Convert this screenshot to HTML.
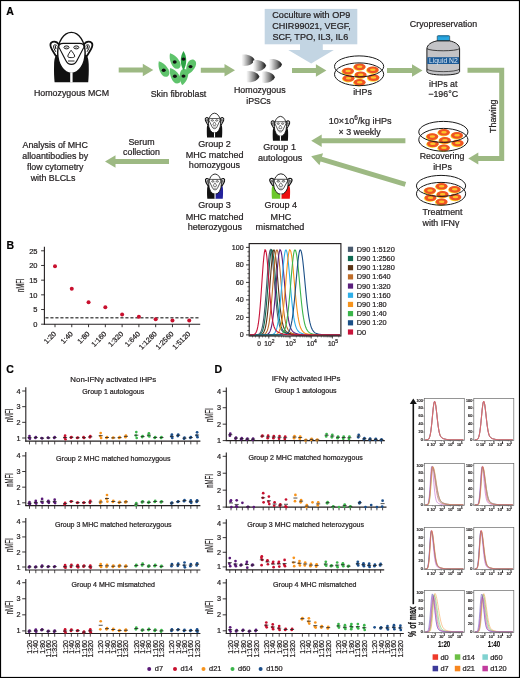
<!DOCTYPE html>
<html><head><meta charset="utf-8"><style>
html,body{margin:0;padding:0;background:#fff;}
svg{display:block;will-change:transform;}
text{font-family:"Liberation Sans", sans-serif;stroke:#231f20;stroke-width:0.22px;}
</style></head><body>
<svg width="520" height="678" viewBox="0 0 520 678" font-family='"Liberation Sans", sans-serif'>
<rect x="0" y="0" width="520" height="678" fill="#fff"/>
<defs>
<symbol id="monkey" viewBox="0 0 53 58" overflow="visible">
  <g fill="#fff" stroke="#111" stroke-width="1.80">
    <path d="M14,16.5 C12.5,14.2 9.8,13.2 7.6,13.8 C5.6,14.5 5.1,16.8 5.8,19 C6.8,22 9,24.8 10.8,27.8 L13.2,27.8 Z"/>
    <path d="M38.8,16.5 C40.3,14.2 43,13.2 45.2,13.8 C47.2,14.5 47.7,16.8 47,19 C46,22 43.8,24.8 42,27.8 L39.6,27.8 Z"/>
  </g>
  <g fill="none" stroke="#111" stroke-width="1.00">
    <path d="M12.4,18.2 C11.2,16.6 9.4,16.4 8.6,17.6 C8.2,19 9.3,21.5 10.8,23.8"/>
    <path d="M40.4,18.2 C41.6,16.6 43.4,16.4 44.2,17.6 C44.6,19 43.5,21.5 42,23.8"/>
  </g>
  <path d="M10.2,17.6 L10.9,21.2" stroke="#111" stroke-width="1.10"/>
  <path d="M42.6,17.6 L41.9,21.2" stroke="#111" stroke-width="1.10"/>
  <ellipse cx="26.4" cy="24.9" rx="13.7" ry="20.5" fill="#fff" stroke="#111" stroke-width="1.40"/>
  <path d="M18.2,15.4 L34.6,15.4 C37.8,15.4 39.5,16.9 38.8,19.4 L32,32.4 C30.6,35.4 28.5,36.3 26.4,36.3 C24.3,36.3 22.2,35.4 20.8,32.4 L14,19.4 C13.3,16.9 15,15.4 18.2,15.4 Z" fill="#fff" stroke="#111" stroke-width="1.15"/>
  <ellipse cx="21.5" cy="19.4" rx="2.5" ry="1.5" fill="#fff" stroke="#111" stroke-width="1.00"/>
  <ellipse cx="31.3" cy="19.4" rx="2.5" ry="1.5" fill="#fff" stroke="#111" stroke-width="1.00"/>
  <ellipse cx="21.5" cy="19.4" rx="1" ry="0.55" fill="#999"/>
  <ellipse cx="31.3" cy="19.4" rx="1" ry="0.55" fill="#999"/>
  <path d="M26.1,22.3 C25,23.8 22.8,26.8 22.8,28.2 C22.8,29.4 24.3,29.6 26.2,29.6 C28.1,29.6 29.7,29.4 29.7,28.2 C29.7,26.8 27.3,23.8 26.1,22.3 Z" fill="#fff" stroke="#111" stroke-width="0.95"/>
  <rect x="23" y="32.4" width="6.5" height="1.2" fill="#555"/>
  <rect x="25.2" y="44.5" width="2.4" height="10" fill="#fff"/>
</symbol>

<symbol id="monkeys" viewBox="0 0 53 58" overflow="visible">
  <g fill="#fff" stroke="#111" stroke-width="2.34">
    <path d="M14,16.5 C12.5,14.2 9.8,13.2 7.6,13.8 C5.6,14.5 5.1,16.8 5.8,19 C6.8,22 9,24.8 10.8,27.8 L13.2,27.8 Z"/>
    <path d="M38.8,16.5 C40.3,14.2 43,13.2 45.2,13.8 C47.2,14.5 47.7,16.8 47,19 C46,22 43.8,24.8 42,27.8 L39.6,27.8 Z"/>
  </g>
  <g fill="none" stroke="#111" stroke-width="1.30">
    <path d="M12.4,18.2 C11.2,16.6 9.4,16.4 8.6,17.6 C8.2,19 9.3,21.5 10.8,23.8"/>
    <path d="M40.4,18.2 C41.6,16.6 43.4,16.4 44.2,17.6 C44.6,19 43.5,21.5 42,23.8"/>
  </g>
  <path d="M10.2,17.6 L10.9,21.2" stroke="#111" stroke-width="1.43"/>
  <path d="M42.6,17.6 L41.9,21.2" stroke="#111" stroke-width="1.43"/>
  <ellipse cx="26.4" cy="24.9" rx="13.7" ry="20.5" fill="#fff" stroke="#111" stroke-width="1.82"/>
  <path d="M18.2,15.4 L34.6,15.4 C37.8,15.4 39.5,16.9 38.8,19.4 L32,32.4 C30.6,35.4 28.5,36.3 26.4,36.3 C24.3,36.3 22.2,35.4 20.8,32.4 L14,19.4 C13.3,16.9 15,15.4 18.2,15.4 Z" fill="#fff" stroke="#111" stroke-width="1.49"/>
  <ellipse cx="21.5" cy="19.4" rx="2.5" ry="1.5" fill="#fff" stroke="#111" stroke-width="1.30"/>
  <ellipse cx="31.3" cy="19.4" rx="2.5" ry="1.5" fill="#fff" stroke="#111" stroke-width="1.30"/>
  <ellipse cx="21.5" cy="19.4" rx="1" ry="0.55" fill="#999"/>
  <ellipse cx="31.3" cy="19.4" rx="1" ry="0.55" fill="#999"/>
  <path d="M26.1,22.3 C25,23.8 22.8,26.8 22.8,28.2 C22.8,29.4 24.3,29.6 26.2,29.6 C28.1,29.6 29.7,29.4 29.7,28.2 C29.7,26.8 27.3,23.8 26.1,22.3 Z" fill="#fff" stroke="#111" stroke-width="1.23"/>
  <rect x="23" y="32.4" width="6.5" height="1.2" fill="#555"/>
  <rect x="25.2" y="44.5" width="2.4" height="10" fill="#fff"/>
</symbol>

<linearGradient id="ipsc" x1="0" y1="0" x2="1" y2="0">
  <stop offset="0" stop-color="#ffffff"/>
  <stop offset="0.2" stop-color="#dcdcdc"/>
  <stop offset="0.6" stop-color="#808080"/>
  <stop offset="0.88" stop-color="#2e2e2e"/>
  <stop offset="1" stop-color="#3a3a3a"/>
</linearGradient>
<symbol id="ipscb" viewBox="0 0 13.5 11.8" overflow="visible">
  <path d="M1.2,0.3 C7.5,-0.3 12.2,2.6 13.4,5.9 C12.2,9.2 7.5,12.1 1.2,11.5 C0.4,11.4 0.1,10.8 0.1,10 L0.1,1.8 C0.1,1 0.4,0.4 1.2,0.3 Z" fill="url(#ipsc)"/>
</symbol>
<g id="dish">
<ellipse cx="0.10" cy="-2.70" rx="6.1" ry="3.6" fill="#fde12d"/>
<ellipse cx="0.60" cy="-3.20" rx="5.9" ry="3.3" fill="#ef5323"/>
<ellipse cx="0.60" cy="-3.30" rx="2.8" ry="1.2" fill="#fcc42a"/>
<ellipse cx="-11.50" cy="1.60" rx="6.1" ry="3.6" fill="#fde12d"/>
<ellipse cx="-11.00" cy="1.10" rx="5.9" ry="3.3" fill="#ef5323"/>
<ellipse cx="-11.00" cy="1.00" rx="2.8" ry="1.2" fill="#fcc42a"/>
<ellipse cx="13.20" cy="0.40" rx="6.1" ry="3.6" fill="#fde12d"/>
<ellipse cx="13.70" cy="-0.10" rx="5.9" ry="3.3" fill="#ef5323"/>
<ellipse cx="13.70" cy="-0.20" rx="2.8" ry="1.2" fill="#fcc42a"/>
<ellipse cx="1.10" cy="5.40" rx="6.1" ry="3.6" fill="#fde12d"/>
<ellipse cx="1.60" cy="4.90" rx="5.9" ry="3.3" fill="#ef5323"/>
<ellipse cx="1.60" cy="4.80" rx="2.8" ry="1.2" fill="#fcc42a"/>
<ellipse cx="-11.00" cy="8.80" rx="6.1" ry="3.6" fill="#fde12d"/>
<ellipse cx="-10.50" cy="8.30" rx="5.9" ry="3.3" fill="#ef5323"/>
<ellipse cx="-10.50" cy="8.20" rx="2.8" ry="1.2" fill="#fcc42a"/>
<ellipse cx="13.90" cy="8.10" rx="6.1" ry="3.6" fill="#fde12d"/>
<ellipse cx="14.40" cy="7.60" rx="5.9" ry="3.3" fill="#ef5323"/>
<ellipse cx="14.40" cy="7.50" rx="2.8" ry="1.2" fill="#fcc42a"/>
<ellipse cx="0.10" cy="12.80" rx="6.1" ry="3.6" fill="#fde12d"/>
<ellipse cx="0.60" cy="12.30" rx="5.9" ry="3.3" fill="#ef5323"/>
<ellipse cx="0.60" cy="12.20" rx="2.8" ry="1.2" fill="#fcc42a"/>
<ellipse cx="0" cy="-3.6" rx="24.6" ry="10.5" fill="none" stroke="#1a1a1a" stroke-width="1"/>
<ellipse cx="0" cy="4.3" rx="24.6" ry="11.4" fill="none" stroke="#1a1a1a" stroke-width="1"/>
</g></defs>
<text x="6.30" y="15.20" font-size="10.5" text-anchor="start" fill="#000" font-weight="bold" >A</text>
<g transform="translate(45,28) scale(1.0000,1.0000)"><path d="M12.5,26.5 C10,27 9.2,32 9.1,36 C8.8,44 9.2,50 9.6,54.3 L26.4,54.3 L26.4,26 Z" fill="#111"/><path d="M26.4,26 L26.4,54.3 L43.2,54.3 C43.6,50 44,44 43.7,36 C43.6,32 42.8,27 40.3,26.5 Z" fill="#111"/><use href="#monkey" x="0" y="0" width="53" height="58"/></g>
<text x="71.50" y="96.20" font-size="8.85" text-anchor="middle" fill="#231f20" font-weight="normal" >Homozygous MCM</text>
<polygon points="118.70,67.60 142.80,67.60 142.80,63.85 153.30,70.10 142.80,76.35 142.80,72.60 118.70,72.60" fill="#9db983"/>
<path d="M0,-8.75 C4.80,-3.94 6.48,8.31 0,8.75 C-6.48,8.31 -4.80,-3.94 0,-8.75 Z" fill="#5ec36b" transform="translate(163.20,68.80) rotate(-30)"/>
<path d="M0,-8.75 C4.80,-3.94 6.48,8.31 0,8.75 C-6.48,8.31 -4.80,-3.94 0,-8.75 Z" fill="#5ec36b" transform="translate(174.40,60.80) rotate(-30)"/>
<path d="M0,-8.25 C4.80,-3.71 6.48,7.84 0,8.25 C-6.48,7.84 -4.80,-3.71 0,-8.25 Z" fill="#5ec36b" transform="translate(190.40,67.20) rotate(205)"/>
<path d="M0,-8.75 C4.80,-3.94 6.48,8.31 0,8.75 C-6.48,8.31 -4.80,-3.94 0,-8.75 Z" fill="#5ec36b" transform="translate(174.60,75.50) rotate(-30)"/>
<path d="M0,-8.25 C4.70,-3.71 6.35,7.84 0,8.25 C-6.35,7.84 -4.70,-3.71 0,-8.25 Z" fill="#5ec36b" transform="translate(183.60,77.00) rotate(190)"/>
<path d="M0,-9.60 C3.64,-3.84 3.64,3.84 0,9.60 C-3.64,3.84 -3.64,-3.84 0,-9.60 Z" fill="#2ea446" transform="translate(183.50,60.60) rotate(0)"/>
<ellipse cx="163.7" cy="70.2" rx="2.0" ry="1.7" fill="#111"/>
<ellipse cx="174.7" cy="62" rx="2.0" ry="1.7" fill="#111"/>
<ellipse cx="183.5" cy="59.1" rx="2.0" ry="1.7" fill="#111"/>
<ellipse cx="190.5" cy="66.6" rx="2.0" ry="1.7" fill="#111"/>
<ellipse cx="174.9" cy="76.3" rx="2.0" ry="1.7" fill="#111"/>
<ellipse cx="183.5" cy="76.1" rx="2.0" ry="1.7" fill="#111"/>
<text x="178.50" y="96.70" font-size="8.85" text-anchor="middle" fill="#231f20" font-weight="normal" >Skin fibroblast</text>
<polygon points="200.80,67.70 224.50,67.70 224.50,63.95 235.00,70.20 224.50,76.45 224.50,72.70 200.80,72.70" fill="#9db983"/>
<use href="#ipscb" x="241.3" y="54.3" width="13.5" height="11.8"/>
<use href="#ipscb" x="252.8" y="59.9" width="13.5" height="11.8"/>
<use href="#ipscb" x="268.7" y="58.7" width="13.5" height="11.8"/>
<use href="#ipscb" x="246.1" y="70.7" width="13.5" height="11.8"/>
<use href="#ipscb" x="261.5" y="71.3" width="13.5" height="11.8"/>
<text x="259.80" y="93.20" font-size="8.85" text-anchor="middle" fill="#231f20" font-weight="normal" >Homozygous</text>
<text x="258.50" y="103.60" font-size="8.85" text-anchor="middle" fill="#231f20" font-weight="normal" >iPSCs</text>
<rect x="264.7" y="8.9" width="92.6" height="35.4" fill="#c3d5e3"/>
<polygon points="300,44 322.8,44 322.8,50 333.8,50 311.2,63.5 288.3,50 300,50" fill="#c3d5e3"/>
<text x="311.30" y="17.90" font-size="9.05" text-anchor="middle" fill="#231f20" font-weight="normal" >Coculture with OP9</text>
<text x="311.50" y="29.10" font-size="9.05" text-anchor="middle" fill="#231f20" font-weight="normal" >CHIR99021, VEGF,</text>
<text x="310.30" y="40.10" font-size="9.05" text-anchor="middle" fill="#231f20" font-weight="normal" >SCF, TPO, IL3, IL6</text>
<polygon points="292.00,68.00 315.90,68.00 315.90,64.25 326.40,70.50 315.90,76.75 315.90,73.00 292.00,73.00" fill="#9db983"/>
<use href="#dish" x="359.1" y="70"/>
<text x="362.50" y="95.20" font-size="8.85" text-anchor="middle" fill="#231f20" font-weight="normal" >iHPs</text>
<polygon points="387.00,67.90 412.00,67.90 412.00,64.15 422.50,70.40 412.00,76.65 412.00,72.90 387.00,72.90" fill="#9db983"/>
<text x="443.50" y="26.80" font-size="8.85" text-anchor="middle" fill="#231f20" font-weight="normal" >Cryopreservation</text>
<g>
<path d="M437.2,41 L437.2,36.6 Q437.2,35.6 438.4,35.6 L448.5,35.6 Q449.7,35.6 449.7,36.6 L449.7,41 Z" fill="#27a7e0" stroke="#1a1a1a" stroke-width="0.5"/>
<ellipse cx="443.45" cy="36.3" rx="6.1" ry="0.9" fill="#1e8cc4"/>
<path d="M437,40.9 C431,42 427,45 426.9,48.8 L426.9,71.5 C426.9,73.5 433,75 443.3,75 C453.6,75 459.6,73.5 459.6,71.5 L459.6,48.8 C459.5,45 455.5,42 449.6,40.9 Z" fill="#c3c3c6" stroke="#1a1a1a" stroke-width="1"/>
<path d="M426.9,48.6 C430,51.5 456.5,51.5 459.6,48.6" fill="none" stroke="#1a1a1a" stroke-width="0.8"/>
<path d="M426.9,69 C430,72.5 456.5,72.5 459.6,69" fill="none" stroke="#1a1a1a" stroke-width="0.7"/>
<rect x="427.3" y="57.2" width="31.9" height="6.8" fill="#1b5a97"/>
<text x="443.4" y="62.8" font-size="6.8" text-anchor="middle" fill="#dce8f5" style="stroke:none">Liquid N2</text>
</g>
<text x="443.20" y="86.50" font-size="8.85" text-anchor="middle" fill="#231f20" font-weight="normal" >iHPs at</text>
<text x="443.20" y="96.80" font-size="8.85" text-anchor="middle" fill="#231f20" font-weight="normal" >&#8722;196&#176;C</text>
<polyline points="467.5,70.2 501.7,70.2 501.7,158.5 477.5,158.5" fill="none" stroke="#9db983" stroke-width="5"/>
<polygon points="478.3,152.6 468.3,158.5 478.3,164.6" fill="#9db983"/>
<text x="0" y="0" font-size="8.85" text-anchor="middle" fill="#231f20" transform="translate(496.3,116.2) rotate(-90)">Thawing</text>
<use href="#dish" x="443.35" y="135.5"/>
<text x="442.00" y="159.20" font-size="8.85" text-anchor="middle" fill="#231f20" font-weight="normal" >Recovering</text>
<text x="442.50" y="170.10" font-size="8.85" text-anchor="middle" fill="#231f20" font-weight="normal" >iHPs</text>
<use href="#dish" x="441.05" y="189.5"/>
<text x="442.50" y="215.00" font-size="8.85" text-anchor="middle" fill="#231f20" font-weight="normal" >Treatment</text>
<text x="441.00" y="225.60" font-size="8.85" text-anchor="middle" fill="#231f20" font-weight="normal" >with IFN&#947;</text>
<polygon points="405.40,138.30 321.70,138.30 321.70,134.55 311.20,140.80 321.70,147.05 321.70,143.30 405.40,143.30" fill="#9db983"/>
<polygon points="406.12,182.01 321.98,156.82 323.05,153.22 311.20,156.20 319.47,165.20 320.54,161.61 404.68,186.79" fill="#9db983"/>
<text x="360.2" y="123.5" font-size="9.1" text-anchor="middle" fill="#231f20">10&#215;10<tspan font-size="6.4" dy="-3.6">6</tspan><tspan dy="3.6">/kg iHPs</tspan></text>
<text x="359.60" y="134.50" font-size="8.85" text-anchor="middle" fill="#231f20" font-weight="normal" >&#215; 3 weekly</text>
<g transform="translate(202.8,111.0) scale(0.4440,0.4870)"><path d="M12.5,26.5 C10,27 9.2,32 9.1,36 C8.8,44 9.2,50 9.6,54.3 L26.4,54.3 L26.4,26 Z" fill="#111"/><path d="M26.4,26 L26.4,54.3 L43.2,54.3 C43.6,50 44,44 43.7,36 C43.6,32 42.8,27 40.3,26.5 Z" fill="#111"/><use href="#monkeys" x="0" y="0" width="53" height="58"/></g>
<g transform="translate(268.7,114.2) scale(0.4440,0.4880)"><path d="M12.5,26.5 C10,27 9.2,32 9.1,36 C8.8,44 9.2,50 9.6,54.3 L26.4,54.3 L26.4,26 Z" fill="#111"/><path d="M26.4,26 L26.4,54.3 L43.2,54.3 C43.6,50 44,44 43.7,36 C43.6,32 42.8,27 40.3,26.5 Z" fill="#111"/><use href="#monkeys" x="0" y="0" width="53" height="58"/></g>
<g transform="translate(202.9,171.8) scale(0.4600,0.4950)"><path d="M12.5,26.5 C10,27 9.2,32 9.1,36 C8.8,44 9.2,50 9.6,54.3 L26.4,54.3 L26.4,26 Z" fill="#111"/><path d="M26.4,26 L26.4,54.3 L43.2,54.3 C43.6,50 44,44 43.7,36 C43.6,32 42.8,27 40.3,26.5 Z" fill="#23219b"/><use href="#monkeys" x="0" y="0" width="53" height="58"/></g>
<g transform="translate(266.9,171.6) scale(0.5300,0.5000)"><path d="M12.5,26.5 C10,27 9.2,32 9.1,36 C8.8,44 9.2,50 9.6,54.3 L26.4,54.3 L26.4,26 Z" fill="#6cc72a"/><path d="M26.4,26 L26.4,54.3 L43.2,54.3 C43.6,50 44,44 43.7,36 C43.6,32 42.8,27 40.3,26.5 Z" fill="#ec1010"/><use href="#monkeys" x="0" y="0" width="53" height="58"/></g>
<text x="214.50" y="146.50" font-size="9.05" text-anchor="middle" fill="#231f20" font-weight="normal" >Group 2</text>
<text x="214.60" y="157.50" font-size="9.05" text-anchor="middle" fill="#231f20" font-weight="normal" >MHC matched</text>
<text x="214.50" y="168.00" font-size="9.05" text-anchor="middle" fill="#231f20" font-weight="normal" >homozygous</text>
<text x="279.60" y="150.40" font-size="9.05" text-anchor="middle" fill="#231f20" font-weight="normal" >Group 1</text>
<text x="280.20" y="160.80" font-size="9.05" text-anchor="middle" fill="#231f20" font-weight="normal" >autologous</text>
<text x="214.50" y="207.80" font-size="9.05" text-anchor="middle" fill="#231f20" font-weight="normal" >Group 3</text>
<text x="214.60" y="219.50" font-size="9.05" text-anchor="middle" fill="#231f20" font-weight="normal" >MHC matched</text>
<text x="214.80" y="229.80" font-size="9.05" text-anchor="middle" fill="#231f20" font-weight="normal" >heterozygous</text>
<text x="280.80" y="207.80" font-size="9.05" text-anchor="middle" fill="#231f20" font-weight="normal" >Group 4</text>
<text x="280.90" y="219.50" font-size="9.05" text-anchor="middle" fill="#231f20" font-weight="normal" >MHC</text>
<text x="280.00" y="229.90" font-size="9.05" text-anchor="middle" fill="#231f20" font-weight="normal" >mismatched</text>
<polygon points="169.00,159.10 115.50,159.10 115.50,155.35 105.00,161.60 115.50,167.85 115.50,164.10 169.00,164.10" fill="#9db983"/>
<text x="141.50" y="144.60" font-size="8.85" text-anchor="middle" fill="#231f20" font-weight="normal" >Serum</text>
<text x="141.50" y="154.60" font-size="8.85" text-anchor="middle" fill="#231f20" font-weight="normal" >collection</text>
<text x="55.20" y="147.80" font-size="8.85" text-anchor="middle" fill="#231f20" font-weight="normal" >Analysis of MHC</text>
<text x="55.20" y="158.50" font-size="8.85" text-anchor="middle" fill="#231f20" font-weight="normal" >alloantibodies by</text>
<text x="55.20" y="169.80" font-size="8.85" text-anchor="middle" fill="#231f20" font-weight="normal" >flow cytometry</text>
<text x="53.00" y="181.00" font-size="8.85" text-anchor="middle" fill="#231f20" font-weight="normal" >with BLCLs</text>
<text x="6.60" y="248.90" font-size="10.5" text-anchor="start" fill="#000" font-weight="bold" >B</text>
<line x1="44.4" y1="246.8" x2="44.4" y2="324.7" stroke="#231f20" stroke-width="1.1"/>
<line x1="43.9" y1="324.2" x2="200.2" y2="324.2" stroke="#231f20" stroke-width="1.1"/>
<line x1="41.1" y1="324.20" x2="44.4" y2="324.20" stroke="#231f20" stroke-width="0.9"/>
<text x="37.50" y="326.90" font-size="7.5" text-anchor="end" fill="#231f20" font-weight="normal" >0</text>
<line x1="41.1" y1="309.52" x2="44.4" y2="309.52" stroke="#231f20" stroke-width="0.9"/>
<text x="37.50" y="312.22" font-size="7.5" text-anchor="end" fill="#231f20" font-weight="normal" >5</text>
<line x1="41.1" y1="294.84" x2="44.4" y2="294.84" stroke="#231f20" stroke-width="0.9"/>
<text x="37.50" y="297.54" font-size="7.5" text-anchor="end" fill="#231f20" font-weight="normal" >10</text>
<line x1="41.1" y1="280.16" x2="44.4" y2="280.16" stroke="#231f20" stroke-width="0.9"/>
<text x="37.50" y="282.86" font-size="7.5" text-anchor="end" fill="#231f20" font-weight="normal" >15</text>
<line x1="41.1" y1="265.48" x2="44.4" y2="265.48" stroke="#231f20" stroke-width="0.9"/>
<text x="37.50" y="268.18" font-size="7.5" text-anchor="end" fill="#231f20" font-weight="normal" >20</text>
<line x1="41.1" y1="250.80" x2="44.4" y2="250.80" stroke="#231f20" stroke-width="0.9"/>
<text x="37.50" y="253.50" font-size="7.5" text-anchor="end" fill="#231f20" font-weight="normal" >25</text>
<text font-size="10" text-anchor="middle" fill="#231f20" transform="translate(23.6,285.3) rotate(-90) scale(0.58,1)">nMFI</text>
<line x1="45.4" y1="317.8" x2="199" y2="317.8" stroke="#555" stroke-width="1.5" stroke-dasharray="3.1,1.9"/>
<line x1="55.00" y1="324.2" x2="55.00" y2="327.2" stroke="#231f20" stroke-width="0.9"/>
<text font-size="7.2" text-anchor="end" fill="#231f20" transform="translate(56.60,334.4) rotate(-45)">1:20</text>
<circle cx="55.00" cy="266.36" r="2.0" fill="#c8102e"/>
<line x1="71.78" y1="324.2" x2="71.78" y2="327.2" stroke="#231f20" stroke-width="0.9"/>
<text font-size="7.2" text-anchor="end" fill="#231f20" transform="translate(73.38,334.4) rotate(-45)">1:40</text>
<circle cx="71.78" cy="288.67" r="2.0" fill="#c8102e"/>
<line x1="88.56" y1="324.2" x2="88.56" y2="327.2" stroke="#231f20" stroke-width="0.9"/>
<text font-size="7.2" text-anchor="end" fill="#231f20" transform="translate(90.16,334.4) rotate(-45)">1:80</text>
<circle cx="88.56" cy="302.18" r="2.0" fill="#c8102e"/>
<line x1="105.34" y1="324.2" x2="105.34" y2="327.2" stroke="#231f20" stroke-width="0.9"/>
<text font-size="7.2" text-anchor="end" fill="#231f20" transform="translate(106.94,334.4) rotate(-45)">1:160</text>
<circle cx="105.34" cy="307.17" r="2.0" fill="#c8102e"/>
<line x1="122.12" y1="324.2" x2="122.12" y2="327.2" stroke="#231f20" stroke-width="0.9"/>
<text font-size="7.2" text-anchor="end" fill="#231f20" transform="translate(123.72,334.4) rotate(-45)">1:320</text>
<circle cx="122.12" cy="314.51" r="2.0" fill="#c8102e"/>
<line x1="138.90" y1="324.2" x2="138.90" y2="327.2" stroke="#231f20" stroke-width="0.9"/>
<text font-size="7.2" text-anchor="end" fill="#231f20" transform="translate(140.50,334.4) rotate(-45)">1:640</text>
<circle cx="138.90" cy="316.86" r="2.0" fill="#c8102e"/>
<line x1="155.68" y1="324.2" x2="155.68" y2="327.2" stroke="#231f20" stroke-width="0.9"/>
<text font-size="7.2" text-anchor="end" fill="#231f20" transform="translate(157.28,334.4) rotate(-45)">1:1280</text>
<circle cx="155.68" cy="319.21" r="2.0" fill="#c8102e"/>
<line x1="172.46" y1="324.2" x2="172.46" y2="327.2" stroke="#231f20" stroke-width="0.9"/>
<text font-size="7.2" text-anchor="end" fill="#231f20" transform="translate(174.06,334.4) rotate(-45)">1:2560</text>
<circle cx="172.46" cy="320.38" r="2.0" fill="#c8102e"/>
<line x1="189.24" y1="324.2" x2="189.24" y2="327.2" stroke="#231f20" stroke-width="0.9"/>
<text font-size="7.2" text-anchor="end" fill="#231f20" transform="translate(190.84,334.4) rotate(-45)">1:5120</text>
<circle cx="189.24" cy="320.38" r="2.0" fill="#c8102e"/>
<path d="M250.0,334.9 L250.6,334.9 L251.2,334.9 L251.8,334.9 L252.4,334.9 L253.0,334.9 L253.6,334.9 L254.2,334.9 L254.8,334.9 L255.4,334.9 L256.0,334.8 L256.6,334.8 L257.2,334.7 L257.8,334.6 L258.4,334.4 L259.0,334.1 L259.6,333.6 L260.2,332.9 L260.8,331.8 L261.4,330.4 L262.0,328.3 L262.6,325.6 L263.2,322.1 L263.8,317.8 L264.4,312.4 L265.0,306.1 L265.6,298.9 L266.2,291.1 L266.8,282.9 L267.4,274.6 L268.0,266.9 L268.6,260.1 L269.2,254.7 L269.8,251.1 L270.4,249.6 L271.0,250.5 L271.6,252.9 L272.2,257.1 L272.8,262.7 L273.4,269.4 L274.0,276.8 L274.6,284.4 L275.2,291.8 L275.8,298.9 L276.4,305.2 L277.0,310.8 L277.6,315.5 L278.2,319.5 L278.8,322.6 L279.4,325.1 L280.0,327.0 L280.6,328.5 L281.2,329.7 L281.8,330.5 L282.4,331.2 L283.0,331.7 L283.6,332.2 L284.2,332.5 L284.8,332.9 L285.4,333.1 L286.0,333.4 L286.6,333.6 L287.2,333.8 L287.8,333.9 L288.4,334.1 L289.0,334.2 L289.6,334.3 L290.2,334.4 L290.8,334.5 L291.4,334.6 L292.0,334.6 L292.6,334.7 L293.2,334.7 L293.8,334.8 L294.4,334.8 L295.0,334.8 L295.6,334.8 L296.2,334.8 L296.8,334.9 L297.4,334.9 L298.0,334.9 L298.6,334.9 L299.2,334.9 L299.8,334.9 L300.4,334.9 L301.0,334.9 L301.6,334.9 L302.2,334.9 L302.8,334.9 L303.4,334.9 L304.0,334.9 L304.6,334.9 L305.2,334.9 L305.8,334.9 L306.4,334.9 L307.0,334.9 L307.6,334.9 L308.2,334.9 L308.8,334.9 L309.4,334.9 L310.0,334.9 L310.6,334.9 L311.2,334.9 L311.8,334.9 L312.4,334.9 L313.0,334.9 L313.6,334.9 L314.2,334.9 L314.8,334.9 L315.4,334.9 L316.0,334.9 L316.6,334.9 L317.2,334.9 L317.8,334.9 L318.4,334.9 L319.0,334.9 L319.6,334.9 L320.2,334.9 L320.8,334.9 L321.4,334.9 L322.0,334.9 L322.6,334.9 L323.2,334.9 L323.8,334.9 L324.4,334.9 L325.0,334.9 L325.6,334.9 L326.2,334.9 L326.8,334.9 L327.4,334.9 L328.0,334.9 L328.6,334.9 L329.2,334.9 L329.8,334.9 L330.4,334.9 L331.0,334.9 L331.6,334.9 L332.2,334.9 L332.8,334.9 L333.4,334.9 L334.0,334.9 L334.6,334.9 L335.2,334.9 L335.8,334.9 L336.4,334.9 L337.0,334.9 L337.6,334.9 L338.2,334.9 L338.8,334.9 L339.4,334.9 L340.0,334.9" fill="none" stroke="#4a5a6e" stroke-width="1.1"/>
<path d="M250.0,334.9 L250.6,334.9 L251.2,334.9 L251.8,334.9 L252.4,334.9 L253.0,334.9 L253.6,334.9 L254.2,334.9 L254.8,334.9 L255.4,334.9 L256.0,334.9 L256.6,334.9 L257.2,334.9 L257.8,334.8 L258.4,334.7 L259.0,334.6 L259.6,334.4 L260.2,334.2 L260.8,333.7 L261.4,333.0 L262.0,332.0 L262.6,330.7 L263.2,328.7 L263.8,326.1 L264.4,322.8 L265.0,318.5 L265.6,313.4 L266.2,307.2 L266.8,300.2 L267.4,292.4 L268.0,284.2 L268.6,276.0 L269.2,268.1 L269.8,261.1 L270.4,255.4 L271.0,251.5 L271.6,249.7 L272.2,250.3 L272.8,252.4 L273.4,256.3 L274.0,261.7 L274.6,268.3 L275.2,275.5 L275.8,283.1 L276.4,290.6 L277.0,297.7 L277.6,304.2 L278.2,309.9 L278.8,314.8 L279.4,318.9 L280.0,322.1 L280.6,324.7 L281.2,326.7 L281.8,328.3 L282.4,329.5 L283.0,330.4 L283.6,331.1 L284.2,331.7 L284.8,332.1 L285.4,332.5 L286.0,332.8 L286.6,333.1 L287.2,333.3 L287.8,333.5 L288.4,333.7 L289.0,333.9 L289.6,334.0 L290.2,334.2 L290.8,334.3 L291.4,334.4 L292.0,334.5 L292.6,334.6 L293.2,334.6 L293.8,334.7 L294.4,334.7 L295.0,334.7 L295.6,334.8 L296.2,334.8 L296.8,334.8 L297.4,334.8 L298.0,334.9 L298.6,334.9 L299.2,334.9 L299.8,334.9 L300.4,334.9 L301.0,334.9 L301.6,334.9 L302.2,334.9 L302.8,334.9 L303.4,334.9 L304.0,334.9 L304.6,334.9 L305.2,334.9 L305.8,334.9 L306.4,334.9 L307.0,334.9 L307.6,334.9 L308.2,334.9 L308.8,334.9 L309.4,334.9 L310.0,334.9 L310.6,334.9 L311.2,334.9 L311.8,334.9 L312.4,334.9 L313.0,334.9 L313.6,334.9 L314.2,334.9 L314.8,334.9 L315.4,334.9 L316.0,334.9 L316.6,334.9 L317.2,334.9 L317.8,334.9 L318.4,334.9 L319.0,334.9 L319.6,334.9 L320.2,334.9 L320.8,334.9 L321.4,334.9 L322.0,334.9 L322.6,334.9 L323.2,334.9 L323.8,334.9 L324.4,334.9 L325.0,334.9 L325.6,334.9 L326.2,334.9 L326.8,334.9 L327.4,334.9 L328.0,334.9 L328.6,334.9 L329.2,334.9 L329.8,334.9 L330.4,334.9 L331.0,334.9 L331.6,334.9 L332.2,334.9 L332.8,334.9 L333.4,334.9 L334.0,334.9 L334.6,334.9 L335.2,334.9 L335.8,334.9 L336.4,334.9 L337.0,334.9 L337.6,334.9 L338.2,334.9 L338.8,334.9 L339.4,334.9 L340.0,334.9" fill="none" stroke="#0e6a52" stroke-width="1.1"/>
<path d="M250.0,334.9 L250.6,334.9 L251.2,334.9 L251.8,334.9 L252.4,334.9 L253.0,334.9 L253.6,334.9 L254.2,334.9 L254.8,334.9 L255.4,334.9 L256.0,334.9 L256.6,334.9 L257.2,334.9 L257.8,334.9 L258.4,334.9 L259.0,334.8 L259.6,334.8 L260.2,334.7 L260.8,334.6 L261.4,334.4 L262.0,334.2 L262.6,333.7 L263.2,333.1 L263.8,332.1 L264.4,330.8 L265.0,329.0 L265.6,326.6 L266.2,323.5 L266.8,319.5 L267.4,314.7 L268.0,308.9 L268.6,302.3 L269.2,294.9 L269.8,287.1 L270.4,279.0 L271.0,271.1 L271.6,263.9 L272.2,257.7 L272.8,253.1 L273.4,250.3 L274.0,250.0 L274.6,251.0 L275.2,253.9 L275.8,258.4 L276.4,264.2 L277.0,270.9 L277.6,278.1 L278.2,285.5 L278.8,292.8 L279.4,299.6 L280.0,305.7 L280.6,311.1 L281.2,315.7 L281.8,319.5 L282.4,322.6 L283.0,325.1 L283.6,327.0 L284.2,328.5 L284.8,329.7 L285.4,330.6 L286.0,331.3 L286.6,331.8 L287.2,332.2 L287.8,332.6 L288.4,332.9 L289.0,333.2 L289.6,333.4 L290.2,333.6 L290.8,333.8 L291.4,334.0 L292.0,334.1 L292.6,334.2 L293.2,334.3 L293.8,334.4 L294.4,334.5 L295.0,334.6 L295.6,334.6 L296.2,334.7 L296.8,334.7 L297.4,334.8 L298.0,334.8 L298.6,334.8 L299.2,334.8 L299.8,334.8 L300.4,334.9 L301.0,334.9 L301.6,334.9 L302.2,334.9 L302.8,334.9 L303.4,334.9 L304.0,334.9 L304.6,334.9 L305.2,334.9 L305.8,334.9 L306.4,334.9 L307.0,334.9 L307.6,334.9 L308.2,334.9 L308.8,334.9 L309.4,334.9 L310.0,334.9 L310.6,334.9 L311.2,334.9 L311.8,334.9 L312.4,334.9 L313.0,334.9 L313.6,334.9 L314.2,334.9 L314.8,334.9 L315.4,334.9 L316.0,334.9 L316.6,334.9 L317.2,334.9 L317.8,334.9 L318.4,334.9 L319.0,334.9 L319.6,334.9 L320.2,334.9 L320.8,334.9 L321.4,334.9 L322.0,334.9 L322.6,334.9 L323.2,334.9 L323.8,334.9 L324.4,334.9 L325.0,334.9 L325.6,334.9 L326.2,334.9 L326.8,334.9 L327.4,334.9 L328.0,334.9 L328.6,334.9 L329.2,334.9 L329.8,334.9 L330.4,334.9 L331.0,334.9 L331.6,334.9 L332.2,334.9 L332.8,334.9 L333.4,334.9 L334.0,334.9 L334.6,334.9 L335.2,334.9 L335.8,334.9 L336.4,334.9 L337.0,334.9 L337.6,334.9 L338.2,334.9 L338.8,334.9 L339.4,334.9 L340.0,334.9" fill="none" stroke="#5b3416" stroke-width="1.1"/>
<path d="M250.0,334.9 L250.6,334.9 L251.2,334.9 L251.8,334.9 L252.4,334.9 L253.0,334.9 L253.6,334.9 L254.2,334.9 L254.8,334.9 L255.4,334.9 L256.0,334.9 L256.6,334.9 L257.2,334.9 L257.8,334.9 L258.4,334.9 L259.0,334.9 L259.6,334.9 L260.2,334.9 L260.8,334.9 L261.4,334.9 L262.0,334.8 L262.6,334.8 L263.2,334.7 L263.8,334.5 L264.4,334.3 L265.0,334.0 L265.6,333.4 L266.2,332.7 L266.8,331.6 L267.4,330.2 L268.0,328.2 L268.6,325.6 L269.2,322.3 L269.8,318.2 L270.4,313.3 L271.0,307.5 L271.6,300.8 L272.2,293.5 L272.8,285.8 L273.4,277.9 L274.0,270.3 L274.6,263.3 L275.2,257.4 L275.8,252.9 L276.4,250.3 L277.0,250.0 L277.6,251.0 L278.2,253.7 L278.8,258.0 L279.4,263.5 L280.0,270.0 L280.6,277.0 L281.2,284.2 L281.8,291.4 L282.4,298.1 L283.0,304.3 L283.6,309.8 L284.2,314.5 L284.8,318.5 L285.4,321.7 L286.0,324.4 L286.6,326.4 L287.2,328.1 L287.8,329.3 L288.4,330.3 L289.0,331.1 L289.6,331.7 L290.2,332.2 L290.8,332.6 L291.4,332.9 L292.0,333.2 L292.6,333.4 L293.2,333.6 L293.8,333.8 L294.4,334.0 L295.0,334.1 L295.6,334.2 L296.2,334.3 L296.8,334.4 L297.4,334.5 L298.0,334.6 L298.6,334.6 L299.2,334.7 L299.8,334.7 L300.4,334.8 L301.0,334.8 L301.6,334.8 L302.2,334.8 L302.8,334.8 L303.4,334.9 L304.0,334.9 L304.6,334.9 L305.2,334.9 L305.8,334.9 L306.4,334.9 L307.0,334.9 L307.6,334.9 L308.2,334.9 L308.8,334.9 L309.4,334.9 L310.0,334.9 L310.6,334.9 L311.2,334.9 L311.8,334.9 L312.4,334.9 L313.0,334.9 L313.6,334.9 L314.2,334.9 L314.8,334.9 L315.4,334.9 L316.0,334.9 L316.6,334.9 L317.2,334.9 L317.8,334.9 L318.4,334.9 L319.0,334.9 L319.6,334.9 L320.2,334.9 L320.8,334.9 L321.4,334.9 L322.0,334.9 L322.6,334.9 L323.2,334.9 L323.8,334.9 L324.4,334.9 L325.0,334.9 L325.6,334.9 L326.2,334.9 L326.8,334.9 L327.4,334.9 L328.0,334.9 L328.6,334.9 L329.2,334.9 L329.8,334.9 L330.4,334.9 L331.0,334.9 L331.6,334.9 L332.2,334.9 L332.8,334.9 L333.4,334.9 L334.0,334.9 L334.6,334.9 L335.2,334.9 L335.8,334.9 L336.4,334.9 L337.0,334.9 L337.6,334.9 L338.2,334.9 L338.8,334.9 L339.4,334.9 L340.0,334.9" fill="none" stroke="#bf6d2a" stroke-width="1.1"/>
<path d="M250.0,334.9 L250.6,334.9 L251.2,334.9 L251.8,334.9 L252.4,334.9 L253.0,334.9 L253.6,334.9 L254.2,334.9 L254.8,334.9 L255.4,334.9 L256.0,334.9 L256.6,334.9 L257.2,334.9 L257.8,334.9 L258.4,334.9 L259.0,334.9 L259.6,334.9 L260.2,334.9 L260.8,334.9 L261.4,334.9 L262.0,334.9 L262.6,334.9 L263.2,334.9 L263.8,334.9 L264.4,334.9 L265.0,334.8 L265.6,334.8 L266.2,334.7 L266.8,334.5 L267.4,334.3 L268.0,334.0 L268.6,333.5 L269.2,332.7 L269.8,331.7 L270.4,330.4 L271.0,328.5 L271.6,326.1 L272.2,323.0 L272.8,319.2 L273.4,314.5 L274.0,309.1 L274.6,302.8 L275.2,295.9 L275.8,288.4 L276.4,280.8 L277.0,273.2 L277.6,266.0 L278.2,259.8 L278.8,254.7 L279.4,251.3 L280.0,249.7 L280.6,250.2 L281.2,252.0 L281.8,255.4 L282.4,260.1 L283.0,265.9 L283.6,272.5 L284.2,279.4 L284.8,286.5 L285.4,293.4 L286.0,299.8 L286.6,305.7 L287.2,310.9 L287.8,315.4 L288.4,319.2 L289.0,322.3 L289.6,324.8 L290.2,326.8 L290.8,328.3 L291.4,329.5 L292.0,330.5 L292.6,331.2 L293.2,331.8 L293.8,332.3 L294.4,332.7 L295.0,333.0 L295.6,333.3 L296.2,333.5 L296.8,333.7 L297.4,333.9 L298.0,334.0 L298.6,334.2 L299.2,334.3 L299.8,334.4 L300.4,334.5 L301.0,334.6 L301.6,334.6 L302.2,334.7 L302.8,334.7 L303.4,334.7 L304.0,334.8 L304.6,334.8 L305.2,334.8 L305.8,334.8 L306.4,334.9 L307.0,334.9 L307.6,334.9 L308.2,334.9 L308.8,334.9 L309.4,334.9 L310.0,334.9 L310.6,334.9 L311.2,334.9 L311.8,334.9 L312.4,334.9 L313.0,334.9 L313.6,334.9 L314.2,334.9 L314.8,334.9 L315.4,334.9 L316.0,334.9 L316.6,334.9 L317.2,334.9 L317.8,334.9 L318.4,334.9 L319.0,334.9 L319.6,334.9 L320.2,334.9 L320.8,334.9 L321.4,334.9 L322.0,334.9 L322.6,334.9 L323.2,334.9 L323.8,334.9 L324.4,334.9 L325.0,334.9 L325.6,334.9 L326.2,334.9 L326.8,334.9 L327.4,334.9 L328.0,334.9 L328.6,334.9 L329.2,334.9 L329.8,334.9 L330.4,334.9 L331.0,334.9 L331.6,334.9 L332.2,334.9 L332.8,334.9 L333.4,334.9 L334.0,334.9 L334.6,334.9 L335.2,334.9 L335.8,334.9 L336.4,334.9 L337.0,334.9 L337.6,334.9 L338.2,334.9 L338.8,334.9 L339.4,334.9 L340.0,334.9" fill="none" stroke="#5a1f7c" stroke-width="1.1"/>
<path d="M250.0,334.9 L250.6,334.9 L251.2,334.9 L251.8,334.9 L252.4,334.9 L253.0,334.9 L253.6,334.9 L254.2,334.9 L254.8,334.9 L255.4,334.9 L256.0,334.9 L256.6,334.9 L257.2,334.9 L257.8,334.9 L258.4,334.9 L259.0,334.9 L259.6,334.9 L260.2,334.9 L260.8,334.9 L261.4,334.9 L262.0,334.9 L262.6,334.9 L263.2,334.9 L263.8,334.9 L264.4,334.9 L265.0,334.9 L265.6,334.9 L266.2,334.9 L266.8,334.9 L267.4,334.9 L268.0,334.9 L268.6,334.9 L269.2,334.9 L269.8,334.9 L270.4,334.8 L271.0,334.8 L271.6,334.7 L272.2,334.6 L272.8,334.4 L273.4,334.1 L274.0,333.7 L274.6,333.1 L275.2,332.3 L275.8,331.1 L276.4,329.5 L277.0,327.4 L277.6,324.6 L278.2,321.2 L278.8,317.0 L279.4,311.9 L280.0,306.0 L280.6,299.4 L281.2,292.2 L281.8,284.6 L282.4,276.9 L283.0,269.5 L283.6,262.8 L284.2,257.1 L284.8,252.8 L285.4,250.3 L286.0,250.0 L286.6,250.9 L287.2,253.5 L287.8,257.6 L288.4,262.9 L289.0,269.1 L289.6,275.9 L290.2,283.0 L290.8,290.0 L291.4,296.7 L292.0,302.9 L292.6,308.4 L293.2,313.3 L293.8,317.4 L294.4,320.8 L295.0,323.6 L295.6,325.8 L296.2,327.6 L296.8,329.0 L297.4,330.0 L298.0,330.9 L298.6,331.5 L299.2,332.1 L299.8,332.5 L300.4,332.9 L301.0,333.1 L301.6,333.4 L302.2,333.6 L302.8,333.8 L303.4,334.0 L304.0,334.1 L304.6,334.2 L305.2,334.3 L305.8,334.4 L306.4,334.5 L307.0,334.6 L307.6,334.6 L308.2,334.7 L308.8,334.7 L309.4,334.8 L310.0,334.8 L310.6,334.8 L311.2,334.8 L311.8,334.8 L312.4,334.9 L313.0,334.9 L313.6,334.9 L314.2,334.9 L314.8,334.9 L315.4,334.9 L316.0,334.9 L316.6,334.9 L317.2,334.9 L317.8,334.9 L318.4,334.9 L319.0,334.9 L319.6,334.9 L320.2,334.9 L320.8,334.9 L321.4,334.9 L322.0,334.9 L322.6,334.9 L323.2,334.9 L323.8,334.9 L324.4,334.9 L325.0,334.9 L325.6,334.9 L326.2,334.9 L326.8,334.9 L327.4,334.9 L328.0,334.9 L328.6,334.9 L329.2,334.9 L329.8,334.9 L330.4,334.9 L331.0,334.9 L331.6,334.9 L332.2,334.9 L332.8,334.9 L333.4,334.9 L334.0,334.9 L334.6,334.9 L335.2,334.9 L335.8,334.9 L336.4,334.9 L337.0,334.9 L337.6,334.9 L338.2,334.9 L338.8,334.9 L339.4,334.9 L340.0,334.9" fill="none" stroke="#2eaee8" stroke-width="1.1"/>
<path d="M250.0,334.9 L250.6,334.9 L251.2,334.9 L251.8,334.9 L252.4,334.9 L253.0,334.9 L253.6,334.9 L254.2,334.9 L254.8,334.9 L255.4,334.9 L256.0,334.9 L256.6,334.9 L257.2,334.9 L257.8,334.9 L258.4,334.9 L259.0,334.9 L259.6,334.9 L260.2,334.9 L260.8,334.9 L261.4,334.9 L262.0,334.9 L262.6,334.9 L263.2,334.9 L263.8,334.9 L264.4,334.9 L265.0,334.9 L265.6,334.9 L266.2,334.9 L266.8,334.9 L267.4,334.9 L268.0,334.9 L268.6,334.9 L269.2,334.9 L269.8,334.9 L270.4,334.9 L271.0,334.9 L271.6,334.9 L272.2,334.9 L272.8,334.9 L273.4,334.9 L274.0,334.8 L274.6,334.8 L275.2,334.7 L275.8,334.5 L276.4,334.3 L277.0,334.0 L277.6,333.6 L278.2,333.0 L278.8,332.1 L279.4,330.9 L280.0,329.3 L280.6,327.3 L281.2,324.7 L281.8,321.4 L282.4,317.5 L283.0,312.8 L283.6,307.3 L284.2,301.2 L284.8,294.4 L285.4,287.3 L286.0,279.9 L286.6,272.7 L287.2,265.9 L287.8,259.9 L288.4,255.0 L289.0,251.6 L289.6,249.8 L290.2,250.1 L290.8,251.4 L291.4,254.3 L292.0,258.4 L292.6,263.6 L293.2,269.6 L293.8,276.2 L294.4,282.9 L295.0,289.6 L295.6,296.1 L296.2,302.1 L296.8,307.5 L297.4,312.3 L298.0,316.4 L298.6,319.9 L299.2,322.8 L299.8,325.2 L300.4,327.1 L301.0,328.6 L301.6,329.7 L302.2,330.7 L302.8,331.4 L303.4,332.0 L304.0,332.5 L304.6,332.9 L305.2,333.2 L305.8,333.4 L306.4,333.7 L307.0,333.8 L307.6,334.0 L308.2,334.1 L308.8,334.3 L309.4,334.4 L310.0,334.5 L310.6,334.5 L311.2,334.6 L311.8,334.7 L312.4,334.7 L313.0,334.7 L313.6,334.8 L314.2,334.8 L314.8,334.8 L315.4,334.8 L316.0,334.9 L316.6,334.9 L317.2,334.9 L317.8,334.9 L318.4,334.9 L319.0,334.9 L319.6,334.9 L320.2,334.9 L320.8,334.9 L321.4,334.9 L322.0,334.9 L322.6,334.9 L323.2,334.9 L323.8,334.9 L324.4,334.9 L325.0,334.9 L325.6,334.9 L326.2,334.9 L326.8,334.9 L327.4,334.9 L328.0,334.9 L328.6,334.9 L329.2,334.9 L329.8,334.9 L330.4,334.9 L331.0,334.9 L331.6,334.9 L332.2,334.9 L332.8,334.9 L333.4,334.9 L334.0,334.9 L334.6,334.9 L335.2,334.9 L335.8,334.9 L336.4,334.9 L337.0,334.9 L337.6,334.9 L338.2,334.9 L338.8,334.9 L339.4,334.9 L340.0,334.9" fill="none" stroke="#f7941d" stroke-width="1.1"/>
<path d="M250.0,334.9 L250.6,334.9 L251.2,334.9 L251.8,334.9 L252.4,334.9 L253.0,334.9 L253.6,334.9 L254.2,334.9 L254.8,334.9 L255.4,334.9 L256.0,334.9 L256.6,334.9 L257.2,334.9 L257.8,334.9 L258.4,334.9 L259.0,334.9 L259.6,334.9 L260.2,334.9 L260.8,334.9 L261.4,334.9 L262.0,334.9 L262.6,334.9 L263.2,334.9 L263.8,334.9 L264.4,334.9 L265.0,334.9 L265.6,334.9 L266.2,334.9 L266.8,334.9 L267.4,334.9 L268.0,334.9 L268.6,334.9 L269.2,334.9 L269.8,334.9 L270.4,334.9 L271.0,334.9 L271.6,334.9 L272.2,334.9 L272.8,334.9 L273.4,334.9 L274.0,334.9 L274.6,334.9 L275.2,334.9 L275.8,334.9 L276.4,334.9 L277.0,334.9 L277.6,334.9 L278.2,334.8 L278.8,334.8 L279.4,334.8 L280.0,334.7 L280.6,334.5 L281.2,334.3 L281.8,334.0 L282.4,333.6 L283.0,333.0 L283.6,332.2 L284.2,331.0 L284.8,329.5 L285.4,327.6 L286.0,325.1 L286.6,322.1 L287.2,318.4 L287.8,313.9 L288.4,308.8 L289.0,303.0 L289.6,296.6 L290.2,289.7 L290.8,282.6 L291.4,275.4 L292.0,268.6 L292.6,262.3 L293.2,257.0 L293.8,253.0 L294.4,250.4 L295.0,250.0 L295.6,250.5 L296.2,252.6 L296.8,255.9 L297.4,260.4 L298.0,265.9 L298.6,272.0 L299.2,278.5 L299.8,285.1 L300.4,291.6 L301.0,297.8 L301.6,303.5 L302.2,308.7 L302.8,313.3 L303.4,317.2 L304.0,320.5 L304.6,323.3 L305.2,325.5 L305.8,327.3 L306.4,328.8 L307.0,329.9 L307.6,330.8 L308.2,331.6 L308.8,332.1 L309.4,332.6 L310.0,333.0 L310.6,333.3 L311.2,333.5 L311.8,333.7 L312.4,333.9 L313.0,334.1 L313.6,334.2 L314.2,334.3 L314.8,334.4 L315.4,334.5 L316.0,334.6 L316.6,334.6 L317.2,334.7 L317.8,334.7 L318.4,334.8 L319.0,334.8 L319.6,334.8 L320.2,334.8 L320.8,334.8 L321.4,334.9 L322.0,334.9 L322.6,334.9 L323.2,334.9 L323.8,334.9 L324.4,334.9 L325.0,334.9 L325.6,334.9 L326.2,334.9 L326.8,334.9 L327.4,334.9 L328.0,334.9 L328.6,334.9 L329.2,334.9 L329.8,334.9 L330.4,334.9 L331.0,334.9 L331.6,334.9 L332.2,334.9 L332.8,334.9 L333.4,334.9 L334.0,334.9 L334.6,334.9 L335.2,334.9 L335.8,334.9 L336.4,334.9 L337.0,334.9 L337.6,334.9 L338.2,334.9 L338.8,334.9 L339.4,334.9 L340.0,334.9" fill="none" stroke="#3bb54a" stroke-width="1.1"/>
<path d="M250.0,334.9 L250.6,334.9 L251.2,334.9 L251.8,334.9 L252.4,334.9 L253.0,334.9 L253.6,334.9 L254.2,334.9 L254.8,334.9 L255.4,334.9 L256.0,334.9 L256.6,334.9 L257.2,334.9 L257.8,334.9 L258.4,334.9 L259.0,334.9 L259.6,334.9 L260.2,334.9 L260.8,334.9 L261.4,334.9 L262.0,334.9 L262.6,334.9 L263.2,334.9 L263.8,334.9 L264.4,334.9 L265.0,334.9 L265.6,334.9 L266.2,334.9 L266.8,334.9 L267.4,334.9 L268.0,334.9 L268.6,334.9 L269.2,334.9 L269.8,334.9 L270.4,334.9 L271.0,334.9 L271.6,334.9 L272.2,334.9 L272.8,334.9 L273.4,334.9 L274.0,334.9 L274.6,334.9 L275.2,334.9 L275.8,334.9 L276.4,334.9 L277.0,334.9 L277.6,334.9 L278.2,334.9 L278.8,334.9 L279.4,334.9 L280.0,334.9 L280.6,334.9 L281.2,334.9 L281.8,334.9 L282.4,334.9 L283.0,334.9 L283.6,334.8 L284.2,334.8 L284.8,334.7 L285.4,334.6 L286.0,334.4 L286.6,334.1 L287.2,333.8 L287.8,333.2 L288.4,332.5 L289.0,331.5 L289.6,330.2 L290.2,328.6 L290.8,326.4 L291.4,323.7 L292.0,320.4 L292.6,316.5 L293.2,311.9 L293.8,306.6 L294.4,300.7 L295.0,294.2 L295.6,287.4 L296.2,280.4 L296.8,273.4 L297.4,266.9 L298.0,260.9 L298.6,256.0 L299.2,252.3 L299.8,250.2 L300.4,249.9 L301.0,250.7 L301.6,252.9 L302.2,256.3 L302.8,260.8 L303.4,266.2 L304.0,272.2 L304.6,278.5 L305.2,285.0 L305.8,291.4 L306.4,297.5 L307.0,303.2 L307.6,308.3 L308.2,312.8 L308.8,316.8 L309.4,320.1 L310.0,322.9 L310.6,325.2 L311.2,327.1 L311.8,328.6 L312.4,329.8 L313.0,330.7 L313.6,331.5 L314.2,332.1 L314.8,332.6 L315.4,333.0 L316.0,333.3 L316.6,333.5 L317.2,333.8 L317.8,333.9 L318.4,334.1 L319.0,334.2 L319.6,334.3 L320.2,334.4 L320.8,334.5 L321.4,334.6 L322.0,334.6 L322.6,334.7 L323.2,334.7 L323.8,334.8 L324.4,334.8 L325.0,334.8 L325.6,334.8 L326.2,334.8 L326.8,334.9 L327.4,334.9 L328.0,334.9 L328.6,334.9 L329.2,334.9 L329.8,334.9 L330.4,334.9 L331.0,334.9 L331.6,334.9 L332.2,334.9 L332.8,334.9 L333.4,334.9 L334.0,334.9 L334.6,334.9 L335.2,334.9 L335.8,334.9 L336.4,334.9 L337.0,334.9 L337.6,334.9 L338.2,334.9 L338.8,334.9 L339.4,334.9 L340.0,334.9" fill="none" stroke="#1a4f87" stroke-width="1.1"/>
<path d="M250.0,334.9 L250.6,334.9 L251.2,334.9 L251.8,334.9 L252.4,334.8 L253.0,334.7 L253.6,334.6 L254.2,334.4 L254.8,334.0 L255.4,333.4 L256.0,332.5 L256.6,331.2 L257.2,329.3 L257.8,326.7 L258.4,323.2 L259.0,318.6 L259.6,312.9 L260.2,306.1 L260.8,298.3 L261.4,289.8 L262.0,280.9 L262.6,272.1 L263.2,264.0 L263.8,257.3 L264.4,252.4 L265.0,249.9 L265.6,250.2 L266.2,252.3 L266.8,256.5 L267.4,262.5 L268.0,269.8 L268.6,277.8 L269.2,286.0 L269.8,294.0 L270.4,301.3 L271.0,307.8 L271.6,313.4 L272.2,317.9 L272.8,321.5 L273.4,324.3 L274.0,326.5 L274.6,328.1 L275.2,329.3 L275.8,330.2 L276.4,330.8 L277.0,331.4 L277.6,331.8 L278.2,332.2 L278.8,332.5 L279.4,332.8 L280.0,333.1 L280.6,333.3 L281.2,333.5 L281.8,333.7 L282.4,333.9 L283.0,334.0 L283.6,334.2 L284.2,334.3 L284.8,334.4 L285.4,334.5 L286.0,334.5 L286.6,334.6 L287.2,334.7 L287.8,334.7 L288.4,334.7 L289.0,334.8 L289.6,334.8 L290.2,334.8 L290.8,334.8 L291.4,334.9 L292.0,334.9 L292.6,334.9 L293.2,334.9 L293.8,334.9 L294.4,334.9 L295.0,334.9 L295.6,334.9 L296.2,334.9 L296.8,334.9 L297.4,334.9 L298.0,334.9 L298.6,334.9 L299.2,334.9 L299.8,334.9 L300.4,334.9 L301.0,334.9 L301.6,334.9 L302.2,334.9 L302.8,334.9 L303.4,334.9 L304.0,334.9 L304.6,334.9 L305.2,334.9 L305.8,334.9 L306.4,334.9 L307.0,334.9 L307.6,334.9 L308.2,334.9 L308.8,334.9 L309.4,334.9 L310.0,334.9 L310.6,334.9 L311.2,334.9 L311.8,334.9 L312.4,334.9 L313.0,334.9 L313.6,334.9 L314.2,334.9 L314.8,334.9 L315.4,334.9 L316.0,334.9 L316.6,334.9 L317.2,334.9 L317.8,334.9 L318.4,334.9 L319.0,334.9 L319.6,334.9 L320.2,334.9 L320.8,334.9 L321.4,334.9 L322.0,334.9 L322.6,334.9 L323.2,334.9 L323.8,334.9 L324.4,334.9 L325.0,334.9 L325.6,334.9 L326.2,334.9 L326.8,334.9 L327.4,334.9 L328.0,334.9 L328.6,334.9 L329.2,334.9 L329.8,334.9 L330.4,334.9 L331.0,334.9 L331.6,334.9 L332.2,334.9 L332.8,334.9 L333.4,334.9 L334.0,334.9 L334.6,334.9 L335.2,334.9 L335.8,334.9 L336.4,334.9 L337.0,334.9 L337.6,334.9 L338.2,334.9 L338.8,334.9 L339.4,334.9 L340.0,334.9" fill="none" stroke="#c8143a" stroke-width="1.1"/>
<rect x="249.2" y="243.6" width="91.70" height="92.40" fill="none" stroke="#231f20" stroke-width="1.15"/>
<line x1="246.0" y1="334.90" x2="249.2" y2="334.90" stroke="#231f20" stroke-width="0.9"/>
<text x="243.60" y="337.30" font-size="7.1" text-anchor="end" fill="#231f20" font-weight="normal" >0</text>
<line x1="246.0" y1="317.40" x2="249.2" y2="317.40" stroke="#231f20" stroke-width="0.9"/>
<text x="243.60" y="319.80" font-size="7.1" text-anchor="end" fill="#231f20" font-weight="normal" >20</text>
<line x1="246.0" y1="299.90" x2="249.2" y2="299.90" stroke="#231f20" stroke-width="0.9"/>
<text x="243.60" y="302.30" font-size="7.1" text-anchor="end" fill="#231f20" font-weight="normal" >40</text>
<line x1="246.0" y1="282.40" x2="249.2" y2="282.40" stroke="#231f20" stroke-width="0.9"/>
<text x="243.60" y="284.80" font-size="7.1" text-anchor="end" fill="#231f20" font-weight="normal" >60</text>
<line x1="246.0" y1="264.90" x2="249.2" y2="264.90" stroke="#231f20" stroke-width="0.9"/>
<text x="243.60" y="267.30" font-size="7.1" text-anchor="end" fill="#231f20" font-weight="normal" >80</text>
<line x1="246.0" y1="247.40" x2="249.2" y2="247.40" stroke="#231f20" stroke-width="0.9"/>
<text x="243.60" y="249.80" font-size="7.1" text-anchor="end" fill="#231f20" font-weight="normal" >100</text>
<line x1="247.39999999999998" y1="330.52" x2="249.2" y2="330.52" stroke="#231f20" stroke-width="0.7"/>
<line x1="247.39999999999998" y1="326.15" x2="249.2" y2="326.15" stroke="#231f20" stroke-width="0.7"/>
<line x1="247.39999999999998" y1="321.77" x2="249.2" y2="321.77" stroke="#231f20" stroke-width="0.7"/>
<line x1="247.39999999999998" y1="313.02" x2="249.2" y2="313.02" stroke="#231f20" stroke-width="0.7"/>
<line x1="247.39999999999998" y1="308.65" x2="249.2" y2="308.65" stroke="#231f20" stroke-width="0.7"/>
<line x1="247.39999999999998" y1="304.27" x2="249.2" y2="304.27" stroke="#231f20" stroke-width="0.7"/>
<line x1="247.39999999999998" y1="295.52" x2="249.2" y2="295.52" stroke="#231f20" stroke-width="0.7"/>
<line x1="247.39999999999998" y1="291.15" x2="249.2" y2="291.15" stroke="#231f20" stroke-width="0.7"/>
<line x1="247.39999999999998" y1="286.77" x2="249.2" y2="286.77" stroke="#231f20" stroke-width="0.7"/>
<line x1="247.39999999999998" y1="278.02" x2="249.2" y2="278.02" stroke="#231f20" stroke-width="0.7"/>
<line x1="247.39999999999998" y1="273.65" x2="249.2" y2="273.65" stroke="#231f20" stroke-width="0.7"/>
<line x1="247.39999999999998" y1="269.27" x2="249.2" y2="269.27" stroke="#231f20" stroke-width="0.7"/>
<line x1="247.39999999999998" y1="260.52" x2="249.2" y2="260.52" stroke="#231f20" stroke-width="0.7"/>
<line x1="247.39999999999998" y1="256.15" x2="249.2" y2="256.15" stroke="#231f20" stroke-width="0.7"/>
<line x1="247.39999999999998" y1="251.77" x2="249.2" y2="251.77" stroke="#231f20" stroke-width="0.7"/>
<line x1="268.80" y1="336.0" x2="268.80" y2="338.5" stroke="#231f20" stroke-width="0.8"/>
<line x1="275.18" y1="336.0" x2="275.18" y2="337.5" stroke="#231f20" stroke-width="0.5"/>
<line x1="278.91" y1="336.0" x2="278.91" y2="337.5" stroke="#231f20" stroke-width="0.5"/>
<line x1="281.56" y1="336.0" x2="281.56" y2="337.5" stroke="#231f20" stroke-width="0.5"/>
<line x1="283.62" y1="336.0" x2="283.62" y2="337.5" stroke="#231f20" stroke-width="0.5"/>
<line x1="285.30" y1="336.0" x2="285.30" y2="337.5" stroke="#231f20" stroke-width="0.5"/>
<line x1="286.72" y1="336.0" x2="286.72" y2="337.5" stroke="#231f20" stroke-width="0.5"/>
<line x1="287.95" y1="336.0" x2="287.95" y2="337.5" stroke="#231f20" stroke-width="0.5"/>
<line x1="289.03" y1="336.0" x2="289.03" y2="337.5" stroke="#231f20" stroke-width="0.5"/>
<line x1="290.00" y1="336.0" x2="290.00" y2="338.5" stroke="#231f20" stroke-width="0.8"/>
<line x1="296.38" y1="336.0" x2="296.38" y2="337.5" stroke="#231f20" stroke-width="0.5"/>
<line x1="300.11" y1="336.0" x2="300.11" y2="337.5" stroke="#231f20" stroke-width="0.5"/>
<line x1="302.76" y1="336.0" x2="302.76" y2="337.5" stroke="#231f20" stroke-width="0.5"/>
<line x1="304.82" y1="336.0" x2="304.82" y2="337.5" stroke="#231f20" stroke-width="0.5"/>
<line x1="306.50" y1="336.0" x2="306.50" y2="337.5" stroke="#231f20" stroke-width="0.5"/>
<line x1="307.92" y1="336.0" x2="307.92" y2="337.5" stroke="#231f20" stroke-width="0.5"/>
<line x1="309.15" y1="336.0" x2="309.15" y2="337.5" stroke="#231f20" stroke-width="0.5"/>
<line x1="310.23" y1="336.0" x2="310.23" y2="337.5" stroke="#231f20" stroke-width="0.5"/>
<line x1="311.20" y1="336.0" x2="311.20" y2="338.5" stroke="#231f20" stroke-width="0.8"/>
<line x1="317.58" y1="336.0" x2="317.58" y2="337.5" stroke="#231f20" stroke-width="0.5"/>
<line x1="321.31" y1="336.0" x2="321.31" y2="337.5" stroke="#231f20" stroke-width="0.5"/>
<line x1="323.96" y1="336.0" x2="323.96" y2="337.5" stroke="#231f20" stroke-width="0.5"/>
<line x1="326.02" y1="336.0" x2="326.02" y2="337.5" stroke="#231f20" stroke-width="0.5"/>
<line x1="327.70" y1="336.0" x2="327.70" y2="337.5" stroke="#231f20" stroke-width="0.5"/>
<line x1="329.12" y1="336.0" x2="329.12" y2="337.5" stroke="#231f20" stroke-width="0.5"/>
<line x1="330.35" y1="336.0" x2="330.35" y2="337.5" stroke="#231f20" stroke-width="0.5"/>
<line x1="331.43" y1="336.0" x2="331.43" y2="337.5" stroke="#231f20" stroke-width="0.5"/>
<line x1="332.40" y1="336.0" x2="332.40" y2="338.5" stroke="#231f20" stroke-width="0.8"/>
<line x1="338.78" y1="336.0" x2="338.78" y2="337.5" stroke="#231f20" stroke-width="0.5"/>
<line x1="259.2" y1="336.0" x2="259.2" y2="338.5" stroke="#231f20" stroke-width="0.8"/>
<line x1="252.5" y1="336.0" x2="252.5" y2="337.5" stroke="#231f20" stroke-width="0.5"/>
<line x1="255.5" y1="336.0" x2="255.5" y2="337.5" stroke="#231f20" stroke-width="0.5"/>
<line x1="262.5" y1="336.0" x2="262.5" y2="337.5" stroke="#231f20" stroke-width="0.5"/>
<line x1="265.5" y1="336.0" x2="265.5" y2="337.5" stroke="#231f20" stroke-width="0.5"/>
<text x="259.20" y="345.50" font-size="6.6" text-anchor="middle" fill="#231f20" font-weight="normal" >0</text>
<text x="269.40" y="345.5" font-size="6.6" text-anchor="middle" fill="#231f20">10<tspan font-size="5" dy="-2.9">2</tspan></text>
<text x="290.60" y="345.5" font-size="6.6" text-anchor="middle" fill="#231f20">10<tspan font-size="5" dy="-2.9">3</tspan></text>
<text x="311.80" y="345.5" font-size="6.6" text-anchor="middle" fill="#231f20">10<tspan font-size="5" dy="-2.9">4</tspan></text>
<text x="333.00" y="345.5" font-size="6.6" text-anchor="middle" fill="#231f20">10<tspan font-size="5" dy="-2.9">5</tspan></text>
<rect x="347.9" y="246.70" width="5.2" height="5.2" fill="#4a5a6e"/>
<text x="356.80" y="251.85" font-size="7.35" text-anchor="start" fill="#231f20" font-weight="normal" >D90 1:5120</text>
<rect x="347.9" y="255.89" width="5.2" height="5.2" fill="#0e6a52"/>
<text x="356.80" y="261.04" font-size="7.35" text-anchor="start" fill="#231f20" font-weight="normal" >D90 1:2560</text>
<rect x="347.9" y="265.08" width="5.2" height="5.2" fill="#5b3416"/>
<text x="356.80" y="270.23" font-size="7.35" text-anchor="start" fill="#231f20" font-weight="normal" >D90 1:1280</text>
<rect x="347.9" y="274.27" width="5.2" height="5.2" fill="#bf6d2a"/>
<text x="356.80" y="279.42" font-size="7.35" text-anchor="start" fill="#231f20" font-weight="normal" >D90 1:640</text>
<rect x="347.9" y="283.46" width="5.2" height="5.2" fill="#5a1f7c"/>
<text x="356.80" y="288.61" font-size="7.35" text-anchor="start" fill="#231f20" font-weight="normal" >D90 1:320</text>
<rect x="347.9" y="292.65" width="5.2" height="5.2" fill="#2eaee8"/>
<text x="356.80" y="297.80" font-size="7.35" text-anchor="start" fill="#231f20" font-weight="normal" >D90 1:160</text>
<rect x="347.9" y="301.84" width="5.2" height="5.2" fill="#f7941d"/>
<text x="356.80" y="306.99" font-size="7.35" text-anchor="start" fill="#231f20" font-weight="normal" >D90 1:80</text>
<rect x="347.9" y="311.03" width="5.2" height="5.2" fill="#3bb54a"/>
<text x="356.80" y="316.18" font-size="7.35" text-anchor="start" fill="#231f20" font-weight="normal" >D90 1:40</text>
<rect x="347.9" y="320.22" width="5.2" height="5.2" fill="#1a4f87"/>
<text x="356.80" y="325.37" font-size="7.35" text-anchor="start" fill="#231f20" font-weight="normal" >D90 1:20</text>
<rect x="347.9" y="329.41" width="5.2" height="5.2" fill="#c8143a"/>
<text x="356.80" y="334.56" font-size="7.35" text-anchor="start" fill="#231f20" font-weight="normal" >D0</text>
<text x="6.30" y="372.60" font-size="10.5" text-anchor="start" fill="#000" font-weight="bold" >C</text>
<text x="113.30" y="381.50" font-size="7.85" text-anchor="middle" fill="#231f20" font-weight="normal" >Non-IFN&#947; activated iHPs</text>
<line x1="25.8" y1="387.20" x2="25.8" y2="441.70" stroke="#231f20" stroke-width="1.1"/>
<line x1="25.3" y1="441.20" x2="200.4" y2="441.20" stroke="#231f20" stroke-width="1.2"/>
<line x1="22.2" y1="438.00" x2="25.8" y2="438.00" stroke="#231f20" stroke-width="0.9"/>
<text x="20.60" y="440.55" font-size="7.3" text-anchor="end" fill="#231f20" font-weight="normal" >1</text>
<line x1="22.2" y1="422.33" x2="25.8" y2="422.33" stroke="#231f20" stroke-width="0.9"/>
<text x="20.60" y="424.88" font-size="7.3" text-anchor="end" fill="#231f20" font-weight="normal" >2</text>
<line x1="22.2" y1="406.67" x2="25.8" y2="406.67" stroke="#231f20" stroke-width="0.9"/>
<text x="20.60" y="409.22" font-size="7.3" text-anchor="end" fill="#231f20" font-weight="normal" >3</text>
<line x1="22.2" y1="391.00" x2="25.8" y2="391.00" stroke="#231f20" stroke-width="0.9"/>
<text x="20.60" y="393.55" font-size="7.3" text-anchor="end" fill="#231f20" font-weight="normal" >4</text>
<text font-size="10" text-anchor="middle" fill="#231f20" transform="translate(12.90,415.40) rotate(-90) scale(0.6,1)">nMFI</text>
<text x="113.30" y="393.50" font-size="7.05" text-anchor="middle" fill="#231f20" font-weight="normal" >Group 1 autologous</text>
<line x1="29.50" y1="441.20" x2="29.50" y2="444.40" stroke="#231f20" stroke-width="0.8"/>
<circle cx="29.50" cy="436.12" r="1.35" fill="#5a1a78"/>
<circle cx="29.10" cy="438.00" r="1.35" fill="#5a1a78"/>
<circle cx="29.90" cy="438.63" r="1.35" fill="#5a1a78"/>
<line x1="27.50" y1="437.58" x2="31.50" y2="437.58" stroke="#222" stroke-width="0.8"/>
<line x1="35.80" y1="441.20" x2="35.80" y2="444.40" stroke="#231f20" stroke-width="0.8"/>
<circle cx="35.80" cy="437.06" r="1.35" fill="#5a1a78"/>
<circle cx="35.40" cy="438.00" r="1.35" fill="#5a1a78"/>
<line x1="33.80" y1="437.53" x2="37.80" y2="437.53" stroke="#222" stroke-width="0.8"/>
<line x1="42.10" y1="441.20" x2="42.10" y2="444.40" stroke="#231f20" stroke-width="0.8"/>
<circle cx="42.10" cy="438.31" r="1.35" fill="#5a1a78"/>
<circle cx="41.70" cy="438.00" r="1.35" fill="#5a1a78"/>
<line x1="40.10" y1="438.16" x2="44.10" y2="438.16" stroke="#222" stroke-width="0.8"/>
<line x1="48.40" y1="441.20" x2="48.40" y2="444.40" stroke="#231f20" stroke-width="0.8"/>
<circle cx="48.40" cy="438.00" r="1.35" fill="#5a1a78"/>
<circle cx="48.00" cy="437.69" r="1.35" fill="#5a1a78"/>
<line x1="46.40" y1="437.84" x2="50.40" y2="437.84" stroke="#222" stroke-width="0.8"/>
<line x1="54.70" y1="441.20" x2="54.70" y2="444.40" stroke="#231f20" stroke-width="0.8"/>
<circle cx="54.70" cy="437.06" r="1.35" fill="#5a1a78"/>
<circle cx="54.30" cy="438.00" r="1.35" fill="#5a1a78"/>
<line x1="52.70" y1="437.53" x2="56.70" y2="437.53" stroke="#222" stroke-width="0.8"/>
<line x1="65.10" y1="441.20" x2="65.10" y2="444.40" stroke="#231f20" stroke-width="0.8"/>
<circle cx="65.10" cy="435.65" r="1.35" fill="#c8102e"/>
<circle cx="64.70" cy="437.69" r="1.35" fill="#c8102e"/>
<circle cx="65.50" cy="439.25" r="1.35" fill="#c8102e"/>
<line x1="63.10" y1="437.53" x2="67.10" y2="437.53" stroke="#222" stroke-width="0.8"/>
<line x1="71.40" y1="441.20" x2="71.40" y2="444.40" stroke="#231f20" stroke-width="0.8"/>
<circle cx="71.40" cy="437.06" r="1.35" fill="#c8102e"/>
<circle cx="71.00" cy="437.69" r="1.35" fill="#c8102e"/>
<line x1="69.40" y1="437.37" x2="73.40" y2="437.37" stroke="#222" stroke-width="0.8"/>
<line x1="77.70" y1="441.20" x2="77.70" y2="444.40" stroke="#231f20" stroke-width="0.8"/>
<circle cx="77.70" cy="437.53" r="1.35" fill="#c8102e"/>
<circle cx="77.30" cy="438.00" r="1.35" fill="#c8102e"/>
<line x1="75.70" y1="437.76" x2="79.70" y2="437.76" stroke="#222" stroke-width="0.8"/>
<line x1="84.00" y1="441.20" x2="84.00" y2="444.40" stroke="#231f20" stroke-width="0.8"/>
<circle cx="84.00" cy="438.00" r="1.35" fill="#c8102e"/>
<circle cx="83.60" cy="437.22" r="1.35" fill="#c8102e"/>
<line x1="82.00" y1="437.61" x2="86.00" y2="437.61" stroke="#222" stroke-width="0.8"/>
<line x1="90.30" y1="441.20" x2="90.30" y2="444.40" stroke="#231f20" stroke-width="0.8"/>
<circle cx="90.30" cy="436.12" r="1.35" fill="#c8102e"/>
<circle cx="89.90" cy="437.37" r="1.35" fill="#c8102e"/>
<line x1="88.30" y1="436.75" x2="92.30" y2="436.75" stroke="#222" stroke-width="0.8"/>
<line x1="100.70" y1="441.20" x2="100.70" y2="444.40" stroke="#231f20" stroke-width="0.8"/>
<circle cx="100.70" cy="432.99" r="1.35" fill="#f7941d"/>
<circle cx="100.30" cy="436.12" r="1.35" fill="#f7941d"/>
<circle cx="101.10" cy="438.00" r="1.35" fill="#f7941d"/>
<line x1="98.70" y1="435.70" x2="102.70" y2="435.70" stroke="#222" stroke-width="0.8"/>
<line x1="107.00" y1="441.20" x2="107.00" y2="444.40" stroke="#231f20" stroke-width="0.8"/>
<circle cx="107.00" cy="437.06" r="1.35" fill="#f7941d"/>
<circle cx="106.60" cy="438.00" r="1.35" fill="#f7941d"/>
<line x1="105.00" y1="437.53" x2="109.00" y2="437.53" stroke="#222" stroke-width="0.8"/>
<line x1="113.30" y1="441.20" x2="113.30" y2="444.40" stroke="#231f20" stroke-width="0.8"/>
<circle cx="113.30" cy="437.69" r="1.35" fill="#f7941d"/>
<circle cx="112.90" cy="438.00" r="1.35" fill="#f7941d"/>
<line x1="111.30" y1="437.84" x2="115.30" y2="437.84" stroke="#222" stroke-width="0.8"/>
<line x1="119.60" y1="441.20" x2="119.60" y2="444.40" stroke="#231f20" stroke-width="0.8"/>
<circle cx="119.60" cy="437.22" r="1.35" fill="#f7941d"/>
<circle cx="119.20" cy="438.00" r="1.35" fill="#f7941d"/>
<line x1="117.60" y1="437.61" x2="121.60" y2="437.61" stroke="#222" stroke-width="0.8"/>
<line x1="125.90" y1="441.20" x2="125.90" y2="444.40" stroke="#231f20" stroke-width="0.8"/>
<circle cx="125.90" cy="435.49" r="1.35" fill="#f7941d"/>
<circle cx="125.50" cy="437.22" r="1.35" fill="#f7941d"/>
<line x1="123.90" y1="436.36" x2="127.90" y2="436.36" stroke="#222" stroke-width="0.8"/>
<line x1="136.30" y1="441.20" x2="136.30" y2="444.40" stroke="#231f20" stroke-width="0.8"/>
<circle cx="136.30" cy="432.05" r="1.35" fill="#3ab54a"/>
<circle cx="135.90" cy="435.49" r="1.35" fill="#3ab54a"/>
<circle cx="136.70" cy="438.00" r="1.35" fill="#3ab54a"/>
<line x1="134.30" y1="435.18" x2="138.30" y2="435.18" stroke="#222" stroke-width="0.8"/>
<line x1="142.60" y1="441.20" x2="142.60" y2="444.40" stroke="#231f20" stroke-width="0.8"/>
<circle cx="142.60" cy="436.12" r="1.35" fill="#3ab54a"/>
<circle cx="142.20" cy="437.06" r="1.35" fill="#3ab54a"/>
<line x1="140.60" y1="436.59" x2="144.60" y2="436.59" stroke="#222" stroke-width="0.8"/>
<line x1="148.90" y1="441.20" x2="148.90" y2="444.40" stroke="#231f20" stroke-width="0.8"/>
<circle cx="148.90" cy="433.30" r="1.35" fill="#3ab54a"/>
<circle cx="148.50" cy="435.65" r="1.35" fill="#3ab54a"/>
<circle cx="149.30" cy="436.43" r="1.35" fill="#3ab54a"/>
<line x1="146.90" y1="435.13" x2="150.90" y2="435.13" stroke="#222" stroke-width="0.8"/>
<line x1="155.20" y1="441.20" x2="155.20" y2="444.40" stroke="#231f20" stroke-width="0.8"/>
<circle cx="155.20" cy="437.06" r="1.35" fill="#3ab54a"/>
<circle cx="154.80" cy="438.00" r="1.35" fill="#3ab54a"/>
<line x1="153.20" y1="437.53" x2="157.20" y2="437.53" stroke="#222" stroke-width="0.8"/>
<line x1="161.50" y1="441.20" x2="161.50" y2="444.40" stroke="#231f20" stroke-width="0.8"/>
<circle cx="161.50" cy="437.06" r="1.35" fill="#3ab54a"/>
<circle cx="161.10" cy="438.00" r="1.35" fill="#3ab54a"/>
<line x1="159.50" y1="437.53" x2="163.50" y2="437.53" stroke="#222" stroke-width="0.8"/>
<line x1="171.90" y1="441.20" x2="171.90" y2="444.40" stroke="#231f20" stroke-width="0.8"/>
<circle cx="171.90" cy="434.55" r="1.35" fill="#1c4f8b"/>
<circle cx="171.50" cy="436.43" r="1.35" fill="#1c4f8b"/>
<circle cx="172.30" cy="438.00" r="1.35" fill="#1c4f8b"/>
<line x1="169.90" y1="436.33" x2="173.90" y2="436.33" stroke="#222" stroke-width="0.8"/>
<line x1="178.20" y1="441.20" x2="178.20" y2="444.40" stroke="#231f20" stroke-width="0.8"/>
<circle cx="178.20" cy="434.55" r="1.35" fill="#1c4f8b"/>
<circle cx="177.80" cy="436.12" r="1.35" fill="#1c4f8b"/>
<line x1="176.20" y1="435.34" x2="180.20" y2="435.34" stroke="#222" stroke-width="0.8"/>
<line x1="184.50" y1="441.20" x2="184.50" y2="444.40" stroke="#231f20" stroke-width="0.8"/>
<circle cx="184.50" cy="437.69" r="1.35" fill="#1c4f8b"/>
<circle cx="184.10" cy="438.63" r="1.35" fill="#1c4f8b"/>
<line x1="182.50" y1="438.16" x2="186.50" y2="438.16" stroke="#222" stroke-width="0.8"/>
<line x1="190.80" y1="441.20" x2="190.80" y2="444.40" stroke="#231f20" stroke-width="0.8"/>
<circle cx="190.80" cy="437.06" r="1.35" fill="#1c4f8b"/>
<circle cx="190.40" cy="438.00" r="1.35" fill="#1c4f8b"/>
<line x1="188.80" y1="437.53" x2="192.80" y2="437.53" stroke="#222" stroke-width="0.8"/>
<line x1="197.10" y1="441.20" x2="197.10" y2="444.40" stroke="#231f20" stroke-width="0.8"/>
<circle cx="197.10" cy="432.36" r="1.35" fill="#1c4f8b"/>
<circle cx="196.70" cy="435.49" r="1.35" fill="#1c4f8b"/>
<circle cx="197.50" cy="437.22" r="1.35" fill="#1c4f8b"/>
<line x1="195.10" y1="435.02" x2="199.10" y2="435.02" stroke="#222" stroke-width="0.8"/>
<line x1="25.8" y1="452.10" x2="25.8" y2="506.10" stroke="#231f20" stroke-width="1.1"/>
<line x1="25.3" y1="505.60" x2="200.4" y2="505.60" stroke="#231f20" stroke-width="1.2"/>
<line x1="22.2" y1="502.80" x2="25.8" y2="502.80" stroke="#231f20" stroke-width="0.9"/>
<text x="20.60" y="505.35" font-size="7.3" text-anchor="end" fill="#231f20" font-weight="normal" >1</text>
<line x1="22.2" y1="487.17" x2="25.8" y2="487.17" stroke="#231f20" stroke-width="0.9"/>
<text x="20.60" y="489.72" font-size="7.3" text-anchor="end" fill="#231f20" font-weight="normal" >2</text>
<line x1="22.2" y1="471.53" x2="25.8" y2="471.53" stroke="#231f20" stroke-width="0.9"/>
<text x="20.60" y="474.08" font-size="7.3" text-anchor="end" fill="#231f20" font-weight="normal" >3</text>
<line x1="22.2" y1="455.90" x2="25.8" y2="455.90" stroke="#231f20" stroke-width="0.9"/>
<text x="20.60" y="458.45" font-size="7.3" text-anchor="end" fill="#231f20" font-weight="normal" >4</text>
<text font-size="10" text-anchor="middle" fill="#231f20" transform="translate(12.90,480.05) rotate(-90) scale(0.6,1)">nMFI</text>
<text x="113.30" y="460.50" font-size="7.05" text-anchor="middle" fill="#231f20" font-weight="normal" >Group 2 MHC matched homozygous</text>
<line x1="29.50" y1="505.60" x2="29.50" y2="508.80" stroke="#231f20" stroke-width="0.8"/>
<circle cx="29.50" cy="502.02" r="1.35" fill="#5a1a78"/>
<circle cx="29.10" cy="503.58" r="1.35" fill="#5a1a78"/>
<circle cx="29.90" cy="504.05" r="1.35" fill="#5a1a78"/>
<line x1="27.50" y1="503.22" x2="31.50" y2="503.22" stroke="#222" stroke-width="0.8"/>
<line x1="35.80" y1="505.60" x2="35.80" y2="508.80" stroke="#231f20" stroke-width="0.8"/>
<circle cx="35.80" cy="500.92" r="1.35" fill="#5a1a78"/>
<circle cx="35.40" cy="502.80" r="1.35" fill="#5a1a78"/>
<circle cx="36.20" cy="503.58" r="1.35" fill="#5a1a78"/>
<line x1="33.80" y1="502.44" x2="37.80" y2="502.44" stroke="#222" stroke-width="0.8"/>
<line x1="42.10" y1="505.60" x2="42.10" y2="508.80" stroke="#231f20" stroke-width="0.8"/>
<circle cx="42.10" cy="498.89" r="1.35" fill="#5a1a78"/>
<circle cx="41.70" cy="502.02" r="1.35" fill="#5a1a78"/>
<circle cx="42.50" cy="502.80" r="1.35" fill="#5a1a78"/>
<line x1="40.10" y1="501.24" x2="44.10" y2="501.24" stroke="#222" stroke-width="0.8"/>
<line x1="48.40" y1="505.60" x2="48.40" y2="508.80" stroke="#231f20" stroke-width="0.8"/>
<circle cx="48.40" cy="500.92" r="1.35" fill="#5a1a78"/>
<circle cx="48.00" cy="501.55" r="1.35" fill="#5a1a78"/>
<circle cx="48.80" cy="502.80" r="1.35" fill="#5a1a78"/>
<line x1="46.40" y1="501.76" x2="50.40" y2="501.76" stroke="#222" stroke-width="0.8"/>
<line x1="54.70" y1="505.60" x2="54.70" y2="508.80" stroke="#231f20" stroke-width="0.8"/>
<circle cx="54.70" cy="499.67" r="1.35" fill="#5a1a78"/>
<circle cx="54.30" cy="502.02" r="1.35" fill="#5a1a78"/>
<circle cx="55.10" cy="503.11" r="1.35" fill="#5a1a78"/>
<line x1="52.70" y1="501.60" x2="56.70" y2="501.60" stroke="#222" stroke-width="0.8"/>
<line x1="65.10" y1="505.60" x2="65.10" y2="508.80" stroke="#231f20" stroke-width="0.8"/>
<circle cx="65.10" cy="502.80" r="1.35" fill="#c8102e"/>
<circle cx="64.70" cy="504.36" r="1.35" fill="#c8102e"/>
<line x1="63.10" y1="503.58" x2="67.10" y2="503.58" stroke="#222" stroke-width="0.8"/>
<line x1="71.40" y1="505.60" x2="71.40" y2="508.80" stroke="#231f20" stroke-width="0.8"/>
<circle cx="71.40" cy="501.24" r="1.35" fill="#c8102e"/>
<circle cx="71.00" cy="501.55" r="1.35" fill="#c8102e"/>
<line x1="69.40" y1="501.39" x2="73.40" y2="501.39" stroke="#222" stroke-width="0.8"/>
<line x1="77.70" y1="505.60" x2="77.70" y2="508.80" stroke="#231f20" stroke-width="0.8"/>
<circle cx="77.70" cy="502.49" r="1.35" fill="#c8102e"/>
<circle cx="77.30" cy="502.80" r="1.35" fill="#c8102e"/>
<line x1="75.70" y1="502.64" x2="79.70" y2="502.64" stroke="#222" stroke-width="0.8"/>
<line x1="84.00" y1="505.60" x2="84.00" y2="508.80" stroke="#231f20" stroke-width="0.8"/>
<circle cx="84.00" cy="502.49" r="1.35" fill="#c8102e"/>
<circle cx="83.60" cy="502.80" r="1.35" fill="#c8102e"/>
<line x1="82.00" y1="502.64" x2="86.00" y2="502.64" stroke="#222" stroke-width="0.8"/>
<line x1="90.30" y1="505.60" x2="90.30" y2="508.80" stroke="#231f20" stroke-width="0.8"/>
<circle cx="90.30" cy="500.92" r="1.35" fill="#c8102e"/>
<circle cx="89.90" cy="502.80" r="1.35" fill="#c8102e"/>
<line x1="88.30" y1="501.86" x2="92.30" y2="501.86" stroke="#222" stroke-width="0.8"/>
<line x1="100.70" y1="505.60" x2="100.70" y2="508.80" stroke="#231f20" stroke-width="0.8"/>
<circle cx="100.70" cy="500.92" r="1.35" fill="#f7941d"/>
<circle cx="100.30" cy="503.11" r="1.35" fill="#f7941d"/>
<line x1="98.70" y1="502.02" x2="102.70" y2="502.02" stroke="#222" stroke-width="0.8"/>
<line x1="107.00" y1="505.60" x2="107.00" y2="508.80" stroke="#231f20" stroke-width="0.8"/>
<circle cx="107.00" cy="494.98" r="1.35" fill="#f7941d"/>
<circle cx="106.60" cy="498.89" r="1.35" fill="#f7941d"/>
<circle cx="107.40" cy="501.55" r="1.35" fill="#f7941d"/>
<line x1="105.00" y1="498.47" x2="109.00" y2="498.47" stroke="#222" stroke-width="0.8"/>
<line x1="113.30" y1="505.60" x2="113.30" y2="508.80" stroke="#231f20" stroke-width="0.8"/>
<circle cx="113.30" cy="500.92" r="1.35" fill="#f7941d"/>
<circle cx="112.90" cy="502.02" r="1.35" fill="#f7941d"/>
<line x1="111.30" y1="501.47" x2="115.30" y2="501.47" stroke="#222" stroke-width="0.8"/>
<line x1="119.60" y1="505.60" x2="119.60" y2="508.80" stroke="#231f20" stroke-width="0.8"/>
<circle cx="119.60" cy="501.86" r="1.35" fill="#f7941d"/>
<circle cx="119.20" cy="502.80" r="1.35" fill="#f7941d"/>
<line x1="117.60" y1="502.33" x2="121.60" y2="502.33" stroke="#222" stroke-width="0.8"/>
<line x1="125.90" y1="505.60" x2="125.90" y2="508.80" stroke="#231f20" stroke-width="0.8"/>
<circle cx="125.90" cy="501.24" r="1.35" fill="#f7941d"/>
<circle cx="125.50" cy="502.49" r="1.35" fill="#f7941d"/>
<line x1="123.90" y1="501.86" x2="127.90" y2="501.86" stroke="#222" stroke-width="0.8"/>
<line x1="136.30" y1="505.60" x2="136.30" y2="508.80" stroke="#231f20" stroke-width="0.8"/>
<circle cx="136.30" cy="503.11" r="1.35" fill="#3ab54a"/>
<circle cx="135.90" cy="505.15" r="1.35" fill="#3ab54a"/>
<line x1="134.30" y1="504.13" x2="138.30" y2="504.13" stroke="#222" stroke-width="0.8"/>
<line x1="142.60" y1="505.60" x2="142.60" y2="508.80" stroke="#231f20" stroke-width="0.8"/>
<circle cx="142.60" cy="501.24" r="1.35" fill="#3ab54a"/>
<circle cx="142.20" cy="502.49" r="1.35" fill="#3ab54a"/>
<line x1="140.60" y1="501.86" x2="144.60" y2="501.86" stroke="#222" stroke-width="0.8"/>
<line x1="148.90" y1="505.60" x2="148.90" y2="508.80" stroke="#231f20" stroke-width="0.8"/>
<circle cx="148.90" cy="501.86" r="1.35" fill="#3ab54a"/>
<circle cx="148.50" cy="502.80" r="1.35" fill="#3ab54a"/>
<line x1="146.90" y1="502.33" x2="150.90" y2="502.33" stroke="#222" stroke-width="0.8"/>
<line x1="155.20" y1="505.60" x2="155.20" y2="508.80" stroke="#231f20" stroke-width="0.8"/>
<circle cx="155.20" cy="500.92" r="1.35" fill="#3ab54a"/>
<circle cx="154.80" cy="502.02" r="1.35" fill="#3ab54a"/>
<line x1="153.20" y1="501.47" x2="157.20" y2="501.47" stroke="#222" stroke-width="0.8"/>
<line x1="161.50" y1="505.60" x2="161.50" y2="508.80" stroke="#231f20" stroke-width="0.8"/>
<circle cx="161.50" cy="501.24" r="1.35" fill="#3ab54a"/>
<circle cx="161.10" cy="502.33" r="1.35" fill="#3ab54a"/>
<line x1="159.50" y1="501.78" x2="163.50" y2="501.78" stroke="#222" stroke-width="0.8"/>
<line x1="171.90" y1="505.60" x2="171.90" y2="508.80" stroke="#231f20" stroke-width="0.8"/>
<circle cx="171.90" cy="502.49" r="1.35" fill="#1c4f8b"/>
<circle cx="171.50" cy="503.58" r="1.35" fill="#1c4f8b"/>
<line x1="169.90" y1="503.03" x2="173.90" y2="503.03" stroke="#222" stroke-width="0.8"/>
<line x1="178.20" y1="505.60" x2="178.20" y2="508.80" stroke="#231f20" stroke-width="0.8"/>
<circle cx="178.20" cy="501.24" r="1.35" fill="#1c4f8b"/>
<circle cx="177.80" cy="502.02" r="1.35" fill="#1c4f8b"/>
<line x1="176.20" y1="501.63" x2="180.20" y2="501.63" stroke="#222" stroke-width="0.8"/>
<line x1="184.50" y1="505.60" x2="184.50" y2="508.80" stroke="#231f20" stroke-width="0.8"/>
<circle cx="184.50" cy="499.99" r="1.35" fill="#1c4f8b"/>
<circle cx="184.10" cy="501.24" r="1.35" fill="#1c4f8b"/>
<line x1="182.50" y1="500.61" x2="186.50" y2="500.61" stroke="#222" stroke-width="0.8"/>
<line x1="190.80" y1="505.60" x2="190.80" y2="508.80" stroke="#231f20" stroke-width="0.8"/>
<circle cx="190.80" cy="500.45" r="1.35" fill="#1c4f8b"/>
<circle cx="190.40" cy="501.86" r="1.35" fill="#1c4f8b"/>
<circle cx="191.20" cy="502.80" r="1.35" fill="#1c4f8b"/>
<line x1="188.80" y1="501.71" x2="192.80" y2="501.71" stroke="#222" stroke-width="0.8"/>
<line x1="197.10" y1="505.60" x2="197.10" y2="508.80" stroke="#231f20" stroke-width="0.8"/>
<circle cx="197.10" cy="500.30" r="1.35" fill="#1c4f8b"/>
<circle cx="196.70" cy="502.02" r="1.35" fill="#1c4f8b"/>
<line x1="195.10" y1="501.16" x2="199.10" y2="501.16" stroke="#222" stroke-width="0.8"/>
<line x1="25.8" y1="518.10" x2="25.8" y2="570.50" stroke="#231f20" stroke-width="1.1"/>
<line x1="25.3" y1="570.00" x2="200.4" y2="570.00" stroke="#231f20" stroke-width="1.2"/>
<line x1="22.2" y1="567.00" x2="25.8" y2="567.00" stroke="#231f20" stroke-width="0.9"/>
<text x="20.60" y="569.55" font-size="7.3" text-anchor="end" fill="#231f20" font-weight="normal" >1</text>
<line x1="22.2" y1="551.97" x2="25.8" y2="551.97" stroke="#231f20" stroke-width="0.9"/>
<text x="20.60" y="554.52" font-size="7.3" text-anchor="end" fill="#231f20" font-weight="normal" >2</text>
<line x1="22.2" y1="536.93" x2="25.8" y2="536.93" stroke="#231f20" stroke-width="0.9"/>
<text x="20.60" y="539.48" font-size="7.3" text-anchor="end" fill="#231f20" font-weight="normal" >3</text>
<line x1="22.2" y1="521.90" x2="25.8" y2="521.90" stroke="#231f20" stroke-width="0.9"/>
<text x="20.60" y="524.45" font-size="7.3" text-anchor="end" fill="#231f20" font-weight="normal" >4</text>
<text font-size="10" text-anchor="middle" fill="#231f20" transform="translate(12.90,545.25) rotate(-90) scale(0.6,1)">nMFI</text>
<text x="113.30" y="526.80" font-size="7.05" text-anchor="middle" fill="#231f20" font-weight="normal" >Group 3 MHC matched heterozygous</text>
<line x1="29.50" y1="570.00" x2="29.50" y2="573.20" stroke="#231f20" stroke-width="0.8"/>
<circle cx="29.50" cy="566.40" r="1.35" fill="#5a1a78"/>
<circle cx="29.10" cy="567.30" r="1.35" fill="#5a1a78"/>
<line x1="27.50" y1="566.85" x2="31.50" y2="566.85" stroke="#222" stroke-width="0.8"/>
<line x1="35.80" y1="570.00" x2="35.80" y2="573.20" stroke="#231f20" stroke-width="0.8"/>
<circle cx="35.80" cy="566.70" r="1.35" fill="#5a1a78"/>
<circle cx="35.40" cy="567.30" r="1.35" fill="#5a1a78"/>
<line x1="33.80" y1="567.00" x2="37.80" y2="567.00" stroke="#222" stroke-width="0.8"/>
<line x1="42.10" y1="570.00" x2="42.10" y2="573.20" stroke="#231f20" stroke-width="0.8"/>
<circle cx="42.10" cy="565.50" r="1.35" fill="#5a1a78"/>
<circle cx="41.70" cy="567.00" r="1.35" fill="#5a1a78"/>
<line x1="40.10" y1="566.25" x2="44.10" y2="566.25" stroke="#222" stroke-width="0.8"/>
<line x1="48.40" y1="570.00" x2="48.40" y2="573.20" stroke="#231f20" stroke-width="0.8"/>
<circle cx="48.40" cy="566.25" r="1.35" fill="#5a1a78"/>
<circle cx="48.00" cy="567.00" r="1.35" fill="#5a1a78"/>
<line x1="46.40" y1="566.62" x2="50.40" y2="566.62" stroke="#222" stroke-width="0.8"/>
<line x1="54.70" y1="570.00" x2="54.70" y2="573.20" stroke="#231f20" stroke-width="0.8"/>
<circle cx="54.70" cy="566.25" r="1.35" fill="#5a1a78"/>
<circle cx="54.30" cy="567.00" r="1.35" fill="#5a1a78"/>
<line x1="52.70" y1="566.62" x2="56.70" y2="566.62" stroke="#222" stroke-width="0.8"/>
<line x1="65.10" y1="570.00" x2="65.10" y2="573.20" stroke="#231f20" stroke-width="0.8"/>
<circle cx="65.10" cy="565.20" r="1.35" fill="#c8102e"/>
<circle cx="64.70" cy="567.00" r="1.35" fill="#c8102e"/>
<circle cx="65.50" cy="567.75" r="1.35" fill="#c8102e"/>
<line x1="63.10" y1="566.65" x2="67.10" y2="566.65" stroke="#222" stroke-width="0.8"/>
<line x1="71.40" y1="570.00" x2="71.40" y2="573.20" stroke="#231f20" stroke-width="0.8"/>
<circle cx="71.40" cy="564.75" r="1.35" fill="#c8102e"/>
<circle cx="71.00" cy="567.00" r="1.35" fill="#c8102e"/>
<line x1="69.40" y1="565.87" x2="73.40" y2="565.87" stroke="#222" stroke-width="0.8"/>
<line x1="77.70" y1="570.00" x2="77.70" y2="573.20" stroke="#231f20" stroke-width="0.8"/>
<circle cx="77.70" cy="565.20" r="1.35" fill="#c8102e"/>
<circle cx="77.30" cy="566.40" r="1.35" fill="#c8102e"/>
<circle cx="78.10" cy="567.30" r="1.35" fill="#c8102e"/>
<line x1="75.70" y1="566.30" x2="79.70" y2="566.30" stroke="#222" stroke-width="0.8"/>
<line x1="84.00" y1="570.00" x2="84.00" y2="573.20" stroke="#231f20" stroke-width="0.8"/>
<circle cx="84.00" cy="565.50" r="1.35" fill="#c8102e"/>
<circle cx="83.60" cy="566.70" r="1.35" fill="#c8102e"/>
<line x1="82.00" y1="566.10" x2="86.00" y2="566.10" stroke="#222" stroke-width="0.8"/>
<line x1="90.30" y1="570.00" x2="90.30" y2="573.20" stroke="#231f20" stroke-width="0.8"/>
<circle cx="90.30" cy="565.50" r="1.35" fill="#c8102e"/>
<circle cx="89.90" cy="567.00" r="1.35" fill="#c8102e"/>
<circle cx="90.70" cy="567.75" r="1.35" fill="#c8102e"/>
<line x1="88.30" y1="566.75" x2="92.30" y2="566.75" stroke="#222" stroke-width="0.8"/>
<line x1="100.70" y1="570.00" x2="100.70" y2="573.20" stroke="#231f20" stroke-width="0.8"/>
<circle cx="100.70" cy="563.99" r="1.35" fill="#f7941d"/>
<circle cx="100.30" cy="565.80" r="1.35" fill="#f7941d"/>
<circle cx="101.10" cy="567.00" r="1.35" fill="#f7941d"/>
<line x1="98.70" y1="565.60" x2="102.70" y2="565.60" stroke="#222" stroke-width="0.8"/>
<line x1="107.00" y1="570.00" x2="107.00" y2="573.20" stroke="#231f20" stroke-width="0.8"/>
<circle cx="107.00" cy="564.75" r="1.35" fill="#f7941d"/>
<circle cx="106.60" cy="567.00" r="1.35" fill="#f7941d"/>
<line x1="105.00" y1="565.87" x2="109.00" y2="565.87" stroke="#222" stroke-width="0.8"/>
<line x1="113.30" y1="570.00" x2="113.30" y2="573.20" stroke="#231f20" stroke-width="0.8"/>
<circle cx="113.30" cy="565.50" r="1.35" fill="#f7941d"/>
<circle cx="112.90" cy="567.00" r="1.35" fill="#f7941d"/>
<line x1="111.30" y1="566.25" x2="115.30" y2="566.25" stroke="#222" stroke-width="0.8"/>
<line x1="119.60" y1="570.00" x2="119.60" y2="573.20" stroke="#231f20" stroke-width="0.8"/>
<circle cx="119.60" cy="565.20" r="1.35" fill="#f7941d"/>
<circle cx="119.20" cy="566.70" r="1.35" fill="#f7941d"/>
<line x1="117.60" y1="565.95" x2="121.60" y2="565.95" stroke="#222" stroke-width="0.8"/>
<line x1="125.90" y1="570.00" x2="125.90" y2="573.20" stroke="#231f20" stroke-width="0.8"/>
<circle cx="125.90" cy="565.50" r="1.35" fill="#f7941d"/>
<circle cx="125.50" cy="567.00" r="1.35" fill="#f7941d"/>
<line x1="123.90" y1="566.25" x2="127.90" y2="566.25" stroke="#222" stroke-width="0.8"/>
<line x1="136.30" y1="570.00" x2="136.30" y2="573.20" stroke="#231f20" stroke-width="0.8"/>
<circle cx="136.30" cy="564.75" r="1.35" fill="#3ab54a"/>
<circle cx="135.90" cy="566.25" r="1.35" fill="#3ab54a"/>
<line x1="134.30" y1="565.50" x2="138.30" y2="565.50" stroke="#222" stroke-width="0.8"/>
<line x1="142.60" y1="570.00" x2="142.60" y2="573.20" stroke="#231f20" stroke-width="0.8"/>
<circle cx="142.60" cy="563.69" r="1.35" fill="#3ab54a"/>
<circle cx="142.20" cy="565.50" r="1.35" fill="#3ab54a"/>
<line x1="140.60" y1="564.59" x2="144.60" y2="564.59" stroke="#222" stroke-width="0.8"/>
<line x1="148.90" y1="570.00" x2="148.90" y2="573.20" stroke="#231f20" stroke-width="0.8"/>
<circle cx="148.90" cy="565.50" r="1.35" fill="#3ab54a"/>
<circle cx="148.50" cy="566.70" r="1.35" fill="#3ab54a"/>
<line x1="146.90" y1="566.10" x2="150.90" y2="566.10" stroke="#222" stroke-width="0.8"/>
<line x1="155.20" y1="570.00" x2="155.20" y2="573.20" stroke="#231f20" stroke-width="0.8"/>
<circle cx="155.20" cy="564.75" r="1.35" fill="#3ab54a"/>
<circle cx="154.80" cy="566.25" r="1.35" fill="#3ab54a"/>
<line x1="153.20" y1="565.50" x2="157.20" y2="565.50" stroke="#222" stroke-width="0.8"/>
<line x1="161.50" y1="570.00" x2="161.50" y2="573.20" stroke="#231f20" stroke-width="0.8"/>
<circle cx="161.50" cy="565.80" r="1.35" fill="#3ab54a"/>
<circle cx="161.10" cy="567.00" r="1.35" fill="#3ab54a"/>
<line x1="159.50" y1="566.40" x2="163.50" y2="566.40" stroke="#222" stroke-width="0.8"/>
<line x1="171.90" y1="570.00" x2="171.90" y2="573.20" stroke="#231f20" stroke-width="0.8"/>
<circle cx="171.90" cy="563.99" r="1.35" fill="#1c4f8b"/>
<circle cx="171.50" cy="566.25" r="1.35" fill="#1c4f8b"/>
<line x1="169.90" y1="565.12" x2="173.90" y2="565.12" stroke="#222" stroke-width="0.8"/>
<line x1="178.20" y1="570.00" x2="178.20" y2="573.20" stroke="#231f20" stroke-width="0.8"/>
<circle cx="178.20" cy="563.69" r="1.35" fill="#1c4f8b"/>
<circle cx="177.80" cy="565.80" r="1.35" fill="#1c4f8b"/>
<line x1="176.20" y1="564.75" x2="180.20" y2="564.75" stroke="#222" stroke-width="0.8"/>
<line x1="184.50" y1="570.00" x2="184.50" y2="573.20" stroke="#231f20" stroke-width="0.8"/>
<circle cx="184.50" cy="562.49" r="1.35" fill="#1c4f8b"/>
<circle cx="184.10" cy="565.50" r="1.35" fill="#1c4f8b"/>
<circle cx="184.90" cy="567.30" r="1.35" fill="#1c4f8b"/>
<line x1="182.50" y1="565.10" x2="186.50" y2="565.10" stroke="#222" stroke-width="0.8"/>
<line x1="190.80" y1="570.00" x2="190.80" y2="573.20" stroke="#231f20" stroke-width="0.8"/>
<circle cx="190.80" cy="563.99" r="1.35" fill="#1c4f8b"/>
<circle cx="190.40" cy="566.25" r="1.35" fill="#1c4f8b"/>
<line x1="188.80" y1="565.12" x2="192.80" y2="565.12" stroke="#222" stroke-width="0.8"/>
<line x1="197.10" y1="570.00" x2="197.10" y2="573.20" stroke="#231f20" stroke-width="0.8"/>
<circle cx="197.10" cy="563.24" r="1.35" fill="#1c4f8b"/>
<circle cx="196.70" cy="565.50" r="1.35" fill="#1c4f8b"/>
<line x1="195.10" y1="564.37" x2="199.10" y2="564.37" stroke="#222" stroke-width="0.8"/>
<line x1="25.8" y1="578.90" x2="25.8" y2="634.00" stroke="#231f20" stroke-width="1.1"/>
<line x1="25.3" y1="633.50" x2="200.4" y2="633.50" stroke="#231f20" stroke-width="1.2"/>
<line x1="22.2" y1="630.90" x2="25.8" y2="630.90" stroke="#231f20" stroke-width="0.9"/>
<text x="20.60" y="633.45" font-size="7.3" text-anchor="end" fill="#231f20" font-weight="normal" >1</text>
<line x1="22.2" y1="614.83" x2="25.8" y2="614.83" stroke="#231f20" stroke-width="0.9"/>
<text x="20.60" y="617.38" font-size="7.3" text-anchor="end" fill="#231f20" font-weight="normal" >2</text>
<line x1="22.2" y1="598.77" x2="25.8" y2="598.77" stroke="#231f20" stroke-width="0.9"/>
<text x="20.60" y="601.32" font-size="7.3" text-anchor="end" fill="#231f20" font-weight="normal" >3</text>
<line x1="22.2" y1="582.70" x2="25.8" y2="582.70" stroke="#231f20" stroke-width="0.9"/>
<text x="20.60" y="585.25" font-size="7.3" text-anchor="end" fill="#231f20" font-weight="normal" >4</text>
<text font-size="10" text-anchor="middle" fill="#231f20" transform="translate(12.90,607.40) rotate(-90) scale(0.6,1)">nMFI</text>
<text x="113.30" y="587.30" font-size="7.05" text-anchor="middle" fill="#231f20" font-weight="normal" >Group 4 MHC mismatched</text>
<line x1="29.50" y1="633.50" x2="29.50" y2="636.70" stroke="#231f20" stroke-width="0.8"/>
<circle cx="29.50" cy="630.58" r="1.35" fill="#5a1a78"/>
<circle cx="29.10" cy="631.70" r="1.35" fill="#5a1a78"/>
<line x1="27.50" y1="631.14" x2="31.50" y2="631.14" stroke="#222" stroke-width="0.8"/>
<text font-size="7.0" text-anchor="end" fill="#231f20" transform="translate(32.00,640.00) rotate(-90)">1:20</text>
<line x1="35.80" y1="633.50" x2="35.80" y2="636.70" stroke="#231f20" stroke-width="0.8"/>
<circle cx="35.80" cy="629.61" r="1.35" fill="#5a1a78"/>
<circle cx="35.40" cy="630.90" r="1.35" fill="#5a1a78"/>
<circle cx="36.20" cy="631.70" r="1.35" fill="#5a1a78"/>
<line x1="33.80" y1="630.74" x2="37.80" y2="630.74" stroke="#222" stroke-width="0.8"/>
<text font-size="7.0" text-anchor="end" fill="#231f20" transform="translate(38.30,640.00) rotate(-90)">1:40</text>
<line x1="42.10" y1="633.50" x2="42.10" y2="636.70" stroke="#231f20" stroke-width="0.8"/>
<circle cx="42.10" cy="629.29" r="1.35" fill="#5a1a78"/>
<circle cx="41.70" cy="630.26" r="1.35" fill="#5a1a78"/>
<line x1="40.10" y1="629.78" x2="44.10" y2="629.78" stroke="#222" stroke-width="0.8"/>
<text font-size="7.0" text-anchor="end" fill="#231f20" transform="translate(44.60,640.00) rotate(-90)">1:80</text>
<line x1="48.40" y1="633.50" x2="48.40" y2="636.70" stroke="#231f20" stroke-width="0.8"/>
<circle cx="48.40" cy="630.90" r="1.35" fill="#5a1a78"/>
<circle cx="48.00" cy="631.54" r="1.35" fill="#5a1a78"/>
<line x1="46.40" y1="631.22" x2="50.40" y2="631.22" stroke="#222" stroke-width="0.8"/>
<text font-size="7.0" text-anchor="end" fill="#231f20" transform="translate(50.90,640.00) rotate(-90)">1:160</text>
<line x1="54.70" y1="633.50" x2="54.70" y2="636.70" stroke="#231f20" stroke-width="0.8"/>
<circle cx="54.70" cy="630.58" r="1.35" fill="#5a1a78"/>
<circle cx="54.30" cy="631.86" r="1.35" fill="#5a1a78"/>
<line x1="52.70" y1="631.22" x2="56.70" y2="631.22" stroke="#222" stroke-width="0.8"/>
<text font-size="7.0" text-anchor="end" fill="#231f20" transform="translate(57.20,640.00) rotate(-90)">1:320</text>
<line x1="65.10" y1="633.50" x2="65.10" y2="636.70" stroke="#231f20" stroke-width="0.8"/>
<circle cx="65.10" cy="629.29" r="1.35" fill="#c8102e"/>
<circle cx="64.70" cy="631.22" r="1.35" fill="#c8102e"/>
<circle cx="65.50" cy="632.51" r="1.35" fill="#c8102e"/>
<line x1="63.10" y1="631.01" x2="67.10" y2="631.01" stroke="#222" stroke-width="0.8"/>
<text font-size="7.0" text-anchor="end" fill="#231f20" transform="translate(67.60,640.00) rotate(-90)">1:20</text>
<line x1="71.40" y1="633.50" x2="71.40" y2="636.70" stroke="#231f20" stroke-width="0.8"/>
<circle cx="71.40" cy="629.61" r="1.35" fill="#c8102e"/>
<circle cx="71.00" cy="630.90" r="1.35" fill="#c8102e"/>
<line x1="69.40" y1="630.26" x2="73.40" y2="630.26" stroke="#222" stroke-width="0.8"/>
<text font-size="7.0" text-anchor="end" fill="#231f20" transform="translate(73.90,640.00) rotate(-90)">1:40</text>
<line x1="77.70" y1="633.50" x2="77.70" y2="636.70" stroke="#231f20" stroke-width="0.8"/>
<circle cx="77.70" cy="630.42" r="1.35" fill="#c8102e"/>
<circle cx="77.30" cy="630.90" r="1.35" fill="#c8102e"/>
<line x1="75.70" y1="630.66" x2="79.70" y2="630.66" stroke="#222" stroke-width="0.8"/>
<text font-size="7.0" text-anchor="end" fill="#231f20" transform="translate(80.20,640.00) rotate(-90)">1:80</text>
<line x1="84.00" y1="633.50" x2="84.00" y2="636.70" stroke="#231f20" stroke-width="0.8"/>
<circle cx="84.00" cy="631.70" r="1.35" fill="#c8102e"/>
<circle cx="83.60" cy="632.51" r="1.35" fill="#c8102e"/>
<line x1="82.00" y1="632.11" x2="86.00" y2="632.11" stroke="#222" stroke-width="0.8"/>
<text font-size="7.0" text-anchor="end" fill="#231f20" transform="translate(86.50,640.00) rotate(-90)">1:160</text>
<line x1="90.30" y1="633.50" x2="90.30" y2="636.70" stroke="#231f20" stroke-width="0.8"/>
<circle cx="90.30" cy="629.29" r="1.35" fill="#c8102e"/>
<circle cx="89.90" cy="630.90" r="1.35" fill="#c8102e"/>
<circle cx="90.70" cy="632.19" r="1.35" fill="#c8102e"/>
<line x1="88.30" y1="630.79" x2="92.30" y2="630.79" stroke="#222" stroke-width="0.8"/>
<text font-size="7.0" text-anchor="end" fill="#231f20" transform="translate(92.80,640.00) rotate(-90)">1:320</text>
<line x1="100.70" y1="633.50" x2="100.70" y2="636.70" stroke="#231f20" stroke-width="0.8"/>
<circle cx="100.70" cy="621.26" r="1.35" fill="#f7941d"/>
<circle cx="100.30" cy="629.29" r="1.35" fill="#f7941d"/>
<line x1="98.70" y1="625.28" x2="102.70" y2="625.28" stroke="#222" stroke-width="0.8"/>
<text font-size="7.0" text-anchor="end" fill="#231f20" transform="translate(103.20,640.00) rotate(-90)">1:20</text>
<line x1="107.00" y1="633.50" x2="107.00" y2="636.70" stroke="#231f20" stroke-width="0.8"/>
<circle cx="107.00" cy="628.01" r="1.35" fill="#f7941d"/>
<circle cx="106.60" cy="629.29" r="1.35" fill="#f7941d"/>
<line x1="105.00" y1="628.65" x2="109.00" y2="628.65" stroke="#222" stroke-width="0.8"/>
<text font-size="7.0" text-anchor="end" fill="#231f20" transform="translate(109.50,640.00) rotate(-90)">1:40</text>
<line x1="113.30" y1="633.50" x2="113.30" y2="636.70" stroke="#231f20" stroke-width="0.8"/>
<circle cx="113.30" cy="628.97" r="1.35" fill="#f7941d"/>
<circle cx="112.90" cy="630.10" r="1.35" fill="#f7941d"/>
<line x1="111.30" y1="629.53" x2="115.30" y2="629.53" stroke="#222" stroke-width="0.8"/>
<text font-size="7.0" text-anchor="end" fill="#231f20" transform="translate(115.80,640.00) rotate(-90)">1:80</text>
<line x1="119.60" y1="633.50" x2="119.60" y2="636.70" stroke="#231f20" stroke-width="0.8"/>
<circle cx="119.60" cy="630.10" r="1.35" fill="#f7941d"/>
<circle cx="119.20" cy="630.90" r="1.35" fill="#f7941d"/>
<line x1="117.60" y1="630.50" x2="121.60" y2="630.50" stroke="#222" stroke-width="0.8"/>
<text font-size="7.0" text-anchor="end" fill="#231f20" transform="translate(122.10,640.00) rotate(-90)">1:160</text>
<line x1="125.90" y1="633.50" x2="125.90" y2="636.70" stroke="#231f20" stroke-width="0.8"/>
<circle cx="125.90" cy="629.61" r="1.35" fill="#f7941d"/>
<circle cx="125.50" cy="630.90" r="1.35" fill="#f7941d"/>
<line x1="123.90" y1="630.26" x2="127.90" y2="630.26" stroke="#222" stroke-width="0.8"/>
<text font-size="7.0" text-anchor="end" fill="#231f20" transform="translate(128.40,640.00) rotate(-90)">1:320</text>
<line x1="136.30" y1="633.50" x2="136.30" y2="636.70" stroke="#231f20" stroke-width="0.8"/>
<circle cx="136.30" cy="627.69" r="1.35" fill="#3ab54a"/>
<circle cx="135.90" cy="629.29" r="1.35" fill="#3ab54a"/>
<line x1="134.30" y1="628.49" x2="138.30" y2="628.49" stroke="#222" stroke-width="0.8"/>
<text font-size="7.0" text-anchor="end" fill="#231f20" transform="translate(138.80,640.00) rotate(-90)">1:20</text>
<line x1="142.60" y1="633.50" x2="142.60" y2="636.70" stroke="#231f20" stroke-width="0.8"/>
<circle cx="142.60" cy="629.61" r="1.35" fill="#3ab54a"/>
<circle cx="142.20" cy="630.58" r="1.35" fill="#3ab54a"/>
<line x1="140.60" y1="630.10" x2="144.60" y2="630.10" stroke="#222" stroke-width="0.8"/>
<text font-size="7.0" text-anchor="end" fill="#231f20" transform="translate(145.10,640.00) rotate(-90)">1:40</text>
<line x1="148.90" y1="633.50" x2="148.90" y2="636.70" stroke="#231f20" stroke-width="0.8"/>
<circle cx="148.90" cy="628.97" r="1.35" fill="#3ab54a"/>
<circle cx="148.50" cy="630.10" r="1.35" fill="#3ab54a"/>
<line x1="146.90" y1="629.53" x2="150.90" y2="629.53" stroke="#222" stroke-width="0.8"/>
<text font-size="7.0" text-anchor="end" fill="#231f20" transform="translate(151.40,640.00) rotate(-90)">1:80</text>
<line x1="155.20" y1="633.50" x2="155.20" y2="636.70" stroke="#231f20" stroke-width="0.8"/>
<circle cx="155.20" cy="629.61" r="1.35" fill="#3ab54a"/>
<circle cx="154.80" cy="630.90" r="1.35" fill="#3ab54a"/>
<line x1="153.20" y1="630.26" x2="157.20" y2="630.26" stroke="#222" stroke-width="0.8"/>
<text font-size="7.0" text-anchor="end" fill="#231f20" transform="translate(157.70,640.00) rotate(-90)">1:160</text>
<line x1="161.50" y1="633.50" x2="161.50" y2="636.70" stroke="#231f20" stroke-width="0.8"/>
<circle cx="161.50" cy="630.10" r="1.35" fill="#3ab54a"/>
<circle cx="161.10" cy="631.54" r="1.35" fill="#3ab54a"/>
<line x1="159.50" y1="630.82" x2="163.50" y2="630.82" stroke="#222" stroke-width="0.8"/>
<text font-size="7.0" text-anchor="end" fill="#231f20" transform="translate(164.00,640.00) rotate(-90)">1:320</text>
<line x1="171.90" y1="633.50" x2="171.90" y2="636.70" stroke="#231f20" stroke-width="0.8"/>
<circle cx="171.90" cy="629.29" r="1.35" fill="#1c4f8b"/>
<circle cx="171.50" cy="630.90" r="1.35" fill="#1c4f8b"/>
<line x1="169.90" y1="630.10" x2="173.90" y2="630.10" stroke="#222" stroke-width="0.8"/>
<text font-size="7.0" text-anchor="end" fill="#231f20" transform="translate(174.40,640.00) rotate(-90)">1:20</text>
<line x1="178.20" y1="633.50" x2="178.20" y2="636.70" stroke="#231f20" stroke-width="0.8"/>
<circle cx="178.20" cy="629.29" r="1.35" fill="#1c4f8b"/>
<circle cx="177.80" cy="630.10" r="1.35" fill="#1c4f8b"/>
<line x1="176.20" y1="629.69" x2="180.20" y2="629.69" stroke="#222" stroke-width="0.8"/>
<text font-size="7.0" text-anchor="end" fill="#231f20" transform="translate(180.70,640.00) rotate(-90)">1:40</text>
<line x1="184.50" y1="633.50" x2="184.50" y2="636.70" stroke="#231f20" stroke-width="0.8"/>
<circle cx="184.50" cy="629.94" r="1.35" fill="#1c4f8b"/>
<circle cx="184.10" cy="630.90" r="1.35" fill="#1c4f8b"/>
<line x1="182.50" y1="630.42" x2="186.50" y2="630.42" stroke="#222" stroke-width="0.8"/>
<text font-size="7.0" text-anchor="end" fill="#231f20" transform="translate(187.00,640.00) rotate(-90)">1:80</text>
<line x1="190.80" y1="633.50" x2="190.80" y2="636.70" stroke="#231f20" stroke-width="0.8"/>
<circle cx="190.80" cy="630.10" r="1.35" fill="#1c4f8b"/>
<circle cx="190.40" cy="630.90" r="1.35" fill="#1c4f8b"/>
<line x1="188.80" y1="630.50" x2="192.80" y2="630.50" stroke="#222" stroke-width="0.8"/>
<text font-size="7.0" text-anchor="end" fill="#231f20" transform="translate(193.30,640.00) rotate(-90)">1:160</text>
<line x1="197.10" y1="633.50" x2="197.10" y2="636.70" stroke="#231f20" stroke-width="0.8"/>
<circle cx="197.10" cy="629.29" r="1.35" fill="#1c4f8b"/>
<circle cx="196.70" cy="630.90" r="1.35" fill="#1c4f8b"/>
<circle cx="197.50" cy="631.70" r="1.35" fill="#1c4f8b"/>
<line x1="195.10" y1="630.63" x2="199.10" y2="630.63" stroke="#222" stroke-width="0.8"/>
<text font-size="7.0" text-anchor="end" fill="#231f20" transform="translate(199.60,640.00) rotate(-90)">1:320</text>
<text x="214.40" y="372.60" font-size="10.5" text-anchor="start" fill="#000" font-weight="bold" >D</text>
<text x="306.10" y="381.30" font-size="7.85" text-anchor="middle" fill="#231f20" font-weight="normal" >IFN&#947; activated iHPs</text>
<line x1="226.3" y1="387.50" x2="226.3" y2="441.10" stroke="#231f20" stroke-width="1.1"/>
<line x1="225.8" y1="440.60" x2="384.8" y2="440.60" stroke="#231f20" stroke-width="1.2"/>
<line x1="222.70000000000002" y1="440.60" x2="226.3" y2="440.60" stroke="#231f20" stroke-width="0.9"/>
<text x="221.10" y="443.15" font-size="7.3" text-anchor="end" fill="#231f20" font-weight="normal" >1</text>
<line x1="222.70000000000002" y1="424.17" x2="226.3" y2="424.17" stroke="#231f20" stroke-width="0.9"/>
<text x="221.10" y="426.72" font-size="7.3" text-anchor="end" fill="#231f20" font-weight="normal" >2</text>
<line x1="222.70000000000002" y1="407.73" x2="226.3" y2="407.73" stroke="#231f20" stroke-width="0.9"/>
<text x="221.10" y="410.28" font-size="7.3" text-anchor="end" fill="#231f20" font-weight="normal" >3</text>
<line x1="222.70000000000002" y1="391.30" x2="226.3" y2="391.30" stroke="#231f20" stroke-width="0.9"/>
<text x="221.10" y="393.85" font-size="7.3" text-anchor="end" fill="#231f20" font-weight="normal" >4</text>
<text font-size="10" text-anchor="middle" fill="#231f20" transform="translate(213.40,415.25) rotate(-90) scale(0.6,1)">nMFI</text>
<text x="305.70" y="393.40" font-size="7.05" text-anchor="middle" fill="#231f20" font-weight="normal" >Group 1 autologous</text>
<line x1="230.30" y1="440.60" x2="230.30" y2="443.80" stroke="#231f20" stroke-width="0.8"/>
<circle cx="230.30" cy="433.70" r="1.35" fill="#5a1a78"/>
<circle cx="229.90" cy="435.67" r="1.35" fill="#5a1a78"/>
<line x1="228.30" y1="434.68" x2="232.30" y2="434.68" stroke="#222" stroke-width="0.8"/>
<line x1="236.00" y1="440.60" x2="236.00" y2="443.80" stroke="#231f20" stroke-width="0.8"/>
<circle cx="236.00" cy="437.64" r="1.35" fill="#5a1a78"/>
<circle cx="235.60" cy="438.63" r="1.35" fill="#5a1a78"/>
<line x1="234.00" y1="438.14" x2="238.00" y2="438.14" stroke="#222" stroke-width="0.8"/>
<line x1="241.70" y1="440.60" x2="241.70" y2="443.80" stroke="#231f20" stroke-width="0.8"/>
<circle cx="241.70" cy="438.14" r="1.35" fill="#5a1a78"/>
<circle cx="241.30" cy="439.29" r="1.35" fill="#5a1a78"/>
<line x1="239.70" y1="438.71" x2="243.70" y2="438.71" stroke="#222" stroke-width="0.8"/>
<line x1="247.40" y1="440.60" x2="247.40" y2="443.80" stroke="#231f20" stroke-width="0.8"/>
<circle cx="247.40" cy="438.63" r="1.35" fill="#5a1a78"/>
<circle cx="247.00" cy="439.61" r="1.35" fill="#5a1a78"/>
<line x1="245.40" y1="439.12" x2="249.40" y2="439.12" stroke="#222" stroke-width="0.8"/>
<line x1="253.10" y1="440.60" x2="253.10" y2="443.80" stroke="#231f20" stroke-width="0.8"/>
<circle cx="253.10" cy="438.63" r="1.35" fill="#5a1a78"/>
<circle cx="252.70" cy="439.78" r="1.35" fill="#5a1a78"/>
<line x1="251.10" y1="439.20" x2="255.10" y2="439.20" stroke="#222" stroke-width="0.8"/>
<line x1="262.40" y1="440.60" x2="262.40" y2="443.80" stroke="#231f20" stroke-width="0.8"/>
<circle cx="262.40" cy="435.67" r="1.35" fill="#c8102e"/>
<circle cx="262.00" cy="436.49" r="1.35" fill="#c8102e"/>
<line x1="260.40" y1="436.08" x2="264.40" y2="436.08" stroke="#222" stroke-width="0.8"/>
<line x1="268.10" y1="440.60" x2="268.10" y2="443.80" stroke="#231f20" stroke-width="0.8"/>
<circle cx="268.10" cy="435.67" r="1.35" fill="#c8102e"/>
<circle cx="267.70" cy="438.14" r="1.35" fill="#c8102e"/>
<line x1="266.10" y1="436.90" x2="270.10" y2="436.90" stroke="#222" stroke-width="0.8"/>
<line x1="273.80" y1="440.60" x2="273.80" y2="443.80" stroke="#231f20" stroke-width="0.8"/>
<circle cx="273.80" cy="436.00" r="1.35" fill="#c8102e"/>
<circle cx="273.40" cy="438.14" r="1.35" fill="#c8102e"/>
<line x1="271.80" y1="437.07" x2="275.80" y2="437.07" stroke="#222" stroke-width="0.8"/>
<line x1="279.50" y1="440.60" x2="279.50" y2="443.80" stroke="#231f20" stroke-width="0.8"/>
<circle cx="279.50" cy="436.00" r="1.35" fill="#c8102e"/>
<circle cx="279.10" cy="438.63" r="1.35" fill="#c8102e"/>
<line x1="277.50" y1="437.31" x2="281.50" y2="437.31" stroke="#222" stroke-width="0.8"/>
<line x1="285.20" y1="440.60" x2="285.20" y2="443.80" stroke="#231f20" stroke-width="0.8"/>
<circle cx="285.20" cy="436.49" r="1.35" fill="#c8102e"/>
<circle cx="284.80" cy="438.96" r="1.35" fill="#c8102e"/>
<line x1="283.20" y1="437.72" x2="287.20" y2="437.72" stroke="#222" stroke-width="0.8"/>
<line x1="294.50" y1="440.60" x2="294.50" y2="443.80" stroke="#231f20" stroke-width="0.8"/>
<circle cx="294.50" cy="436.00" r="1.35" fill="#f7941d"/>
<circle cx="294.10" cy="438.14" r="1.35" fill="#f7941d"/>
<line x1="292.50" y1="437.07" x2="296.50" y2="437.07" stroke="#222" stroke-width="0.8"/>
<line x1="300.20" y1="440.60" x2="300.20" y2="443.80" stroke="#231f20" stroke-width="0.8"/>
<circle cx="300.20" cy="436.49" r="1.35" fill="#f7941d"/>
<circle cx="299.80" cy="438.63" r="1.35" fill="#f7941d"/>
<line x1="298.20" y1="437.56" x2="302.20" y2="437.56" stroke="#222" stroke-width="0.8"/>
<line x1="305.90" y1="440.60" x2="305.90" y2="443.80" stroke="#231f20" stroke-width="0.8"/>
<circle cx="305.90" cy="439.78" r="1.35" fill="#f7941d"/>
<circle cx="305.50" cy="440.60" r="1.35" fill="#f7941d"/>
<line x1="303.90" y1="440.19" x2="307.90" y2="440.19" stroke="#222" stroke-width="0.8"/>
<line x1="311.60" y1="440.60" x2="311.60" y2="443.80" stroke="#231f20" stroke-width="0.8"/>
<circle cx="311.60" cy="438.96" r="1.35" fill="#f7941d"/>
<circle cx="311.20" cy="439.78" r="1.35" fill="#f7941d"/>
<line x1="309.60" y1="439.37" x2="313.60" y2="439.37" stroke="#222" stroke-width="0.8"/>
<line x1="317.30" y1="440.60" x2="317.30" y2="443.80" stroke="#231f20" stroke-width="0.8"/>
<circle cx="317.30" cy="439.61" r="1.35" fill="#f7941d"/>
<circle cx="316.90" cy="440.27" r="1.35" fill="#f7941d"/>
<line x1="315.30" y1="439.94" x2="319.30" y2="439.94" stroke="#222" stroke-width="0.8"/>
<line x1="326.60" y1="440.60" x2="326.60" y2="443.80" stroke="#231f20" stroke-width="0.8"/>
<circle cx="326.60" cy="434.03" r="1.35" fill="#3ab54a"/>
<circle cx="326.20" cy="436.49" r="1.35" fill="#3ab54a"/>
<line x1="324.60" y1="435.26" x2="328.60" y2="435.26" stroke="#222" stroke-width="0.8"/>
<line x1="332.30" y1="440.60" x2="332.30" y2="443.80" stroke="#231f20" stroke-width="0.8"/>
<circle cx="332.30" cy="434.85" r="1.35" fill="#3ab54a"/>
<circle cx="331.90" cy="437.31" r="1.35" fill="#3ab54a"/>
<line x1="330.30" y1="436.08" x2="334.30" y2="436.08" stroke="#222" stroke-width="0.8"/>
<line x1="338.00" y1="440.60" x2="338.00" y2="443.80" stroke="#231f20" stroke-width="0.8"/>
<circle cx="338.00" cy="436.49" r="1.35" fill="#3ab54a"/>
<circle cx="337.60" cy="438.14" r="1.35" fill="#3ab54a"/>
<line x1="336.00" y1="437.31" x2="340.00" y2="437.31" stroke="#222" stroke-width="0.8"/>
<line x1="343.70" y1="440.60" x2="343.70" y2="443.80" stroke="#231f20" stroke-width="0.8"/>
<circle cx="343.70" cy="436.49" r="1.35" fill="#3ab54a"/>
<circle cx="343.30" cy="438.63" r="1.35" fill="#3ab54a"/>
<line x1="341.70" y1="437.56" x2="345.70" y2="437.56" stroke="#222" stroke-width="0.8"/>
<line x1="349.40" y1="440.60" x2="349.40" y2="443.80" stroke="#231f20" stroke-width="0.8"/>
<circle cx="349.40" cy="436.49" r="1.35" fill="#3ab54a"/>
<circle cx="349.00" cy="438.96" r="1.35" fill="#3ab54a"/>
<line x1="347.40" y1="437.72" x2="351.40" y2="437.72" stroke="#222" stroke-width="0.8"/>
<line x1="358.70" y1="440.60" x2="358.70" y2="443.80" stroke="#231f20" stroke-width="0.8"/>
<circle cx="358.70" cy="434.85" r="1.35" fill="#1c4f8b"/>
<circle cx="358.30" cy="437.31" r="1.35" fill="#1c4f8b"/>
<line x1="356.70" y1="436.08" x2="360.70" y2="436.08" stroke="#222" stroke-width="0.8"/>
<line x1="364.40" y1="440.60" x2="364.40" y2="443.80" stroke="#231f20" stroke-width="0.8"/>
<circle cx="364.40" cy="438.14" r="1.35" fill="#1c4f8b"/>
<circle cx="364.00" cy="439.29" r="1.35" fill="#1c4f8b"/>
<line x1="362.40" y1="438.71" x2="366.40" y2="438.71" stroke="#222" stroke-width="0.8"/>
<line x1="370.10" y1="440.60" x2="370.10" y2="443.80" stroke="#231f20" stroke-width="0.8"/>
<circle cx="370.10" cy="438.63" r="1.35" fill="#1c4f8b"/>
<circle cx="369.70" cy="439.78" r="1.35" fill="#1c4f8b"/>
<line x1="368.10" y1="439.20" x2="372.10" y2="439.20" stroke="#222" stroke-width="0.8"/>
<line x1="375.80" y1="440.60" x2="375.80" y2="443.80" stroke="#231f20" stroke-width="0.8"/>
<circle cx="375.80" cy="438.96" r="1.35" fill="#1c4f8b"/>
<circle cx="375.40" cy="439.78" r="1.35" fill="#1c4f8b"/>
<line x1="373.80" y1="439.37" x2="377.80" y2="439.37" stroke="#222" stroke-width="0.8"/>
<line x1="381.50" y1="440.60" x2="381.50" y2="443.80" stroke="#231f20" stroke-width="0.8"/>
<circle cx="381.50" cy="439.29" r="1.35" fill="#1c4f8b"/>
<circle cx="381.10" cy="440.27" r="1.35" fill="#1c4f8b"/>
<line x1="379.50" y1="439.78" x2="383.50" y2="439.78" stroke="#222" stroke-width="0.8"/>
<line x1="226.3" y1="452.50" x2="226.3" y2="507.60" stroke="#231f20" stroke-width="1.1"/>
<line x1="225.8" y1="507.10" x2="386.5" y2="507.10" stroke="#231f20" stroke-width="1.2"/>
<line x1="222.70000000000002" y1="507.10" x2="226.3" y2="507.10" stroke="#231f20" stroke-width="0.9"/>
<text x="221.10" y="509.65" font-size="7.3" text-anchor="end" fill="#231f20" font-weight="normal" >1</text>
<line x1="222.70000000000002" y1="490.17" x2="226.3" y2="490.17" stroke="#231f20" stroke-width="0.9"/>
<text x="221.10" y="492.72" font-size="7.3" text-anchor="end" fill="#231f20" font-weight="normal" >2</text>
<line x1="222.70000000000002" y1="473.23" x2="226.3" y2="473.23" stroke="#231f20" stroke-width="0.9"/>
<text x="221.10" y="475.78" font-size="7.3" text-anchor="end" fill="#231f20" font-weight="normal" >3</text>
<line x1="222.70000000000002" y1="456.30" x2="226.3" y2="456.30" stroke="#231f20" stroke-width="0.9"/>
<text x="221.10" y="458.85" font-size="7.3" text-anchor="end" fill="#231f20" font-weight="normal" >4</text>
<text font-size="10" text-anchor="middle" fill="#231f20" transform="translate(213.40,481.00) rotate(-90) scale(0.6,1)">nMFI</text>
<text x="305.70" y="460.20" font-size="7.05" text-anchor="middle" fill="#231f20" font-weight="normal" >Group 2 MHC matched homozygous</text>
<line x1="231.00" y1="507.10" x2="231.00" y2="510.30" stroke="#231f20" stroke-width="0.8"/>
<circle cx="231.00" cy="500.33" r="1.35" fill="#5a1a78"/>
<circle cx="230.60" cy="501.51" r="1.35" fill="#5a1a78"/>
<circle cx="231.40" cy="507.10" r="1.35" fill="#5a1a78"/>
<line x1="229.00" y1="502.98" x2="233.00" y2="502.98" stroke="#222" stroke-width="0.8"/>
<line x1="236.70" y1="507.10" x2="236.70" y2="510.30" stroke="#231f20" stroke-width="0.8"/>
<circle cx="236.70" cy="500.33" r="1.35" fill="#5a1a78"/>
<circle cx="236.30" cy="506.25" r="1.35" fill="#5a1a78"/>
<circle cx="237.10" cy="506.76" r="1.35" fill="#5a1a78"/>
<line x1="234.70" y1="504.45" x2="238.70" y2="504.45" stroke="#222" stroke-width="0.8"/>
<line x1="242.40" y1="507.10" x2="242.40" y2="510.30" stroke="#231f20" stroke-width="0.8"/>
<circle cx="242.40" cy="502.87" r="1.35" fill="#5a1a78"/>
<line x1="248.10" y1="507.10" x2="248.10" y2="510.30" stroke="#231f20" stroke-width="0.8"/>
<circle cx="248.10" cy="506.76" r="1.35" fill="#5a1a78"/>
<circle cx="247.70" cy="507.10" r="1.35" fill="#5a1a78"/>
<line x1="246.10" y1="506.93" x2="250.10" y2="506.93" stroke="#222" stroke-width="0.8"/>
<line x1="253.80" y1="507.10" x2="253.80" y2="510.30" stroke="#231f20" stroke-width="0.8"/>
<circle cx="253.80" cy="507.10" r="1.35" fill="#5a1a78"/>
<line x1="263.20" y1="507.10" x2="263.20" y2="510.30" stroke="#231f20" stroke-width="0.8"/>
<circle cx="263.20" cy="493.21" r="1.35" fill="#c8102e"/>
<circle cx="262.80" cy="497.79" r="1.35" fill="#c8102e"/>
<circle cx="263.60" cy="502.36" r="1.35" fill="#c8102e"/>
<line x1="261.20" y1="497.79" x2="265.20" y2="497.79" stroke="#222" stroke-width="0.8"/>
<line x1="268.90" y1="507.10" x2="268.90" y2="510.30" stroke="#231f20" stroke-width="0.8"/>
<circle cx="268.90" cy="496.60" r="1.35" fill="#c8102e"/>
<circle cx="268.50" cy="501.68" r="1.35" fill="#c8102e"/>
<circle cx="269.30" cy="504.05" r="1.35" fill="#c8102e"/>
<line x1="266.90" y1="500.78" x2="270.90" y2="500.78" stroke="#222" stroke-width="0.8"/>
<line x1="274.60" y1="507.10" x2="274.60" y2="510.30" stroke="#231f20" stroke-width="0.8"/>
<circle cx="274.60" cy="502.36" r="1.35" fill="#c8102e"/>
<circle cx="274.20" cy="505.75" r="1.35" fill="#c8102e"/>
<line x1="272.60" y1="504.05" x2="276.60" y2="504.05" stroke="#222" stroke-width="0.8"/>
<line x1="280.30" y1="507.10" x2="280.30" y2="510.30" stroke="#231f20" stroke-width="0.8"/>
<circle cx="280.30" cy="504.39" r="1.35" fill="#c8102e"/>
<circle cx="279.90" cy="505.75" r="1.35" fill="#c8102e"/>
<line x1="278.30" y1="505.07" x2="282.30" y2="505.07" stroke="#222" stroke-width="0.8"/>
<line x1="286.00" y1="507.10" x2="286.00" y2="510.30" stroke="#231f20" stroke-width="0.8"/>
<circle cx="286.00" cy="499.48" r="1.35" fill="#c8102e"/>
<circle cx="285.60" cy="506.25" r="1.35" fill="#c8102e"/>
<circle cx="286.40" cy="507.10" r="1.35" fill="#c8102e"/>
<line x1="284.00" y1="504.28" x2="288.00" y2="504.28" stroke="#222" stroke-width="0.8"/>
<line x1="295.40" y1="507.10" x2="295.40" y2="510.30" stroke="#231f20" stroke-width="0.8"/>
<circle cx="295.40" cy="494.91" r="1.35" fill="#f7941d"/>
<circle cx="295.00" cy="501.17" r="1.35" fill="#f7941d"/>
<line x1="293.40" y1="498.04" x2="297.40" y2="498.04" stroke="#222" stroke-width="0.8"/>
<line x1="301.10" y1="507.10" x2="301.10" y2="510.30" stroke="#231f20" stroke-width="0.8"/>
<circle cx="301.10" cy="499.99" r="1.35" fill="#f7941d"/>
<circle cx="300.70" cy="502.36" r="1.35" fill="#f7941d"/>
<line x1="299.10" y1="501.17" x2="303.10" y2="501.17" stroke="#222" stroke-width="0.8"/>
<line x1="306.80" y1="507.10" x2="306.80" y2="510.30" stroke="#231f20" stroke-width="0.8"/>
<circle cx="306.80" cy="505.07" r="1.35" fill="#f7941d"/>
<circle cx="306.40" cy="507.10" r="1.35" fill="#f7941d"/>
<line x1="304.80" y1="506.08" x2="308.80" y2="506.08" stroke="#222" stroke-width="0.8"/>
<line x1="312.50" y1="507.10" x2="312.50" y2="510.30" stroke="#231f20" stroke-width="0.8"/>
<circle cx="312.50" cy="502.36" r="1.35" fill="#f7941d"/>
<line x1="318.20" y1="507.10" x2="318.20" y2="510.30" stroke="#231f20" stroke-width="0.8"/>
<circle cx="318.20" cy="502.36" r="1.35" fill="#f7941d"/>
<circle cx="317.80" cy="505.41" r="1.35" fill="#f7941d"/>
<line x1="316.20" y1="503.88" x2="320.20" y2="503.88" stroke="#222" stroke-width="0.8"/>
<line x1="327.60" y1="507.10" x2="327.60" y2="510.30" stroke="#231f20" stroke-width="0.8"/>
<circle cx="327.60" cy="502.02" r="1.35" fill="#3ab54a"/>
<circle cx="327.20" cy="503.37" r="1.35" fill="#3ab54a"/>
<line x1="325.60" y1="502.70" x2="329.60" y2="502.70" stroke="#222" stroke-width="0.8"/>
<line x1="333.30" y1="507.10" x2="333.30" y2="510.30" stroke="#231f20" stroke-width="0.8"/>
<circle cx="333.30" cy="506.25" r="1.35" fill="#3ab54a"/>
<circle cx="332.90" cy="507.10" r="1.35" fill="#3ab54a"/>
<line x1="331.30" y1="506.68" x2="335.30" y2="506.68" stroke="#222" stroke-width="0.8"/>
<line x1="339.00" y1="507.10" x2="339.00" y2="510.30" stroke="#231f20" stroke-width="0.8"/>
<circle cx="339.00" cy="507.10" r="1.35" fill="#3ab54a"/>
<line x1="344.70" y1="507.10" x2="344.70" y2="510.30" stroke="#231f20" stroke-width="0.8"/>
<circle cx="344.70" cy="504.56" r="1.35" fill="#3ab54a"/>
<circle cx="344.30" cy="506.59" r="1.35" fill="#3ab54a"/>
<line x1="342.70" y1="505.58" x2="346.70" y2="505.58" stroke="#222" stroke-width="0.8"/>
<line x1="350.40" y1="507.10" x2="350.40" y2="510.30" stroke="#231f20" stroke-width="0.8"/>
<circle cx="350.40" cy="506.25" r="1.35" fill="#3ab54a"/>
<circle cx="350.00" cy="507.10" r="1.35" fill="#3ab54a"/>
<line x1="348.40" y1="506.68" x2="352.40" y2="506.68" stroke="#222" stroke-width="0.8"/>
<line x1="359.80" y1="507.10" x2="359.80" y2="510.30" stroke="#231f20" stroke-width="0.8"/>
<circle cx="359.80" cy="502.02" r="1.35" fill="#1c4f8b"/>
<circle cx="359.40" cy="503.37" r="1.35" fill="#1c4f8b"/>
<line x1="357.80" y1="502.70" x2="361.80" y2="502.70" stroke="#222" stroke-width="0.8"/>
<line x1="365.50" y1="507.10" x2="365.50" y2="510.30" stroke="#231f20" stroke-width="0.8"/>
<circle cx="365.50" cy="507.10" r="1.35" fill="#1c4f8b"/>
<line x1="371.20" y1="507.10" x2="371.20" y2="510.30" stroke="#231f20" stroke-width="0.8"/>
<circle cx="371.20" cy="505.07" r="1.35" fill="#1c4f8b"/>
<line x1="376.90" y1="507.10" x2="376.90" y2="510.30" stroke="#231f20" stroke-width="0.8"/>
<circle cx="376.90" cy="507.10" r="1.35" fill="#1c4f8b"/>
<line x1="382.60" y1="507.10" x2="382.60" y2="510.30" stroke="#231f20" stroke-width="0.8"/>
<circle cx="382.60" cy="500.67" r="1.35" fill="#1c4f8b"/>
<circle cx="382.20" cy="506.59" r="1.35" fill="#1c4f8b"/>
<line x1="380.60" y1="503.63" x2="384.60" y2="503.63" stroke="#222" stroke-width="0.8"/>
<line x1="226.3" y1="519.20" x2="226.3" y2="570.30" stroke="#231f20" stroke-width="1.1"/>
<line x1="225.8" y1="569.80" x2="384.2" y2="569.80" stroke="#231f20" stroke-width="1.2"/>
<line x1="222.70000000000002" y1="566.90" x2="226.3" y2="566.90" stroke="#231f20" stroke-width="0.9"/>
<text x="221.10" y="569.45" font-size="7.3" text-anchor="end" fill="#231f20" font-weight="normal" >1</text>
<line x1="222.70000000000002" y1="552.27" x2="226.3" y2="552.27" stroke="#231f20" stroke-width="0.9"/>
<text x="221.10" y="554.82" font-size="7.3" text-anchor="end" fill="#231f20" font-weight="normal" >2</text>
<line x1="222.70000000000002" y1="537.63" x2="226.3" y2="537.63" stroke="#231f20" stroke-width="0.9"/>
<text x="221.10" y="540.18" font-size="7.3" text-anchor="end" fill="#231f20" font-weight="normal" >3</text>
<line x1="222.70000000000002" y1="523.00" x2="226.3" y2="523.00" stroke="#231f20" stroke-width="0.9"/>
<text x="221.10" y="525.55" font-size="7.3" text-anchor="end" fill="#231f20" font-weight="normal" >4</text>
<text font-size="10" text-anchor="middle" fill="#231f20" transform="translate(213.40,545.70) rotate(-90) scale(0.6,1)">nMFI</text>
<text x="305.70" y="526.70" font-size="7.05" text-anchor="middle" fill="#231f20" font-weight="normal" >Group 3 MHC matched heterozygous</text>
<line x1="229.80" y1="569.80" x2="229.80" y2="573.00" stroke="#231f20" stroke-width="0.8"/>
<circle cx="229.80" cy="558.12" r="1.35" fill="#5a1a78"/>
<circle cx="229.40" cy="563.68" r="1.35" fill="#5a1a78"/>
<circle cx="230.20" cy="566.17" r="1.35" fill="#5a1a78"/>
<line x1="227.80" y1="562.66" x2="231.80" y2="562.66" stroke="#222" stroke-width="0.8"/>
<line x1="235.50" y1="569.80" x2="235.50" y2="573.00" stroke="#231f20" stroke-width="0.8"/>
<circle cx="235.50" cy="561.05" r="1.35" fill="#5a1a78"/>
<circle cx="235.10" cy="564.70" r="1.35" fill="#5a1a78"/>
<circle cx="235.90" cy="566.17" r="1.35" fill="#5a1a78"/>
<line x1="233.50" y1="563.97" x2="237.50" y2="563.97" stroke="#222" stroke-width="0.8"/>
<line x1="241.20" y1="569.80" x2="241.20" y2="573.00" stroke="#231f20" stroke-width="0.8"/>
<circle cx="241.20" cy="564.70" r="1.35" fill="#5a1a78"/>
<circle cx="240.80" cy="565.44" r="1.35" fill="#5a1a78"/>
<line x1="239.20" y1="565.07" x2="243.20" y2="565.07" stroke="#222" stroke-width="0.8"/>
<line x1="246.90" y1="569.80" x2="246.90" y2="573.00" stroke="#231f20" stroke-width="0.8"/>
<circle cx="246.90" cy="561.78" r="1.35" fill="#5a1a78"/>
<circle cx="246.50" cy="563.97" r="1.35" fill="#5a1a78"/>
<circle cx="247.30" cy="567.63" r="1.35" fill="#5a1a78"/>
<line x1="244.90" y1="564.46" x2="248.90" y2="564.46" stroke="#222" stroke-width="0.8"/>
<line x1="252.60" y1="569.80" x2="252.60" y2="573.00" stroke="#231f20" stroke-width="0.8"/>
<circle cx="252.60" cy="564.70" r="1.35" fill="#5a1a78"/>
<circle cx="252.20" cy="565.44" r="1.35" fill="#5a1a78"/>
<line x1="250.60" y1="565.07" x2="254.60" y2="565.07" stroke="#222" stroke-width="0.8"/>
<line x1="261.80" y1="569.80" x2="261.80" y2="573.00" stroke="#231f20" stroke-width="0.8"/>
<circle cx="261.80" cy="556.36" r="1.35" fill="#c8102e"/>
<circle cx="261.40" cy="557.83" r="1.35" fill="#c8102e"/>
<circle cx="262.20" cy="559.88" r="1.35" fill="#c8102e"/>
<circle cx="261.60" cy="565.14" r="1.35" fill="#c8102e"/>
<line x1="259.80" y1="559.80" x2="263.80" y2="559.80" stroke="#222" stroke-width="0.8"/>
<line x1="267.50" y1="569.80" x2="267.50" y2="573.00" stroke="#231f20" stroke-width="0.8"/>
<circle cx="267.50" cy="560.31" r="1.35" fill="#c8102e"/>
<circle cx="267.10" cy="561.05" r="1.35" fill="#c8102e"/>
<circle cx="267.90" cy="564.27" r="1.35" fill="#c8102e"/>
<line x1="265.50" y1="561.88" x2="269.50" y2="561.88" stroke="#222" stroke-width="0.8"/>
<line x1="273.20" y1="569.80" x2="273.20" y2="573.00" stroke="#231f20" stroke-width="0.8"/>
<circle cx="273.20" cy="561.78" r="1.35" fill="#c8102e"/>
<circle cx="272.80" cy="563.24" r="1.35" fill="#c8102e"/>
<circle cx="273.60" cy="567.19" r="1.35" fill="#c8102e"/>
<line x1="271.20" y1="564.07" x2="275.20" y2="564.07" stroke="#222" stroke-width="0.8"/>
<line x1="278.90" y1="569.80" x2="278.90" y2="573.00" stroke="#231f20" stroke-width="0.8"/>
<circle cx="278.90" cy="561.78" r="1.35" fill="#c8102e"/>
<circle cx="278.50" cy="563.24" r="1.35" fill="#c8102e"/>
<circle cx="279.30" cy="566.61" r="1.35" fill="#c8102e"/>
<line x1="276.90" y1="563.88" x2="280.90" y2="563.88" stroke="#222" stroke-width="0.8"/>
<line x1="284.60" y1="569.80" x2="284.60" y2="573.00" stroke="#231f20" stroke-width="0.8"/>
<circle cx="284.60" cy="559.88" r="1.35" fill="#c8102e"/>
<circle cx="284.20" cy="564.70" r="1.35" fill="#c8102e"/>
<circle cx="285.00" cy="566.17" r="1.35" fill="#c8102e"/>
<line x1="282.60" y1="563.58" x2="286.60" y2="563.58" stroke="#222" stroke-width="0.8"/>
<line x1="293.80" y1="569.80" x2="293.80" y2="573.00" stroke="#231f20" stroke-width="0.8"/>
<circle cx="293.80" cy="557.83" r="1.35" fill="#f7941d"/>
<circle cx="293.40" cy="562.51" r="1.35" fill="#f7941d"/>
<circle cx="294.20" cy="566.17" r="1.35" fill="#f7941d"/>
<line x1="291.80" y1="562.17" x2="295.80" y2="562.17" stroke="#222" stroke-width="0.8"/>
<line x1="299.50" y1="569.80" x2="299.50" y2="573.00" stroke="#231f20" stroke-width="0.8"/>
<circle cx="299.50" cy="561.05" r="1.35" fill="#f7941d"/>
<circle cx="299.10" cy="563.24" r="1.35" fill="#f7941d"/>
<circle cx="299.90" cy="565.44" r="1.35" fill="#f7941d"/>
<line x1="297.50" y1="563.24" x2="301.50" y2="563.24" stroke="#222" stroke-width="0.8"/>
<line x1="305.20" y1="569.80" x2="305.20" y2="573.00" stroke="#231f20" stroke-width="0.8"/>
<circle cx="305.20" cy="562.51" r="1.35" fill="#f7941d"/>
<circle cx="304.80" cy="565.44" r="1.35" fill="#f7941d"/>
<line x1="303.20" y1="563.97" x2="307.20" y2="563.97" stroke="#222" stroke-width="0.8"/>
<line x1="310.90" y1="569.80" x2="310.90" y2="573.00" stroke="#231f20" stroke-width="0.8"/>
<circle cx="310.90" cy="563.97" r="1.35" fill="#f7941d"/>
<circle cx="310.50" cy="566.17" r="1.35" fill="#f7941d"/>
<line x1="308.90" y1="565.07" x2="312.90" y2="565.07" stroke="#222" stroke-width="0.8"/>
<line x1="316.60" y1="569.80" x2="316.60" y2="573.00" stroke="#231f20" stroke-width="0.8"/>
<circle cx="316.60" cy="564.27" r="1.35" fill="#f7941d"/>
<circle cx="316.20" cy="566.61" r="1.35" fill="#f7941d"/>
<line x1="314.60" y1="565.44" x2="318.60" y2="565.44" stroke="#222" stroke-width="0.8"/>
<line x1="325.80" y1="569.80" x2="325.80" y2="573.00" stroke="#231f20" stroke-width="0.8"/>
<circle cx="325.80" cy="561.78" r="1.35" fill="#3ab54a"/>
<circle cx="325.40" cy="564.70" r="1.35" fill="#3ab54a"/>
<circle cx="326.20" cy="565.73" r="1.35" fill="#3ab54a"/>
<line x1="323.80" y1="564.07" x2="327.80" y2="564.07" stroke="#222" stroke-width="0.8"/>
<line x1="331.50" y1="569.80" x2="331.50" y2="573.00" stroke="#231f20" stroke-width="0.8"/>
<circle cx="331.50" cy="565.44" r="1.35" fill="#3ab54a"/>
<circle cx="331.10" cy="566.17" r="1.35" fill="#3ab54a"/>
<line x1="329.50" y1="565.80" x2="333.50" y2="565.80" stroke="#222" stroke-width="0.8"/>
<line x1="337.20" y1="569.80" x2="337.20" y2="573.00" stroke="#231f20" stroke-width="0.8"/>
<circle cx="337.20" cy="562.51" r="1.35" fill="#3ab54a"/>
<circle cx="336.80" cy="565.73" r="1.35" fill="#3ab54a"/>
<circle cx="337.60" cy="567.19" r="1.35" fill="#3ab54a"/>
<line x1="335.20" y1="565.14" x2="339.20" y2="565.14" stroke="#222" stroke-width="0.8"/>
<line x1="342.90" y1="569.80" x2="342.90" y2="573.00" stroke="#231f20" stroke-width="0.8"/>
<circle cx="342.90" cy="563.24" r="1.35" fill="#3ab54a"/>
<circle cx="342.50" cy="564.70" r="1.35" fill="#3ab54a"/>
<circle cx="343.30" cy="566.17" r="1.35" fill="#3ab54a"/>
<line x1="340.90" y1="564.70" x2="344.90" y2="564.70" stroke="#222" stroke-width="0.8"/>
<line x1="348.60" y1="569.80" x2="348.60" y2="573.00" stroke="#231f20" stroke-width="0.8"/>
<circle cx="348.60" cy="565.73" r="1.35" fill="#3ab54a"/>
<circle cx="348.20" cy="566.61" r="1.35" fill="#3ab54a"/>
<line x1="346.60" y1="566.17" x2="350.60" y2="566.17" stroke="#222" stroke-width="0.8"/>
<line x1="357.80" y1="569.80" x2="357.80" y2="573.00" stroke="#231f20" stroke-width="0.8"/>
<circle cx="357.80" cy="561.78" r="1.35" fill="#1c4f8b"/>
<circle cx="357.40" cy="563.97" r="1.35" fill="#1c4f8b"/>
<circle cx="358.20" cy="565.44" r="1.35" fill="#1c4f8b"/>
<line x1="355.80" y1="563.73" x2="359.80" y2="563.73" stroke="#222" stroke-width="0.8"/>
<line x1="363.50" y1="569.80" x2="363.50" y2="573.00" stroke="#231f20" stroke-width="0.8"/>
<circle cx="363.50" cy="563.24" r="1.35" fill="#1c4f8b"/>
<circle cx="363.10" cy="564.70" r="1.35" fill="#1c4f8b"/>
<circle cx="363.90" cy="566.17" r="1.35" fill="#1c4f8b"/>
<line x1="361.50" y1="564.70" x2="365.50" y2="564.70" stroke="#222" stroke-width="0.8"/>
<line x1="369.20" y1="569.80" x2="369.20" y2="573.00" stroke="#231f20" stroke-width="0.8"/>
<circle cx="369.20" cy="563.68" r="1.35" fill="#1c4f8b"/>
<circle cx="368.80" cy="565.44" r="1.35" fill="#1c4f8b"/>
<circle cx="369.60" cy="566.90" r="1.35" fill="#1c4f8b"/>
<line x1="367.20" y1="565.34" x2="371.20" y2="565.34" stroke="#222" stroke-width="0.8"/>
<line x1="374.90" y1="569.80" x2="374.90" y2="573.00" stroke="#231f20" stroke-width="0.8"/>
<circle cx="374.90" cy="564.70" r="1.35" fill="#1c4f8b"/>
<circle cx="374.50" cy="566.17" r="1.35" fill="#1c4f8b"/>
<line x1="372.90" y1="565.44" x2="376.90" y2="565.44" stroke="#222" stroke-width="0.8"/>
<line x1="380.60" y1="569.80" x2="380.60" y2="573.00" stroke="#231f20" stroke-width="0.8"/>
<circle cx="380.60" cy="563.97" r="1.35" fill="#1c4f8b"/>
<circle cx="380.20" cy="565.44" r="1.35" fill="#1c4f8b"/>
<line x1="378.60" y1="564.70" x2="382.60" y2="564.70" stroke="#222" stroke-width="0.8"/>
<line x1="226.3" y1="579.10" x2="226.3" y2="634.00" stroke="#231f20" stroke-width="1.1"/>
<line x1="225.8" y1="633.50" x2="403.8" y2="633.50" stroke="#231f20" stroke-width="1.2"/>
<line x1="222.70000000000002" y1="630.80" x2="226.3" y2="630.80" stroke="#231f20" stroke-width="0.9"/>
<text x="221.10" y="633.35" font-size="7.3" text-anchor="end" fill="#231f20" font-weight="normal" >1</text>
<line x1="222.70000000000002" y1="614.83" x2="226.3" y2="614.83" stroke="#231f20" stroke-width="0.9"/>
<text x="221.10" y="617.38" font-size="7.3" text-anchor="end" fill="#231f20" font-weight="normal" >2</text>
<line x1="222.70000000000002" y1="598.87" x2="226.3" y2="598.87" stroke="#231f20" stroke-width="0.9"/>
<text x="221.10" y="601.42" font-size="7.3" text-anchor="end" fill="#231f20" font-weight="normal" >3</text>
<line x1="222.70000000000002" y1="582.90" x2="226.3" y2="582.90" stroke="#231f20" stroke-width="0.9"/>
<text x="221.10" y="585.45" font-size="7.3" text-anchor="end" fill="#231f20" font-weight="normal" >4</text>
<text font-size="10" text-anchor="middle" fill="#231f20" transform="translate(213.40,607.50) rotate(-90) scale(0.6,1)">nMFI</text>
<text x="314.80" y="586.50" font-size="7.05" text-anchor="middle" fill="#231f20" font-weight="normal" >Group 4 MHC mismatched</text>
<line x1="230.20" y1="633.50" x2="230.20" y2="636.70" stroke="#231f20" stroke-width="0.8"/>
<circle cx="230.20" cy="627.29" r="1.35" fill="#5a1a78"/>
<circle cx="229.80" cy="630.00" r="1.35" fill="#5a1a78"/>
<circle cx="230.60" cy="631.60" r="1.35" fill="#5a1a78"/>
<line x1="228.20" y1="629.63" x2="232.20" y2="629.63" stroke="#222" stroke-width="0.8"/>
<text font-size="7.0" text-anchor="end" fill="#231f20" transform="translate(232.70,640.00) rotate(-90)">1:20</text>
<line x1="236.65" y1="633.50" x2="236.65" y2="636.70" stroke="#231f20" stroke-width="0.8"/>
<circle cx="236.65" cy="630.00" r="1.35" fill="#5a1a78"/>
<circle cx="236.25" cy="631.44" r="1.35" fill="#5a1a78"/>
<line x1="234.65" y1="630.72" x2="238.65" y2="630.72" stroke="#222" stroke-width="0.8"/>
<text font-size="7.0" text-anchor="end" fill="#231f20" transform="translate(239.15,640.00) rotate(-90)">1:40</text>
<line x1="243.10" y1="633.50" x2="243.10" y2="636.70" stroke="#231f20" stroke-width="0.8"/>
<circle cx="243.10" cy="629.84" r="1.35" fill="#5a1a78"/>
<circle cx="242.70" cy="630.80" r="1.35" fill="#5a1a78"/>
<line x1="241.10" y1="630.32" x2="245.10" y2="630.32" stroke="#222" stroke-width="0.8"/>
<text font-size="7.0" text-anchor="end" fill="#231f20" transform="translate(245.60,640.00) rotate(-90)">1:80</text>
<line x1="249.55" y1="633.50" x2="249.55" y2="636.70" stroke="#231f20" stroke-width="0.8"/>
<circle cx="249.55" cy="630.80" r="1.35" fill="#5a1a78"/>
<circle cx="249.15" cy="631.60" r="1.35" fill="#5a1a78"/>
<line x1="247.55" y1="631.20" x2="251.55" y2="631.20" stroke="#222" stroke-width="0.8"/>
<text font-size="7.0" text-anchor="end" fill="#231f20" transform="translate(252.05,640.00) rotate(-90)">1:160</text>
<line x1="256.00" y1="633.50" x2="256.00" y2="636.70" stroke="#231f20" stroke-width="0.8"/>
<circle cx="256.00" cy="629.84" r="1.35" fill="#5a1a78"/>
<circle cx="255.60" cy="631.12" r="1.35" fill="#5a1a78"/>
<line x1="254.00" y1="630.48" x2="258.00" y2="630.48" stroke="#222" stroke-width="0.8"/>
<text font-size="7.0" text-anchor="end" fill="#231f20" transform="translate(258.50,640.00) rotate(-90)">1:320</text>
<line x1="266.30" y1="633.50" x2="266.30" y2="636.70" stroke="#231f20" stroke-width="0.8"/>
<circle cx="266.30" cy="622.50" r="1.35" fill="#c8102e"/>
<circle cx="265.90" cy="625.69" r="1.35" fill="#c8102e"/>
<circle cx="266.70" cy="627.29" r="1.35" fill="#c8102e"/>
<line x1="264.30" y1="625.16" x2="268.30" y2="625.16" stroke="#222" stroke-width="0.8"/>
<text font-size="7.0" text-anchor="end" fill="#231f20" transform="translate(268.80,640.00) rotate(-90)">1:20</text>
<line x1="272.75" y1="633.50" x2="272.75" y2="636.70" stroke="#231f20" stroke-width="0.8"/>
<circle cx="272.75" cy="624.41" r="1.35" fill="#c8102e"/>
<circle cx="272.35" cy="627.29" r="1.35" fill="#c8102e"/>
<circle cx="273.15" cy="629.20" r="1.35" fill="#c8102e"/>
<line x1="270.75" y1="626.97" x2="274.75" y2="626.97" stroke="#222" stroke-width="0.8"/>
<text font-size="7.0" text-anchor="end" fill="#231f20" transform="translate(275.25,640.00) rotate(-90)">1:40</text>
<line x1="279.20" y1="633.50" x2="279.20" y2="636.70" stroke="#231f20" stroke-width="0.8"/>
<circle cx="279.20" cy="626.01" r="1.35" fill="#c8102e"/>
<circle cx="278.80" cy="628.40" r="1.35" fill="#c8102e"/>
<circle cx="279.60" cy="630.00" r="1.35" fill="#c8102e"/>
<line x1="277.20" y1="628.14" x2="281.20" y2="628.14" stroke="#222" stroke-width="0.8"/>
<text font-size="7.0" text-anchor="end" fill="#231f20" transform="translate(281.70,640.00) rotate(-90)">1:80</text>
<line x1="285.65" y1="633.50" x2="285.65" y2="636.70" stroke="#231f20" stroke-width="0.8"/>
<circle cx="285.65" cy="628.88" r="1.35" fill="#c8102e"/>
<circle cx="285.25" cy="630.00" r="1.35" fill="#c8102e"/>
<line x1="283.65" y1="629.44" x2="287.65" y2="629.44" stroke="#222" stroke-width="0.8"/>
<text font-size="7.0" text-anchor="end" fill="#231f20" transform="translate(288.15,640.00) rotate(-90)">1:160</text>
<line x1="292.10" y1="633.50" x2="292.10" y2="636.70" stroke="#231f20" stroke-width="0.8"/>
<circle cx="292.10" cy="628.88" r="1.35" fill="#c8102e"/>
<circle cx="291.70" cy="630.00" r="1.35" fill="#c8102e"/>
<line x1="290.10" y1="629.44" x2="294.10" y2="629.44" stroke="#222" stroke-width="0.8"/>
<text font-size="7.0" text-anchor="end" fill="#231f20" transform="translate(294.60,640.00) rotate(-90)">1:320</text>
<line x1="302.40" y1="633.50" x2="302.40" y2="636.70" stroke="#231f20" stroke-width="0.8"/>
<circle cx="302.40" cy="618.03" r="1.35" fill="#f7941d"/>
<circle cx="302.00" cy="619.30" r="1.35" fill="#f7941d"/>
<line x1="300.40" y1="618.67" x2="304.40" y2="618.67" stroke="#222" stroke-width="0.8"/>
<text font-size="7.0" text-anchor="end" fill="#231f20" transform="translate(304.90,640.00) rotate(-90)">1:20</text>
<line x1="308.85" y1="633.50" x2="308.85" y2="636.70" stroke="#231f20" stroke-width="0.8"/>
<circle cx="308.85" cy="618.35" r="1.35" fill="#f7941d"/>
<circle cx="308.45" cy="621.54" r="1.35" fill="#f7941d"/>
<circle cx="309.25" cy="623.62" r="1.35" fill="#f7941d"/>
<line x1="306.85" y1="621.17" x2="310.85" y2="621.17" stroke="#222" stroke-width="0.8"/>
<text font-size="7.0" text-anchor="end" fill="#231f20" transform="translate(311.35,640.00) rotate(-90)">1:40</text>
<line x1="315.30" y1="633.50" x2="315.30" y2="636.70" stroke="#231f20" stroke-width="0.8"/>
<circle cx="315.30" cy="622.50" r="1.35" fill="#f7941d"/>
<circle cx="314.90" cy="626.81" r="1.35" fill="#f7941d"/>
<circle cx="315.70" cy="627.61" r="1.35" fill="#f7941d"/>
<line x1="313.30" y1="625.64" x2="317.30" y2="625.64" stroke="#222" stroke-width="0.8"/>
<text font-size="7.0" text-anchor="end" fill="#231f20" transform="translate(317.80,640.00) rotate(-90)">1:80</text>
<line x1="321.75" y1="633.50" x2="321.75" y2="636.70" stroke="#231f20" stroke-width="0.8"/>
<circle cx="321.75" cy="626.01" r="1.35" fill="#f7941d"/>
<circle cx="321.35" cy="627.61" r="1.35" fill="#f7941d"/>
<line x1="319.75" y1="626.81" x2="323.75" y2="626.81" stroke="#222" stroke-width="0.8"/>
<text font-size="7.0" text-anchor="end" fill="#231f20" transform="translate(324.25,640.00) rotate(-90)">1:160</text>
<line x1="328.20" y1="633.50" x2="328.20" y2="636.70" stroke="#231f20" stroke-width="0.8"/>
<circle cx="328.20" cy="626.81" r="1.35" fill="#f7941d"/>
<circle cx="327.80" cy="628.40" r="1.35" fill="#f7941d"/>
<line x1="326.20" y1="627.61" x2="330.20" y2="627.61" stroke="#222" stroke-width="0.8"/>
<text font-size="7.0" text-anchor="end" fill="#231f20" transform="translate(330.70,640.00) rotate(-90)">1:320</text>
<line x1="338.50" y1="633.50" x2="338.50" y2="636.70" stroke="#231f20" stroke-width="0.8"/>
<circle cx="338.50" cy="624.09" r="1.35" fill="#3ab54a"/>
<circle cx="338.10" cy="626.01" r="1.35" fill="#3ab54a"/>
<circle cx="338.90" cy="627.61" r="1.35" fill="#3ab54a"/>
<line x1="336.50" y1="625.90" x2="340.50" y2="625.90" stroke="#222" stroke-width="0.8"/>
<text font-size="7.0" text-anchor="end" fill="#231f20" transform="translate(341.00,640.00) rotate(-90)">1:20</text>
<line x1="344.95" y1="633.50" x2="344.95" y2="636.70" stroke="#231f20" stroke-width="0.8"/>
<circle cx="344.95" cy="625.21" r="1.35" fill="#3ab54a"/>
<circle cx="344.55" cy="627.61" r="1.35" fill="#3ab54a"/>
<circle cx="345.35" cy="628.88" r="1.35" fill="#3ab54a"/>
<line x1="342.95" y1="627.23" x2="346.95" y2="627.23" stroke="#222" stroke-width="0.8"/>
<text font-size="7.0" text-anchor="end" fill="#231f20" transform="translate(347.45,640.00) rotate(-90)">1:40</text>
<line x1="351.40" y1="633.50" x2="351.40" y2="636.70" stroke="#231f20" stroke-width="0.8"/>
<circle cx="351.40" cy="624.09" r="1.35" fill="#3ab54a"/>
<circle cx="351.00" cy="626.01" r="1.35" fill="#3ab54a"/>
<circle cx="351.80" cy="627.29" r="1.35" fill="#3ab54a"/>
<circle cx="351.20" cy="629.20" r="1.35" fill="#3ab54a"/>
<line x1="349.40" y1="626.65" x2="353.40" y2="626.65" stroke="#222" stroke-width="0.8"/>
<text font-size="7.0" text-anchor="end" fill="#231f20" transform="translate(353.90,640.00) rotate(-90)">1:80</text>
<line x1="357.85" y1="633.50" x2="357.85" y2="636.70" stroke="#231f20" stroke-width="0.8"/>
<circle cx="357.85" cy="624.09" r="1.35" fill="#3ab54a"/>
<circle cx="357.45" cy="627.29" r="1.35" fill="#3ab54a"/>
<circle cx="358.25" cy="628.40" r="1.35" fill="#3ab54a"/>
<line x1="355.85" y1="626.60" x2="359.85" y2="626.60" stroke="#222" stroke-width="0.8"/>
<text font-size="7.0" text-anchor="end" fill="#231f20" transform="translate(360.35,640.00) rotate(-90)">1:160</text>
<line x1="364.30" y1="633.50" x2="364.30" y2="636.70" stroke="#231f20" stroke-width="0.8"/>
<circle cx="364.30" cy="625.21" r="1.35" fill="#3ab54a"/>
<circle cx="363.90" cy="627.93" r="1.35" fill="#3ab54a"/>
<circle cx="364.70" cy="630.00" r="1.35" fill="#3ab54a"/>
<line x1="362.30" y1="627.71" x2="366.30" y2="627.71" stroke="#222" stroke-width="0.8"/>
<text font-size="7.0" text-anchor="end" fill="#231f20" transform="translate(366.80,640.00) rotate(-90)">1:320</text>
<line x1="374.60" y1="633.50" x2="374.60" y2="636.70" stroke="#231f20" stroke-width="0.8"/>
<circle cx="374.60" cy="627.29" r="1.35" fill="#1c4f8b"/>
<text font-size="7.0" text-anchor="end" fill="#231f20" transform="translate(377.10,640.00) rotate(-90)">1:20</text>
<line x1="381.05" y1="633.50" x2="381.05" y2="636.70" stroke="#231f20" stroke-width="0.8"/>
<circle cx="381.05" cy="627.29" r="1.35" fill="#1c4f8b"/>
<circle cx="380.65" cy="628.40" r="1.35" fill="#1c4f8b"/>
<line x1="379.05" y1="627.85" x2="383.05" y2="627.85" stroke="#222" stroke-width="0.8"/>
<text font-size="7.0" text-anchor="end" fill="#231f20" transform="translate(383.55,640.00) rotate(-90)">1:40</text>
<line x1="387.50" y1="633.50" x2="387.50" y2="636.70" stroke="#231f20" stroke-width="0.8"/>
<circle cx="387.50" cy="626.01" r="1.35" fill="#1c4f8b"/>
<circle cx="387.10" cy="627.93" r="1.35" fill="#1c4f8b"/>
<circle cx="387.90" cy="629.52" r="1.35" fill="#1c4f8b"/>
<line x1="385.50" y1="627.82" x2="389.50" y2="627.82" stroke="#222" stroke-width="0.8"/>
<text font-size="7.0" text-anchor="end" fill="#231f20" transform="translate(390.00,640.00) rotate(-90)">1:80</text>
<line x1="393.95" y1="633.50" x2="393.95" y2="636.70" stroke="#231f20" stroke-width="0.8"/>
<circle cx="393.95" cy="625.21" r="1.35" fill="#1c4f8b"/>
<circle cx="393.55" cy="627.29" r="1.35" fill="#1c4f8b"/>
<circle cx="394.35" cy="629.20" r="1.35" fill="#1c4f8b"/>
<line x1="391.95" y1="627.23" x2="395.95" y2="627.23" stroke="#222" stroke-width="0.8"/>
<text font-size="7.0" text-anchor="end" fill="#231f20" transform="translate(396.45,640.00) rotate(-90)">1:160</text>
<line x1="400.40" y1="633.50" x2="400.40" y2="636.70" stroke="#231f20" stroke-width="0.8"/>
<circle cx="400.40" cy="625.69" r="1.35" fill="#1c4f8b"/>
<circle cx="400.00" cy="627.93" r="1.35" fill="#1c4f8b"/>
<circle cx="400.80" cy="630.00" r="1.35" fill="#1c4f8b"/>
<line x1="398.40" y1="627.87" x2="402.40" y2="627.87" stroke="#222" stroke-width="0.8"/>
<text font-size="7.0" text-anchor="end" fill="#231f20" transform="translate(402.90,640.00) rotate(-90)">1:320</text>
<circle cx="149.2" cy="668.9" r="2.0" fill="#5a1a78"/>
<text x="154.80" y="671.40" font-size="7.4" text-anchor="start" fill="#231f20" font-weight="normal" >d7</text>
<circle cx="175.0" cy="668.9" r="2.0" fill="#c8102e"/>
<text x="180.60" y="671.40" font-size="7.4" text-anchor="start" fill="#231f20" font-weight="normal" >d14</text>
<circle cx="203.5" cy="668.9" r="2.0" fill="#f7941d"/>
<text x="209.10" y="671.40" font-size="7.4" text-anchor="start" fill="#231f20" font-weight="normal" >d21</text>
<circle cx="232.5" cy="668.9" r="2.0" fill="#3ab54a"/>
<text x="238.10" y="671.40" font-size="7.4" text-anchor="start" fill="#231f20" font-weight="normal" >d60</text>
<circle cx="260.6" cy="668.9" r="2.0" fill="#1c4f8b"/>
<text x="266.20" y="671.40" font-size="7.4" text-anchor="start" fill="#231f20" font-weight="normal" >d150</text>
<path d="M425.3,439.8 L425.8,439.8 L426.3,439.8 L426.8,439.8 L427.3,439.8 L427.8,439.7 L428.3,439.4 L428.8,438.8 L429.3,437.9 L429.8,436.4 L430.3,434.3 L430.8,431.4 L431.3,427.5 L431.8,422.9 L432.3,417.8 L432.8,412.5 L433.3,407.7 L433.8,404.1 L434.3,401.9 L434.8,401.7 L435.3,403.1 L435.8,405.7 L436.3,409.4 L436.8,413.7 L437.3,418.1 L437.8,422.4 L438.3,426.2 L438.8,429.5 L439.3,432.0 L439.8,434.0 L440.3,435.4 L440.8,436.4 L441.3,437.1 L441.8,437.6 L442.3,438.0 L442.8,438.3 L443.3,438.5 L443.8,438.7 L444.3,438.8 L444.8,439.0 L445.3,439.1 L445.8,439.2 L446.3,439.3 L446.8,439.4 L447.3,439.5 L447.8,439.6 L448.3,439.7 L448.8,439.7 L449.3,439.8 L449.8,439.8 L450.3,439.8 L450.8,439.8 L451.3,439.8 L451.8,439.8 L452.3,439.8 L452.8,439.8 L453.3,439.8 L453.8,439.8 L454.3,439.8 L454.8,439.8 L455.3,439.8 L455.8,439.8 L456.3,439.8 L456.8,439.8 L457.3,439.8 L457.8,439.8 L458.3,439.8 L458.8,439.8 L459.3,439.8 L459.8,439.8 L460.3,439.8 L460.8,439.8 L461.3,439.8 L461.8,439.8 L462.3,439.8 L462.8,439.8 L463.3,439.8" fill="none" stroke="#80d2d0" stroke-width="0.55"/>
<path d="M425.3,439.8 L425.8,439.8 L426.3,439.8 L426.8,439.8 L427.3,439.8 L427.8,439.7 L428.3,439.4 L428.8,438.8 L429.3,437.9 L429.8,436.4 L430.3,434.3 L430.8,431.4 L431.3,427.5 L431.8,422.9 L432.3,417.8 L432.8,412.5 L433.3,407.7 L433.8,404.1 L434.3,401.9 L434.8,401.7 L435.3,403.1 L435.8,405.9 L436.3,409.7 L436.8,414.1 L437.3,418.7 L437.8,423.0 L438.3,426.8 L438.8,430.0 L439.3,432.5 L439.8,434.3 L440.3,435.7 L440.8,436.6 L441.3,437.3 L441.8,437.8 L442.3,438.1 L442.8,438.4 L443.3,438.6 L443.8,438.7 L444.3,438.9 L444.8,439.0 L445.3,439.2 L445.8,439.3 L446.3,439.4 L446.8,439.5 L447.3,439.6 L447.8,439.6 L448.3,439.7 L448.8,439.7 L449.3,439.8 L449.8,439.8 L450.3,439.8 L450.8,439.8 L451.3,439.8 L451.8,439.8 L452.3,439.8 L452.8,439.8 L453.3,439.8 L453.8,439.8 L454.3,439.8 L454.8,439.8 L455.3,439.8 L455.8,439.8 L456.3,439.8 L456.8,439.8 L457.3,439.8 L457.8,439.8 L458.3,439.8 L458.8,439.8 L459.3,439.8 L459.8,439.8 L460.3,439.8 L460.8,439.8 L461.3,439.8 L461.8,439.8 L462.3,439.8 L462.8,439.8 L463.3,439.8" fill="none" stroke="#7cc65a" stroke-width="0.55"/>
<path d="M425.3,439.8 L425.8,439.8 L426.3,439.8 L426.8,439.8 L427.3,439.8 L427.8,439.7 L428.3,439.3 L428.8,438.7 L429.3,437.8 L429.8,436.2 L430.3,434.0 L430.8,431.0 L431.3,427.0 L431.8,422.3 L432.3,417.1 L432.8,411.9 L433.3,407.1 L433.8,403.6 L434.3,401.6 L434.8,401.6 L435.3,403.1 L435.8,406.1 L436.3,410.0 L436.8,414.4 L437.3,419.0 L437.8,423.3 L438.3,427.1 L438.8,430.2 L439.3,432.6 L439.8,434.5 L440.3,435.8 L440.8,436.7 L441.3,437.3 L441.8,437.8 L442.3,438.1 L442.8,438.4 L443.3,438.6 L443.8,438.8 L444.3,438.9 L444.8,439.1 L445.3,439.2 L445.8,439.3 L446.3,439.4 L446.8,439.5 L447.3,439.6 L447.8,439.6 L448.3,439.7 L448.8,439.7 L449.3,439.8 L449.8,439.8 L450.3,439.8 L450.8,439.8 L451.3,439.8 L451.8,439.8 L452.3,439.8 L452.8,439.8 L453.3,439.8 L453.8,439.8 L454.3,439.8 L454.8,439.8 L455.3,439.8 L455.8,439.8 L456.3,439.8 L456.8,439.8 L457.3,439.8 L457.8,439.8 L458.3,439.8 L458.8,439.8 L459.3,439.8 L459.8,439.8 L460.3,439.8 L460.8,439.8 L461.3,439.8 L461.8,439.8 L462.3,439.8 L462.8,439.8 L463.3,439.8" fill="none" stroke="#6a50c0" stroke-width="0.55"/>
<path d="M425.3,439.8 L425.8,439.8 L426.3,439.8 L426.8,439.8 L427.3,439.8 L427.8,439.7 L428.3,439.4 L428.8,438.8 L429.3,437.9 L429.8,436.4 L430.3,434.3 L430.8,431.3 L431.3,427.5 L431.8,422.8 L432.3,417.6 L432.8,412.4 L433.3,407.6 L433.8,403.9 L434.3,401.8 L434.8,401.5 L435.3,403.0 L435.8,405.9 L436.3,409.9 L436.8,414.4 L437.3,419.1 L437.8,423.5 L438.3,427.3 L438.8,430.4 L439.3,432.9 L439.8,434.7 L440.3,435.9 L440.8,436.8 L441.3,437.4 L441.8,437.9 L442.3,438.2 L442.8,438.4 L443.3,438.6 L443.8,438.8 L444.3,439.0 L444.8,439.1 L445.3,439.2 L445.8,439.3 L446.3,439.4 L446.8,439.5 L447.3,439.6 L447.8,439.7 L448.3,439.7 L448.8,439.8 L449.3,439.8 L449.8,439.8 L450.3,439.8 L450.8,439.8 L451.3,439.8 L451.8,439.8 L452.3,439.8 L452.8,439.8 L453.3,439.8 L453.8,439.8 L454.3,439.8 L454.8,439.8 L455.3,439.8 L455.8,439.8 L456.3,439.8 L456.8,439.8 L457.3,439.8 L457.8,439.8 L458.3,439.8 L458.8,439.8 L459.3,439.8 L459.8,439.8 L460.3,439.8 L460.8,439.8 L461.3,439.8 L461.8,439.8 L462.3,439.8 L462.8,439.8 L463.3,439.8" fill="none" stroke="#b855c8" stroke-width="0.55"/>
<path d="M425.3,439.8 L425.8,439.8 L426.3,439.8 L426.8,439.8 L427.3,439.8 L427.8,439.7 L428.3,439.4 L428.8,438.9 L429.3,438.0 L429.8,436.6 L430.3,434.5 L430.8,431.7 L431.3,427.9 L431.8,423.3 L432.3,418.2 L432.8,412.9 L433.3,408.0 L433.8,404.2 L434.3,401.9 L434.8,401.5 L435.3,402.7 L435.8,405.4 L436.3,409.1 L436.8,413.5 L437.3,418.1 L437.8,422.5 L438.3,426.4 L438.8,429.6 L439.3,432.2 L439.8,434.1 L440.3,435.6 L440.8,436.5 L441.3,437.2 L441.8,437.7 L442.3,438.1 L442.8,438.3 L443.3,438.5 L443.8,438.7 L444.3,438.9 L444.8,439.0 L445.3,439.2 L445.8,439.3 L446.3,439.4 L446.8,439.5 L447.3,439.5 L447.8,439.6 L448.3,439.7 L448.8,439.7 L449.3,439.8 L449.8,439.8 L450.3,439.8 L450.8,439.8 L451.3,439.8 L451.8,439.8 L452.3,439.8 L452.8,439.8 L453.3,439.8 L453.8,439.8 L454.3,439.8 L454.8,439.8 L455.3,439.8 L455.8,439.8 L456.3,439.8 L456.8,439.8 L457.3,439.8 L457.8,439.8 L458.3,439.8 L458.8,439.8 L459.3,439.8 L459.8,439.8 L460.3,439.8 L460.8,439.8 L461.3,439.8 L461.8,439.8 L462.3,439.8 L462.8,439.8 L463.3,439.8" fill="none" stroke="#f59a45" stroke-width="0.55"/>
<path d="M425.3,439.8 L425.8,439.8 L426.3,439.8 L426.8,439.8 L427.3,439.8 L427.8,439.7 L428.3,439.5 L428.8,439.0 L429.3,438.1 L429.8,436.8 L430.3,434.7 L430.8,431.9 L431.3,428.1 L431.8,423.4 L432.3,418.1 L432.8,412.7 L433.3,407.7 L433.8,403.8 L434.3,401.6 L434.8,401.3 L435.3,402.8 L435.8,405.7 L436.3,409.7 L436.8,414.3 L437.3,419.0 L437.8,423.4 L438.3,427.2 L438.8,430.4 L439.3,432.8 L439.8,434.6 L440.3,435.9 L440.8,436.8 L441.3,437.4 L441.8,437.9 L442.3,438.2 L442.8,438.4 L443.3,438.6 L443.8,438.8 L444.3,439.0 L444.8,439.1 L445.3,439.2 L445.8,439.3 L446.3,439.4 L446.8,439.5 L447.3,439.6 L447.8,439.7 L448.3,439.7 L448.8,439.8 L449.3,439.8 L449.8,439.8 L450.3,439.8 L450.8,439.8 L451.3,439.8 L451.8,439.8 L452.3,439.8 L452.8,439.8 L453.3,439.8 L453.8,439.8 L454.3,439.8 L454.8,439.8 L455.3,439.8 L455.8,439.8 L456.3,439.8 L456.8,439.8 L457.3,439.8 L457.8,439.8 L458.3,439.8 L458.8,439.8 L459.3,439.8 L459.8,439.8 L460.3,439.8 L460.8,439.8 L461.3,439.8 L461.8,439.8 L462.3,439.8 L462.8,439.8 L463.3,439.8" fill="none" stroke="#e2505e" stroke-width="0.55"/>
<rect x="424.3" y="398.4" width="40.0" height="42.0" fill="none" stroke="#6a6a6a" stroke-width="0.7"/>
<line x1="423.0" y1="440.00" x2="424.3" y2="440.00" stroke="#444" stroke-width="0.5"/>
<text x="422.70" y="441.30" font-size="3.7" text-anchor="end" fill="#333">0</text>
<line x1="423.0" y1="432.04" x2="424.3" y2="432.04" stroke="#444" stroke-width="0.5"/>
<text x="422.70" y="433.34" font-size="3.7" text-anchor="end" fill="#333">20</text>
<line x1="423.0" y1="424.08" x2="424.3" y2="424.08" stroke="#444" stroke-width="0.5"/>
<text x="422.70" y="425.38" font-size="3.7" text-anchor="end" fill="#333">40</text>
<line x1="423.0" y1="416.12" x2="424.3" y2="416.12" stroke="#444" stroke-width="0.5"/>
<text x="422.70" y="417.42" font-size="3.7" text-anchor="end" fill="#333">60</text>
<line x1="423.0" y1="408.16" x2="424.3" y2="408.16" stroke="#444" stroke-width="0.5"/>
<text x="422.70" y="409.46" font-size="3.7" text-anchor="end" fill="#333">80</text>
<line x1="423.0" y1="400.20" x2="424.3" y2="400.20" stroke="#444" stroke-width="0.5"/>
<text x="422.70" y="401.50" font-size="3.7" text-anchor="end" fill="#333">100</text>
<text x="428.00" y="445.60" font-size="3.7" text-anchor="middle" fill="#333">0</text>
<text x="433.20" y="445.60" font-size="3.7" text-anchor="middle" fill="#333">10<tspan font-size="2.6" dy="-1.4">2</tspan></text>
<line x1="432.70" y1="440.4" x2="432.70" y2="441.5" stroke="#444" stroke-width="0.45"/>
<text x="442.05" y="445.60" font-size="3.7" text-anchor="middle" fill="#333">10<tspan font-size="2.6" dy="-1.4">3</tspan></text>
<line x1="441.55" y1="440.4" x2="441.55" y2="441.5" stroke="#444" stroke-width="0.45"/>
<text x="450.90" y="445.60" font-size="3.7" text-anchor="middle" fill="#333">10<tspan font-size="2.6" dy="-1.4">4</tspan></text>
<line x1="450.40" y1="440.4" x2="450.40" y2="441.5" stroke="#444" stroke-width="0.45"/>
<text x="459.75" y="445.60" font-size="3.7" text-anchor="middle" fill="#333">10<tspan font-size="2.6" dy="-1.4">5</tspan></text>
<line x1="459.25" y1="440.4" x2="459.25" y2="441.5" stroke="#444" stroke-width="0.45"/>
<line x1="435.36" y1="440.4" x2="435.36" y2="441.09999999999997" stroke="#555" stroke-width="0.3"/>
<line x1="436.92" y1="440.4" x2="436.92" y2="441.09999999999997" stroke="#555" stroke-width="0.3"/>
<line x1="438.03" y1="440.4" x2="438.03" y2="441.09999999999997" stroke="#555" stroke-width="0.3"/>
<line x1="438.89" y1="440.4" x2="438.89" y2="441.09999999999997" stroke="#555" stroke-width="0.3"/>
<line x1="439.59" y1="440.4" x2="439.59" y2="441.09999999999997" stroke="#555" stroke-width="0.3"/>
<line x1="440.18" y1="440.4" x2="440.18" y2="441.09999999999997" stroke="#555" stroke-width="0.3"/>
<line x1="440.69" y1="440.4" x2="440.69" y2="441.09999999999997" stroke="#555" stroke-width="0.3"/>
<line x1="441.15" y1="440.4" x2="441.15" y2="441.09999999999997" stroke="#555" stroke-width="0.3"/>
<line x1="444.21" y1="440.4" x2="444.21" y2="441.09999999999997" stroke="#555" stroke-width="0.3"/>
<line x1="445.77" y1="440.4" x2="445.77" y2="441.09999999999997" stroke="#555" stroke-width="0.3"/>
<line x1="446.88" y1="440.4" x2="446.88" y2="441.09999999999997" stroke="#555" stroke-width="0.3"/>
<line x1="447.74" y1="440.4" x2="447.74" y2="441.09999999999997" stroke="#555" stroke-width="0.3"/>
<line x1="448.44" y1="440.4" x2="448.44" y2="441.09999999999997" stroke="#555" stroke-width="0.3"/>
<line x1="449.03" y1="440.4" x2="449.03" y2="441.09999999999997" stroke="#555" stroke-width="0.3"/>
<line x1="449.54" y1="440.4" x2="449.54" y2="441.09999999999997" stroke="#555" stroke-width="0.3"/>
<line x1="450.00" y1="440.4" x2="450.00" y2="441.09999999999997" stroke="#555" stroke-width="0.3"/>
<line x1="453.06" y1="440.4" x2="453.06" y2="441.09999999999997" stroke="#555" stroke-width="0.3"/>
<line x1="454.62" y1="440.4" x2="454.62" y2="441.09999999999997" stroke="#555" stroke-width="0.3"/>
<line x1="455.73" y1="440.4" x2="455.73" y2="441.09999999999997" stroke="#555" stroke-width="0.3"/>
<line x1="456.59" y1="440.4" x2="456.59" y2="441.09999999999997" stroke="#555" stroke-width="0.3"/>
<line x1="457.29" y1="440.4" x2="457.29" y2="441.09999999999997" stroke="#555" stroke-width="0.3"/>
<line x1="457.88" y1="440.4" x2="457.88" y2="441.09999999999997" stroke="#555" stroke-width="0.3"/>
<line x1="458.39" y1="440.4" x2="458.39" y2="441.09999999999997" stroke="#555" stroke-width="0.3"/>
<line x1="458.85" y1="440.4" x2="458.85" y2="441.09999999999997" stroke="#555" stroke-width="0.3"/>
<path d="M474.8,439.8 L475.3,439.8 L475.8,439.8 L476.3,439.8 L476.8,439.7 L477.3,439.4 L477.8,438.9 L478.3,438.1 L478.8,436.8 L479.3,434.8 L479.8,432.0 L480.3,428.4 L480.8,423.9 L481.3,418.8 L481.8,413.5 L482.3,408.6 L482.8,404.7 L483.3,402.2 L483.8,401.6 L484.3,402.7 L484.8,405.1 L485.3,408.6 L485.8,412.8 L486.3,417.3 L486.8,421.6 L487.3,425.5 L487.8,428.9 L488.3,431.6 L488.8,433.6 L489.3,435.2 L489.8,436.3 L490.3,437.0 L490.8,437.6 L491.3,437.9 L491.8,438.2 L492.3,438.5 L492.8,438.6 L493.3,438.8 L493.8,439.0 L494.3,439.1 L494.8,439.2 L495.3,439.3 L495.8,439.4 L496.3,439.5 L496.8,439.6 L497.3,439.6 L497.8,439.7 L498.3,439.8 L498.8,439.8 L499.3,439.8 L499.8,439.8 L500.3,439.8 L500.8,439.8 L501.3,439.8 L501.8,439.8 L502.3,439.8 L502.8,439.8 L503.3,439.8 L503.8,439.8 L504.3,439.8 L504.8,439.8 L505.3,439.8 L505.8,439.8 L506.3,439.8 L506.8,439.8 L507.3,439.8 L507.8,439.8 L508.3,439.8 L508.8,439.8 L509.3,439.8 L509.8,439.8 L510.3,439.8 L510.8,439.8 L511.3,439.8 L511.8,439.8 L512.3,439.8 L512.8,439.8" fill="none" stroke="#80d2d0" stroke-width="0.55"/>
<path d="M474.8,439.8 L475.3,439.8 L475.8,439.8 L476.3,439.8 L476.8,439.7 L477.3,439.4 L477.8,438.9 L478.3,438.1 L478.8,436.8 L479.3,434.8 L479.8,432.0 L480.3,428.4 L480.8,423.9 L481.3,418.8 L481.8,413.5 L482.3,408.6 L482.8,404.7 L483.3,402.2 L483.8,401.6 L484.3,402.7 L484.8,405.2 L485.3,408.9 L485.8,413.2 L486.3,417.7 L486.8,422.1 L487.3,426.1 L487.8,429.4 L488.3,432.0 L488.8,434.0 L489.3,435.5 L489.8,436.5 L490.3,437.2 L490.8,437.7 L491.3,438.0 L491.8,438.3 L492.3,438.5 L492.8,438.7 L493.3,438.9 L493.8,439.0 L494.3,439.1 L494.8,439.3 L495.3,439.4 L495.8,439.5 L496.3,439.5 L496.8,439.6 L497.3,439.7 L497.8,439.7 L498.3,439.8 L498.8,439.8 L499.3,439.8 L499.8,439.8 L500.3,439.8 L500.8,439.8 L501.3,439.8 L501.8,439.8 L502.3,439.8 L502.8,439.8 L503.3,439.8 L503.8,439.8 L504.3,439.8 L504.8,439.8 L505.3,439.8 L505.8,439.8 L506.3,439.8 L506.8,439.8 L507.3,439.8 L507.8,439.8 L508.3,439.8 L508.8,439.8 L509.3,439.8 L509.8,439.8 L510.3,439.8 L510.8,439.8 L511.3,439.8 L511.8,439.8 L512.3,439.8 L512.8,439.8" fill="none" stroke="#7cc65a" stroke-width="0.55"/>
<path d="M474.8,439.8 L475.3,439.8 L475.8,439.8 L476.3,439.8 L476.8,439.7 L477.3,439.4 L477.8,438.9 L478.3,438.0 L478.8,436.6 L479.3,434.5 L479.8,431.7 L480.3,427.9 L480.8,423.3 L481.3,418.2 L481.8,412.9 L482.3,408.0 L482.8,404.2 L483.3,401.9 L483.8,401.5 L484.3,402.7 L484.8,405.4 L485.3,409.1 L485.8,413.5 L486.3,418.1 L486.8,422.5 L487.3,426.4 L487.8,429.6 L488.3,432.2 L488.8,434.1 L489.3,435.6 L489.8,436.5 L490.3,437.2 L490.8,437.7 L491.3,438.1 L491.8,438.3 L492.3,438.5 L492.8,438.7 L493.3,438.9 L493.8,439.0 L494.3,439.2 L494.8,439.3 L495.3,439.4 L495.8,439.5 L496.3,439.5 L496.8,439.6 L497.3,439.7 L497.8,439.7 L498.3,439.8 L498.8,439.8 L499.3,439.8 L499.8,439.8 L500.3,439.8 L500.8,439.8 L501.3,439.8 L501.8,439.8 L502.3,439.8 L502.8,439.8 L503.3,439.8 L503.8,439.8 L504.3,439.8 L504.8,439.8 L505.3,439.8 L505.8,439.8 L506.3,439.8 L506.8,439.8 L507.3,439.8 L507.8,439.8 L508.3,439.8 L508.8,439.8 L509.3,439.8 L509.8,439.8 L510.3,439.8 L510.8,439.8 L511.3,439.8 L511.8,439.8 L512.3,439.8 L512.8,439.8" fill="none" stroke="#6a50c0" stroke-width="0.55"/>
<path d="M474.8,439.8 L475.3,439.8 L475.8,439.8 L476.3,439.8 L476.8,439.7 L477.3,439.4 L477.8,438.9 L478.3,438.1 L478.8,436.8 L479.3,434.8 L479.8,432.0 L480.3,428.3 L480.8,423.8 L481.3,418.7 L481.8,413.4 L482.3,408.5 L482.8,404.5 L483.3,402.0 L483.8,401.4 L484.3,402.6 L484.8,405.2 L485.3,409.0 L485.8,413.5 L486.3,418.1 L486.8,422.6 L487.3,426.6 L487.8,429.9 L488.3,432.4 L488.8,434.3 L489.3,435.7 L489.8,436.7 L490.3,437.3 L490.8,437.8 L491.3,438.1 L491.8,438.4 L492.3,438.6 L492.8,438.8 L493.3,438.9 L493.8,439.1 L494.3,439.2 L494.8,439.3 L495.3,439.4 L495.8,439.5 L496.3,439.6 L496.8,439.6 L497.3,439.7 L497.8,439.8 L498.3,439.8 L498.8,439.8 L499.3,439.8 L499.8,439.8 L500.3,439.8 L500.8,439.8 L501.3,439.8 L501.8,439.8 L502.3,439.8 L502.8,439.8 L503.3,439.8 L503.8,439.8 L504.3,439.8 L504.8,439.8 L505.3,439.8 L505.8,439.8 L506.3,439.8 L506.8,439.8 L507.3,439.8 L507.8,439.8 L508.3,439.8 L508.8,439.8 L509.3,439.8 L509.8,439.8 L510.3,439.8 L510.8,439.8 L511.3,439.8 L511.8,439.8 L512.3,439.8 L512.8,439.8" fill="none" stroke="#b855c8" stroke-width="0.55"/>
<path d="M474.8,439.8 L475.3,439.8 L475.8,439.8 L476.3,439.8 L476.8,439.7 L477.3,439.5 L477.8,439.0 L478.3,438.2 L478.8,436.9 L479.3,435.0 L479.8,432.3 L480.3,428.7 L480.8,424.3 L481.3,419.2 L481.8,413.9 L482.3,408.9 L482.8,404.8 L483.3,402.2 L483.8,401.4 L484.3,402.3 L484.8,404.8 L485.3,408.3 L485.8,412.6 L486.3,417.2 L486.8,421.6 L487.3,425.6 L487.8,429.0 L488.3,431.7 L488.8,433.8 L489.3,435.3 L489.8,436.4 L490.3,437.1 L490.8,437.6 L491.3,438.0 L491.8,438.3 L492.3,438.5 L492.8,438.7 L493.3,438.9 L493.8,439.0 L494.3,439.1 L494.8,439.2 L495.3,439.4 L495.8,439.4 L496.3,439.5 L496.8,439.6 L497.3,439.7 L497.8,439.7 L498.3,439.8 L498.8,439.8 L499.3,439.8 L499.8,439.8 L500.3,439.8 L500.8,439.8 L501.3,439.8 L501.8,439.8 L502.3,439.8 L502.8,439.8 L503.3,439.8 L503.8,439.8 L504.3,439.8 L504.8,439.8 L505.3,439.8 L505.8,439.8 L506.3,439.8 L506.8,439.8 L507.3,439.8 L507.8,439.8 L508.3,439.8 L508.8,439.8 L509.3,439.8 L509.8,439.8 L510.3,439.8 L510.8,439.8 L511.3,439.8 L511.8,439.8 L512.3,439.8 L512.8,439.8" fill="none" stroke="#f59a45" stroke-width="0.55"/>
<path d="M474.8,439.8 L475.3,439.8 L475.8,439.8 L476.3,439.8 L476.8,439.8 L477.3,439.5 L477.8,439.1 L478.3,438.3 L478.8,437.1 L479.3,435.2 L479.8,432.5 L480.3,428.9 L480.8,424.4 L481.3,419.2 L481.8,413.7 L482.3,408.6 L482.8,404.5 L483.3,401.9 L483.8,401.2 L484.3,402.4 L484.8,405.0 L485.3,408.8 L485.8,413.3 L486.3,418.0 L486.8,422.5 L487.3,426.5 L487.8,429.8 L488.3,432.4 L488.8,434.3 L489.3,435.7 L489.8,436.7 L490.3,437.3 L490.8,437.8 L491.3,438.1 L491.8,438.4 L492.3,438.6 L492.8,438.8 L493.3,438.9 L493.8,439.1 L494.3,439.2 L494.8,439.3 L495.3,439.4 L495.8,439.5 L496.3,439.6 L496.8,439.6 L497.3,439.7 L497.8,439.8 L498.3,439.8 L498.8,439.8 L499.3,439.8 L499.8,439.8 L500.3,439.8 L500.8,439.8 L501.3,439.8 L501.8,439.8 L502.3,439.8 L502.8,439.8 L503.3,439.8 L503.8,439.8 L504.3,439.8 L504.8,439.8 L505.3,439.8 L505.8,439.8 L506.3,439.8 L506.8,439.8 L507.3,439.8 L507.8,439.8 L508.3,439.8 L508.8,439.8 L509.3,439.8 L509.8,439.8 L510.3,439.8 L510.8,439.8 L511.3,439.8 L511.8,439.8 L512.3,439.8 L512.8,439.8" fill="none" stroke="#e2505e" stroke-width="0.55"/>
<rect x="473.8" y="398.4" width="40.0" height="42.0" fill="none" stroke="#6a6a6a" stroke-width="0.7"/>
<line x1="472.5" y1="440.00" x2="473.8" y2="440.00" stroke="#444" stroke-width="0.5"/>
<text x="472.20" y="441.30" font-size="3.7" text-anchor="end" fill="#333">0</text>
<line x1="472.5" y1="432.04" x2="473.8" y2="432.04" stroke="#444" stroke-width="0.5"/>
<text x="472.20" y="433.34" font-size="3.7" text-anchor="end" fill="#333">20</text>
<line x1="472.5" y1="424.08" x2="473.8" y2="424.08" stroke="#444" stroke-width="0.5"/>
<text x="472.20" y="425.38" font-size="3.7" text-anchor="end" fill="#333">40</text>
<line x1="472.5" y1="416.12" x2="473.8" y2="416.12" stroke="#444" stroke-width="0.5"/>
<text x="472.20" y="417.42" font-size="3.7" text-anchor="end" fill="#333">60</text>
<line x1="472.5" y1="408.16" x2="473.8" y2="408.16" stroke="#444" stroke-width="0.5"/>
<text x="472.20" y="409.46" font-size="3.7" text-anchor="end" fill="#333">80</text>
<line x1="472.5" y1="400.20" x2="473.8" y2="400.20" stroke="#444" stroke-width="0.5"/>
<text x="472.20" y="401.50" font-size="3.7" text-anchor="end" fill="#333">100</text>
<text x="477.50" y="445.60" font-size="3.7" text-anchor="middle" fill="#333">0</text>
<text x="482.70" y="445.60" font-size="3.7" text-anchor="middle" fill="#333">10<tspan font-size="2.6" dy="-1.4">2</tspan></text>
<line x1="482.20" y1="440.4" x2="482.20" y2="441.5" stroke="#444" stroke-width="0.45"/>
<text x="491.55" y="445.60" font-size="3.7" text-anchor="middle" fill="#333">10<tspan font-size="2.6" dy="-1.4">3</tspan></text>
<line x1="491.05" y1="440.4" x2="491.05" y2="441.5" stroke="#444" stroke-width="0.45"/>
<text x="500.40" y="445.60" font-size="3.7" text-anchor="middle" fill="#333">10<tspan font-size="2.6" dy="-1.4">4</tspan></text>
<line x1="499.90" y1="440.4" x2="499.90" y2="441.5" stroke="#444" stroke-width="0.45"/>
<text x="509.25" y="445.60" font-size="3.7" text-anchor="middle" fill="#333">10<tspan font-size="2.6" dy="-1.4">5</tspan></text>
<line x1="508.75" y1="440.4" x2="508.75" y2="441.5" stroke="#444" stroke-width="0.45"/>
<line x1="484.86" y1="440.4" x2="484.86" y2="441.09999999999997" stroke="#555" stroke-width="0.3"/>
<line x1="486.42" y1="440.4" x2="486.42" y2="441.09999999999997" stroke="#555" stroke-width="0.3"/>
<line x1="487.53" y1="440.4" x2="487.53" y2="441.09999999999997" stroke="#555" stroke-width="0.3"/>
<line x1="488.39" y1="440.4" x2="488.39" y2="441.09999999999997" stroke="#555" stroke-width="0.3"/>
<line x1="489.09" y1="440.4" x2="489.09" y2="441.09999999999997" stroke="#555" stroke-width="0.3"/>
<line x1="489.68" y1="440.4" x2="489.68" y2="441.09999999999997" stroke="#555" stroke-width="0.3"/>
<line x1="490.19" y1="440.4" x2="490.19" y2="441.09999999999997" stroke="#555" stroke-width="0.3"/>
<line x1="490.65" y1="440.4" x2="490.65" y2="441.09999999999997" stroke="#555" stroke-width="0.3"/>
<line x1="493.71" y1="440.4" x2="493.71" y2="441.09999999999997" stroke="#555" stroke-width="0.3"/>
<line x1="495.27" y1="440.4" x2="495.27" y2="441.09999999999997" stroke="#555" stroke-width="0.3"/>
<line x1="496.38" y1="440.4" x2="496.38" y2="441.09999999999997" stroke="#555" stroke-width="0.3"/>
<line x1="497.24" y1="440.4" x2="497.24" y2="441.09999999999997" stroke="#555" stroke-width="0.3"/>
<line x1="497.94" y1="440.4" x2="497.94" y2="441.09999999999997" stroke="#555" stroke-width="0.3"/>
<line x1="498.53" y1="440.4" x2="498.53" y2="441.09999999999997" stroke="#555" stroke-width="0.3"/>
<line x1="499.04" y1="440.4" x2="499.04" y2="441.09999999999997" stroke="#555" stroke-width="0.3"/>
<line x1="499.50" y1="440.4" x2="499.50" y2="441.09999999999997" stroke="#555" stroke-width="0.3"/>
<line x1="502.56" y1="440.4" x2="502.56" y2="441.09999999999997" stroke="#555" stroke-width="0.3"/>
<line x1="504.12" y1="440.4" x2="504.12" y2="441.09999999999997" stroke="#555" stroke-width="0.3"/>
<line x1="505.23" y1="440.4" x2="505.23" y2="441.09999999999997" stroke="#555" stroke-width="0.3"/>
<line x1="506.09" y1="440.4" x2="506.09" y2="441.09999999999997" stroke="#555" stroke-width="0.3"/>
<line x1="506.79" y1="440.4" x2="506.79" y2="441.09999999999997" stroke="#555" stroke-width="0.3"/>
<line x1="507.38" y1="440.4" x2="507.38" y2="441.09999999999997" stroke="#555" stroke-width="0.3"/>
<line x1="507.89" y1="440.4" x2="507.89" y2="441.09999999999997" stroke="#555" stroke-width="0.3"/>
<line x1="508.35" y1="440.4" x2="508.35" y2="441.09999999999997" stroke="#555" stroke-width="0.3"/>
<path d="M425.3,504.8 L425.8,504.8 L426.3,504.8 L426.8,504.8 L427.3,504.7 L427.8,504.2 L428.3,503.0 L428.8,500.5 L429.3,496.1 L429.8,489.6 L430.3,481.6 L430.8,473.6 L431.3,467.9 L431.8,466.4 L432.3,468.1 L432.8,471.8 L433.3,477.0 L433.8,482.6 L434.3,488.0 L434.8,492.6 L435.3,496.3 L435.8,498.9 L436.3,500.6 L436.8,501.8 L437.3,502.5 L437.8,503.0 L438.3,503.3 L438.8,503.6 L439.3,503.8 L439.8,504.0 L440.3,504.2 L440.8,504.3 L441.3,504.4 L441.8,504.5 L442.3,504.6 L442.8,504.7 L443.3,504.8 L443.8,504.8 L444.3,504.8 L444.8,504.8 L445.3,504.8 L445.8,504.8 L446.3,504.8 L446.8,504.8 L447.3,504.8 L447.8,504.8 L448.3,504.8 L448.8,504.8 L449.3,504.8 L449.8,504.8 L450.3,504.8 L450.8,504.8 L451.3,504.8 L451.8,504.8 L452.3,504.8 L452.8,504.8 L453.3,504.8 L453.8,504.8 L454.3,504.8 L454.8,504.8 L455.3,504.8 L455.8,504.8 L456.3,504.8 L456.8,504.8 L457.3,504.8 L457.8,504.8 L458.3,504.8 L458.8,504.8 L459.3,504.8 L459.8,504.8 L460.3,504.8 L460.8,504.8 L461.3,504.8 L461.8,504.8 L462.3,504.8 L462.8,504.8 L463.3,504.8" fill="none" stroke="#b855c8" stroke-width="0.55"/>
<path d="M425.3,504.8 L425.8,504.8 L426.3,504.8 L426.8,504.8 L427.3,504.8 L427.8,504.6 L428.3,503.9 L428.8,502.5 L429.3,499.8 L429.8,495.5 L430.3,489.3 L430.8,481.8 L431.3,474.4 L431.8,468.9 L432.3,466.8 L432.8,467.3 L433.3,468.7 L433.8,470.9 L434.3,473.8 L434.8,477.1 L435.3,480.6 L435.8,484.1 L436.3,487.5 L436.8,490.6 L437.3,493.3 L437.8,495.6 L438.3,497.5 L438.8,499.0 L439.3,500.2 L439.8,501.1 L440.3,501.8 L440.8,502.3 L441.3,502.7 L441.8,503.0 L442.3,503.2 L442.8,503.4 L443.3,503.5 L443.8,503.7 L444.3,503.8 L444.8,503.9 L445.3,504.0 L445.8,504.1 L446.3,504.2 L446.8,504.3 L447.3,504.4 L447.8,504.5 L448.3,504.5 L448.8,504.6 L449.3,504.6 L449.8,504.7 L450.3,504.7 L450.8,504.8 L451.3,504.8 L451.8,504.8 L452.3,504.8 L452.8,504.8 L453.3,504.8 L453.8,504.8 L454.3,504.8 L454.8,504.8 L455.3,504.8 L455.8,504.8 L456.3,504.8 L456.8,504.8 L457.3,504.8 L457.8,504.8 L458.3,504.8 L458.8,504.8 L459.3,504.8 L459.8,504.8 L460.3,504.8 L460.8,504.8 L461.3,504.8 L461.8,504.8 L462.3,504.8 L462.8,504.8 L463.3,504.8" fill="none" stroke="#80d2d0" stroke-width="0.55"/>
<path d="M425.3,504.8 L425.8,504.8 L426.3,504.8 L426.8,504.8 L427.3,504.8 L427.8,504.8 L428.3,504.4 L428.8,503.5 L429.3,501.6 L429.8,498.3 L430.3,493.2 L430.8,486.4 L431.3,478.8 L431.8,471.9 L432.3,467.5 L432.8,466.9 L433.3,467.6 L433.8,469.2 L434.3,471.4 L434.8,474.2 L435.3,477.3 L435.8,480.6 L436.3,483.9 L436.8,487.1 L437.3,490.0 L437.8,492.7 L438.3,494.9 L438.8,496.8 L439.3,498.4 L439.8,499.6 L440.3,500.6 L440.8,501.4 L441.3,501.9 L441.8,502.4 L442.3,502.7 L442.8,503.0 L443.3,503.2 L443.8,503.4 L444.3,503.5 L444.8,503.7 L445.3,503.8 L445.8,503.9 L446.3,504.0 L446.8,504.1 L447.3,504.2 L447.8,504.3 L448.3,504.4 L448.8,504.4 L449.3,504.5 L449.8,504.5 L450.3,504.6 L450.8,504.7 L451.3,504.7 L451.8,504.7 L452.3,504.8 L452.8,504.8 L453.3,504.8 L453.8,504.8 L454.3,504.8 L454.8,504.8 L455.3,504.8 L455.8,504.8 L456.3,504.8 L456.8,504.8 L457.3,504.8 L457.8,504.8 L458.3,504.8 L458.8,504.8 L459.3,504.8 L459.8,504.8 L460.3,504.8 L460.8,504.8 L461.3,504.8 L461.8,504.8 L462.3,504.8 L462.8,504.8 L463.3,504.8" fill="none" stroke="#7cc65a" stroke-width="0.55"/>
<path d="M425.3,504.8 L425.8,504.8 L426.3,504.8 L426.8,504.8 L427.3,504.7 L427.8,504.3 L428.3,503.3 L428.8,501.5 L429.3,498.3 L429.8,493.6 L430.3,487.3 L430.8,480.1 L431.3,473.2 L431.8,468.2 L432.3,466.4 L432.8,466.8 L433.3,467.9 L433.8,469.7 L434.3,472.0 L434.8,474.8 L435.3,477.8 L435.8,481.0 L436.3,484.1 L436.8,487.1 L437.3,489.9 L437.8,492.4 L438.3,494.6 L438.8,496.5 L439.3,498.0 L439.8,499.3 L440.3,500.3 L440.8,501.0 L441.3,501.7 L441.8,502.1 L442.3,502.5 L442.8,502.8 L443.3,503.0 L443.8,503.2 L444.3,503.4 L444.8,503.5 L445.3,503.7 L445.8,503.8 L446.3,503.9 L446.8,504.0 L447.3,504.1 L447.8,504.2 L448.3,504.2 L448.8,504.3 L449.3,504.4 L449.8,504.5 L450.3,504.5 L450.8,504.6 L451.3,504.6 L451.8,504.7 L452.3,504.7 L452.8,504.7 L453.3,504.8 L453.8,504.8 L454.3,504.8 L454.8,504.8 L455.3,504.8 L455.8,504.8 L456.3,504.8 L456.8,504.8 L457.3,504.8 L457.8,504.8 L458.3,504.8 L458.8,504.8 L459.3,504.8 L459.8,504.8 L460.3,504.8 L460.8,504.8 L461.3,504.8 L461.8,504.8 L462.3,504.8 L462.8,504.8 L463.3,504.8" fill="none" stroke="#6a50c0" stroke-width="0.55"/>
<path d="M425.3,504.8 L425.8,504.8 L426.3,504.8 L426.8,504.8 L427.3,504.8 L427.8,504.6 L428.3,503.9 L428.8,502.5 L429.3,499.8 L429.8,495.5 L430.3,489.3 L430.8,481.8 L431.3,474.4 L431.8,468.9 L432.3,466.8 L432.8,467.4 L433.3,469.1 L433.8,471.8 L434.3,475.2 L434.8,479.0 L435.3,483.0 L435.8,486.8 L436.3,490.3 L436.8,493.3 L437.3,495.8 L437.8,497.9 L438.3,499.4 L438.8,500.6 L439.3,501.5 L439.8,502.1 L440.3,502.6 L440.8,502.9 L441.3,503.2 L441.8,503.4 L442.3,503.6 L442.8,503.7 L443.3,503.9 L443.8,504.0 L444.3,504.1 L444.8,504.2 L445.3,504.3 L445.8,504.4 L446.3,504.5 L446.8,504.5 L447.3,504.6 L447.8,504.7 L448.3,504.7 L448.8,504.8 L449.3,504.8 L449.8,504.8 L450.3,504.8 L450.8,504.8 L451.3,504.8 L451.8,504.8 L452.3,504.8 L452.8,504.8 L453.3,504.8 L453.8,504.8 L454.3,504.8 L454.8,504.8 L455.3,504.8 L455.8,504.8 L456.3,504.8 L456.8,504.8 L457.3,504.8 L457.8,504.8 L458.3,504.8 L458.8,504.8 L459.3,504.8 L459.8,504.8 L460.3,504.8 L460.8,504.8 L461.3,504.8 L461.8,504.8 L462.3,504.8 L462.8,504.8 L463.3,504.8" fill="none" stroke="#e2505e" stroke-width="0.55"/>
<path d="M425.3,504.8 L425.8,504.8 L426.3,504.8 L426.8,504.8 L427.3,504.8 L427.8,504.7 L428.3,504.3 L428.8,503.3 L429.3,501.5 L429.8,498.3 L430.3,493.6 L430.8,487.3 L431.3,480.1 L431.8,473.2 L432.3,468.2 L432.8,466.4 L433.3,466.8 L433.8,468.1 L434.3,470.1 L434.8,472.7 L435.3,475.7 L435.8,479.0 L436.3,482.4 L436.8,485.7 L437.3,488.7 L437.8,491.5 L438.3,494.0 L438.8,496.0 L439.3,497.7 L439.8,499.1 L440.3,500.2 L440.8,501.0 L441.3,501.7 L441.8,502.2 L442.3,502.6 L442.8,502.9 L443.3,503.1 L443.8,503.3 L444.3,503.5 L444.8,503.6 L445.3,503.7 L445.8,503.9 L446.3,504.0 L446.8,504.1 L447.3,504.2 L447.8,504.2 L448.3,504.3 L448.8,504.4 L449.3,504.5 L449.8,504.5 L450.3,504.6 L450.8,504.6 L451.3,504.7 L451.8,504.7 L452.3,504.8 L452.8,504.8 L453.3,504.8 L453.8,504.8 L454.3,504.8 L454.8,504.8 L455.3,504.8 L455.8,504.8 L456.3,504.8 L456.8,504.8 L457.3,504.8 L457.8,504.8 L458.3,504.8 L458.8,504.8 L459.3,504.8 L459.8,504.8 L460.3,504.8 L460.8,504.8 L461.3,504.8 L461.8,504.8 L462.3,504.8 L462.8,504.8 L463.3,504.8" fill="none" stroke="#f59a45" stroke-width="0.55"/>
<rect x="424.3" y="463.4" width="40.0" height="42.0" fill="none" stroke="#6a6a6a" stroke-width="0.7"/>
<line x1="423.0" y1="505.00" x2="424.3" y2="505.00" stroke="#444" stroke-width="0.5"/>
<text x="422.70" y="506.30" font-size="3.7" text-anchor="end" fill="#333">0</text>
<line x1="423.0" y1="497.04" x2="424.3" y2="497.04" stroke="#444" stroke-width="0.5"/>
<text x="422.70" y="498.34" font-size="3.7" text-anchor="end" fill="#333">20</text>
<line x1="423.0" y1="489.08" x2="424.3" y2="489.08" stroke="#444" stroke-width="0.5"/>
<text x="422.70" y="490.38" font-size="3.7" text-anchor="end" fill="#333">40</text>
<line x1="423.0" y1="481.12" x2="424.3" y2="481.12" stroke="#444" stroke-width="0.5"/>
<text x="422.70" y="482.42" font-size="3.7" text-anchor="end" fill="#333">60</text>
<line x1="423.0" y1="473.16" x2="424.3" y2="473.16" stroke="#444" stroke-width="0.5"/>
<text x="422.70" y="474.46" font-size="3.7" text-anchor="end" fill="#333">80</text>
<line x1="423.0" y1="465.20" x2="424.3" y2="465.20" stroke="#444" stroke-width="0.5"/>
<text x="422.70" y="466.50" font-size="3.7" text-anchor="end" fill="#333">100</text>
<text x="428.00" y="510.60" font-size="3.7" text-anchor="middle" fill="#333">0</text>
<text x="433.20" y="510.60" font-size="3.7" text-anchor="middle" fill="#333">10<tspan font-size="2.6" dy="-1.4">2</tspan></text>
<line x1="432.70" y1="505.4" x2="432.70" y2="506.5" stroke="#444" stroke-width="0.45"/>
<text x="442.05" y="510.60" font-size="3.7" text-anchor="middle" fill="#333">10<tspan font-size="2.6" dy="-1.4">3</tspan></text>
<line x1="441.55" y1="505.4" x2="441.55" y2="506.5" stroke="#444" stroke-width="0.45"/>
<text x="450.90" y="510.60" font-size="3.7" text-anchor="middle" fill="#333">10<tspan font-size="2.6" dy="-1.4">4</tspan></text>
<line x1="450.40" y1="505.4" x2="450.40" y2="506.5" stroke="#444" stroke-width="0.45"/>
<text x="459.75" y="510.60" font-size="3.7" text-anchor="middle" fill="#333">10<tspan font-size="2.6" dy="-1.4">5</tspan></text>
<line x1="459.25" y1="505.4" x2="459.25" y2="506.5" stroke="#444" stroke-width="0.45"/>
<line x1="435.36" y1="505.4" x2="435.36" y2="506.09999999999997" stroke="#555" stroke-width="0.3"/>
<line x1="436.92" y1="505.4" x2="436.92" y2="506.09999999999997" stroke="#555" stroke-width="0.3"/>
<line x1="438.03" y1="505.4" x2="438.03" y2="506.09999999999997" stroke="#555" stroke-width="0.3"/>
<line x1="438.89" y1="505.4" x2="438.89" y2="506.09999999999997" stroke="#555" stroke-width="0.3"/>
<line x1="439.59" y1="505.4" x2="439.59" y2="506.09999999999997" stroke="#555" stroke-width="0.3"/>
<line x1="440.18" y1="505.4" x2="440.18" y2="506.09999999999997" stroke="#555" stroke-width="0.3"/>
<line x1="440.69" y1="505.4" x2="440.69" y2="506.09999999999997" stroke="#555" stroke-width="0.3"/>
<line x1="441.15" y1="505.4" x2="441.15" y2="506.09999999999997" stroke="#555" stroke-width="0.3"/>
<line x1="444.21" y1="505.4" x2="444.21" y2="506.09999999999997" stroke="#555" stroke-width="0.3"/>
<line x1="445.77" y1="505.4" x2="445.77" y2="506.09999999999997" stroke="#555" stroke-width="0.3"/>
<line x1="446.88" y1="505.4" x2="446.88" y2="506.09999999999997" stroke="#555" stroke-width="0.3"/>
<line x1="447.74" y1="505.4" x2="447.74" y2="506.09999999999997" stroke="#555" stroke-width="0.3"/>
<line x1="448.44" y1="505.4" x2="448.44" y2="506.09999999999997" stroke="#555" stroke-width="0.3"/>
<line x1="449.03" y1="505.4" x2="449.03" y2="506.09999999999997" stroke="#555" stroke-width="0.3"/>
<line x1="449.54" y1="505.4" x2="449.54" y2="506.09999999999997" stroke="#555" stroke-width="0.3"/>
<line x1="450.00" y1="505.4" x2="450.00" y2="506.09999999999997" stroke="#555" stroke-width="0.3"/>
<line x1="453.06" y1="505.4" x2="453.06" y2="506.09999999999997" stroke="#555" stroke-width="0.3"/>
<line x1="454.62" y1="505.4" x2="454.62" y2="506.09999999999997" stroke="#555" stroke-width="0.3"/>
<line x1="455.73" y1="505.4" x2="455.73" y2="506.09999999999997" stroke="#555" stroke-width="0.3"/>
<line x1="456.59" y1="505.4" x2="456.59" y2="506.09999999999997" stroke="#555" stroke-width="0.3"/>
<line x1="457.29" y1="505.4" x2="457.29" y2="506.09999999999997" stroke="#555" stroke-width="0.3"/>
<line x1="457.88" y1="505.4" x2="457.88" y2="506.09999999999997" stroke="#555" stroke-width="0.3"/>
<line x1="458.39" y1="505.4" x2="458.39" y2="506.09999999999997" stroke="#555" stroke-width="0.3"/>
<line x1="458.85" y1="505.4" x2="458.85" y2="506.09999999999997" stroke="#555" stroke-width="0.3"/>
<path d="M474.8,504.8 L475.3,504.8 L475.8,504.8 L476.3,504.8 L476.8,504.8 L477.3,504.7 L477.8,504.2 L478.3,503.2 L478.8,501.1 L479.3,497.4 L479.8,492.0 L480.3,484.9 L480.8,477.3 L481.3,470.7 L481.8,467.1 L482.3,467.2 L482.8,469.5 L483.3,473.5 L483.8,478.5 L484.3,483.8 L484.8,488.8 L485.3,493.1 L485.8,496.4 L486.3,498.9 L486.8,500.6 L487.3,501.7 L487.8,502.4 L488.3,502.9 L488.8,503.3 L489.3,503.5 L489.8,503.7 L490.3,503.9 L490.8,504.1 L491.3,504.2 L491.8,504.4 L492.3,504.5 L492.8,504.6 L493.3,504.6 L493.8,504.7 L494.3,504.8 L494.8,504.8 L495.3,504.8 L495.8,504.8 L496.3,504.8 L496.8,504.8 L497.3,504.8 L497.8,504.8 L498.3,504.8 L498.8,504.8 L499.3,504.8 L499.8,504.8 L500.3,504.8 L500.8,504.8 L501.3,504.8 L501.8,504.8 L502.3,504.8 L502.8,504.8 L503.3,504.8 L503.8,504.8 L504.3,504.8 L504.8,504.8 L505.3,504.8 L505.8,504.8 L506.3,504.8 L506.8,504.8 L507.3,504.8 L507.8,504.8 L508.3,504.8 L508.8,504.8 L509.3,504.8 L509.8,504.8 L510.3,504.8 L510.8,504.8 L511.3,504.8 L511.8,504.8 L512.3,504.8 L512.8,504.8" fill="none" stroke="#b855c8" stroke-width="0.55"/>
<path d="M474.8,504.8 L475.3,504.8 L475.8,504.8 L476.3,504.8 L476.8,504.8 L477.3,504.8 L477.8,504.7 L478.3,504.1 L478.8,502.9 L479.3,500.5 L479.8,496.5 L480.3,490.7 L480.8,483.4 L481.3,475.8 L481.8,469.7 L482.3,466.9 L482.8,467.2 L483.3,468.8 L483.8,471.5 L484.3,475.0 L484.8,479.0 L485.3,483.1 L485.8,487.0 L486.3,490.6 L486.8,493.7 L487.3,496.2 L487.8,498.2 L488.3,499.8 L488.8,500.9 L489.3,501.7 L489.8,502.3 L490.3,502.7 L490.8,503.0 L491.3,503.3 L491.8,503.5 L492.3,503.7 L492.8,503.8 L493.3,504.0 L493.8,504.1 L494.3,504.2 L494.8,504.3 L495.3,504.4 L495.8,504.5 L496.3,504.5 L496.8,504.6 L497.3,504.7 L497.8,504.7 L498.3,504.8 L498.8,504.8 L499.3,504.8 L499.8,504.8 L500.3,504.8 L500.8,504.8 L501.3,504.8 L501.8,504.8 L502.3,504.8 L502.8,504.8 L503.3,504.8 L503.8,504.8 L504.3,504.8 L504.8,504.8 L505.3,504.8 L505.8,504.8 L506.3,504.8 L506.8,504.8 L507.3,504.8 L507.8,504.8 L508.3,504.8 L508.8,504.8 L509.3,504.8 L509.8,504.8 L510.3,504.8 L510.8,504.8 L511.3,504.8 L511.8,504.8 L512.3,504.8 L512.8,504.8" fill="none" stroke="#80d2d0" stroke-width="0.55"/>
<path d="M474.8,504.8 L475.3,504.8 L475.8,504.8 L476.3,504.8 L476.8,504.8 L477.3,504.8 L477.8,504.8 L478.3,504.4 L478.8,503.5 L479.3,501.6 L479.8,498.3 L480.3,493.2 L480.8,486.4 L481.3,478.8 L481.8,471.9 L482.3,467.5 L482.8,466.9 L483.3,467.9 L483.8,470.1 L484.3,473.1 L484.8,476.7 L485.3,480.6 L485.8,484.5 L486.3,488.2 L486.8,491.5 L487.3,494.4 L487.8,496.7 L488.3,498.5 L488.8,500.0 L489.3,501.0 L489.8,501.8 L490.3,502.3 L490.8,502.7 L491.3,503.0 L491.8,503.3 L492.3,503.5 L492.8,503.6 L493.3,503.8 L493.8,503.9 L494.3,504.0 L494.8,504.2 L495.3,504.3 L495.8,504.3 L496.3,504.4 L496.8,504.5 L497.3,504.6 L497.8,504.6 L498.3,504.7 L498.8,504.7 L499.3,504.8 L499.8,504.8 L500.3,504.8 L500.8,504.8 L501.3,504.8 L501.8,504.8 L502.3,504.8 L502.8,504.8 L503.3,504.8 L503.8,504.8 L504.3,504.8 L504.8,504.8 L505.3,504.8 L505.8,504.8 L506.3,504.8 L506.8,504.8 L507.3,504.8 L507.8,504.8 L508.3,504.8 L508.8,504.8 L509.3,504.8 L509.8,504.8 L510.3,504.8 L510.8,504.8 L511.3,504.8 L511.8,504.8 L512.3,504.8 L512.8,504.8" fill="none" stroke="#7cc65a" stroke-width="0.55"/>
<path d="M474.8,504.8 L475.3,504.8 L475.8,504.8 L476.3,504.8 L476.8,504.8 L477.3,504.8 L477.8,504.6 L478.3,503.9 L478.8,502.5 L479.3,499.8 L479.8,495.5 L480.3,489.3 L480.8,481.8 L481.3,474.4 L481.8,468.9 L482.3,466.8 L482.8,467.3 L483.3,468.8 L483.8,471.2 L484.3,474.2 L484.8,477.7 L485.3,481.3 L485.8,485.0 L486.3,488.4 L486.8,491.5 L487.3,494.2 L487.8,496.4 L488.3,498.2 L488.8,499.6 L489.3,500.6 L489.8,501.5 L490.3,502.1 L490.8,502.5 L491.3,502.8 L491.8,503.1 L492.3,503.3 L492.8,503.5 L493.3,503.7 L493.8,503.8 L494.3,503.9 L494.8,504.0 L495.3,504.1 L495.8,504.2 L496.3,504.3 L496.8,504.4 L497.3,504.5 L497.8,504.5 L498.3,504.6 L498.8,504.7 L499.3,504.7 L499.8,504.7 L500.3,504.8 L500.8,504.8 L501.3,504.8 L501.8,504.8 L502.3,504.8 L502.8,504.8 L503.3,504.8 L503.8,504.8 L504.3,504.8 L504.8,504.8 L505.3,504.8 L505.8,504.8 L506.3,504.8 L506.8,504.8 L507.3,504.8 L507.8,504.8 L508.3,504.8 L508.8,504.8 L509.3,504.8 L509.8,504.8 L510.3,504.8 L510.8,504.8 L511.3,504.8 L511.8,504.8 L512.3,504.8 L512.8,504.8" fill="none" stroke="#6a50c0" stroke-width="0.55"/>
<path d="M474.8,504.8 L475.3,504.8 L475.8,504.8 L476.3,504.8 L476.8,504.8 L477.3,504.8 L477.8,504.8 L478.3,504.6 L478.8,503.9 L479.3,502.5 L479.8,499.8 L480.3,495.5 L480.8,489.3 L481.3,481.8 L481.8,474.4 L482.3,468.9 L482.8,466.8 L483.3,467.4 L483.8,469.3 L484.3,472.2 L484.8,475.8 L485.3,479.8 L485.8,483.9 L486.3,487.8 L486.8,491.3 L487.3,494.2 L487.8,496.7 L488.3,498.6 L488.8,500.0 L489.3,501.1 L489.8,501.8 L490.3,502.4 L490.8,502.8 L491.3,503.1 L491.8,503.3 L492.3,503.5 L492.8,503.7 L493.3,503.8 L493.8,504.0 L494.3,504.1 L494.8,504.2 L495.3,504.3 L495.8,504.4 L496.3,504.5 L496.8,504.6 L497.3,504.6 L497.8,504.7 L498.3,504.7 L498.8,504.8 L499.3,504.8 L499.8,504.8 L500.3,504.8 L500.8,504.8 L501.3,504.8 L501.8,504.8 L502.3,504.8 L502.8,504.8 L503.3,504.8 L503.8,504.8 L504.3,504.8 L504.8,504.8 L505.3,504.8 L505.8,504.8 L506.3,504.8 L506.8,504.8 L507.3,504.8 L507.8,504.8 L508.3,504.8 L508.8,504.8 L509.3,504.8 L509.8,504.8 L510.3,504.8 L510.8,504.8 L511.3,504.8 L511.8,504.8 L512.3,504.8 L512.8,504.8" fill="none" stroke="#f59a45" stroke-width="0.55"/>
<path d="M474.8,504.8 L475.3,504.8 L475.8,504.8 L476.3,504.8 L476.8,504.8 L477.3,504.8 L477.8,504.7 L478.3,504.2 L478.8,503.1 L479.3,501.0 L479.8,497.3 L480.3,491.7 L480.8,484.5 L481.3,476.7 L481.8,470.0 L482.3,466.3 L482.8,466.3 L483.3,468.3 L483.8,471.7 L484.3,476.2 L484.8,481.1 L485.3,485.9 L485.8,490.3 L486.3,494.0 L486.8,496.9 L487.3,499.0 L487.8,500.5 L488.3,501.6 L488.8,502.3 L489.3,502.8 L489.8,503.1 L490.3,503.4 L490.8,503.6 L491.3,503.8 L491.8,504.0 L492.3,504.1 L492.8,504.2 L493.3,504.3 L493.8,504.4 L494.3,504.5 L494.8,504.6 L495.3,504.7 L495.8,504.7 L496.3,504.8 L496.8,504.8 L497.3,504.8 L497.8,504.8 L498.3,504.8 L498.8,504.8 L499.3,504.8 L499.8,504.8 L500.3,504.8 L500.8,504.8 L501.3,504.8 L501.8,504.8 L502.3,504.8 L502.8,504.8 L503.3,504.8 L503.8,504.8 L504.3,504.8 L504.8,504.8 L505.3,504.8 L505.8,504.8 L506.3,504.8 L506.8,504.8 L507.3,504.8 L507.8,504.8 L508.3,504.8 L508.8,504.8 L509.3,504.8 L509.8,504.8 L510.3,504.8 L510.8,504.8 L511.3,504.8 L511.8,504.8 L512.3,504.8 L512.8,504.8" fill="none" stroke="#e2505e" stroke-width="0.55"/>
<rect x="473.8" y="463.4" width="40.0" height="42.0" fill="none" stroke="#6a6a6a" stroke-width="0.7"/>
<line x1="472.5" y1="505.00" x2="473.8" y2="505.00" stroke="#444" stroke-width="0.5"/>
<text x="472.20" y="506.30" font-size="3.7" text-anchor="end" fill="#333">0</text>
<line x1="472.5" y1="497.04" x2="473.8" y2="497.04" stroke="#444" stroke-width="0.5"/>
<text x="472.20" y="498.34" font-size="3.7" text-anchor="end" fill="#333">20</text>
<line x1="472.5" y1="489.08" x2="473.8" y2="489.08" stroke="#444" stroke-width="0.5"/>
<text x="472.20" y="490.38" font-size="3.7" text-anchor="end" fill="#333">40</text>
<line x1="472.5" y1="481.12" x2="473.8" y2="481.12" stroke="#444" stroke-width="0.5"/>
<text x="472.20" y="482.42" font-size="3.7" text-anchor="end" fill="#333">60</text>
<line x1="472.5" y1="473.16" x2="473.8" y2="473.16" stroke="#444" stroke-width="0.5"/>
<text x="472.20" y="474.46" font-size="3.7" text-anchor="end" fill="#333">80</text>
<line x1="472.5" y1="465.20" x2="473.8" y2="465.20" stroke="#444" stroke-width="0.5"/>
<text x="472.20" y="466.50" font-size="3.7" text-anchor="end" fill="#333">100</text>
<text x="477.50" y="510.60" font-size="3.7" text-anchor="middle" fill="#333">0</text>
<text x="482.70" y="510.60" font-size="3.7" text-anchor="middle" fill="#333">10<tspan font-size="2.6" dy="-1.4">2</tspan></text>
<line x1="482.20" y1="505.4" x2="482.20" y2="506.5" stroke="#444" stroke-width="0.45"/>
<text x="491.55" y="510.60" font-size="3.7" text-anchor="middle" fill="#333">10<tspan font-size="2.6" dy="-1.4">3</tspan></text>
<line x1="491.05" y1="505.4" x2="491.05" y2="506.5" stroke="#444" stroke-width="0.45"/>
<text x="500.40" y="510.60" font-size="3.7" text-anchor="middle" fill="#333">10<tspan font-size="2.6" dy="-1.4">4</tspan></text>
<line x1="499.90" y1="505.4" x2="499.90" y2="506.5" stroke="#444" stroke-width="0.45"/>
<text x="509.25" y="510.60" font-size="3.7" text-anchor="middle" fill="#333">10<tspan font-size="2.6" dy="-1.4">5</tspan></text>
<line x1="508.75" y1="505.4" x2="508.75" y2="506.5" stroke="#444" stroke-width="0.45"/>
<line x1="484.86" y1="505.4" x2="484.86" y2="506.09999999999997" stroke="#555" stroke-width="0.3"/>
<line x1="486.42" y1="505.4" x2="486.42" y2="506.09999999999997" stroke="#555" stroke-width="0.3"/>
<line x1="487.53" y1="505.4" x2="487.53" y2="506.09999999999997" stroke="#555" stroke-width="0.3"/>
<line x1="488.39" y1="505.4" x2="488.39" y2="506.09999999999997" stroke="#555" stroke-width="0.3"/>
<line x1="489.09" y1="505.4" x2="489.09" y2="506.09999999999997" stroke="#555" stroke-width="0.3"/>
<line x1="489.68" y1="505.4" x2="489.68" y2="506.09999999999997" stroke="#555" stroke-width="0.3"/>
<line x1="490.19" y1="505.4" x2="490.19" y2="506.09999999999997" stroke="#555" stroke-width="0.3"/>
<line x1="490.65" y1="505.4" x2="490.65" y2="506.09999999999997" stroke="#555" stroke-width="0.3"/>
<line x1="493.71" y1="505.4" x2="493.71" y2="506.09999999999997" stroke="#555" stroke-width="0.3"/>
<line x1="495.27" y1="505.4" x2="495.27" y2="506.09999999999997" stroke="#555" stroke-width="0.3"/>
<line x1="496.38" y1="505.4" x2="496.38" y2="506.09999999999997" stroke="#555" stroke-width="0.3"/>
<line x1="497.24" y1="505.4" x2="497.24" y2="506.09999999999997" stroke="#555" stroke-width="0.3"/>
<line x1="497.94" y1="505.4" x2="497.94" y2="506.09999999999997" stroke="#555" stroke-width="0.3"/>
<line x1="498.53" y1="505.4" x2="498.53" y2="506.09999999999997" stroke="#555" stroke-width="0.3"/>
<line x1="499.04" y1="505.4" x2="499.04" y2="506.09999999999997" stroke="#555" stroke-width="0.3"/>
<line x1="499.50" y1="505.4" x2="499.50" y2="506.09999999999997" stroke="#555" stroke-width="0.3"/>
<line x1="502.56" y1="505.4" x2="502.56" y2="506.09999999999997" stroke="#555" stroke-width="0.3"/>
<line x1="504.12" y1="505.4" x2="504.12" y2="506.09999999999997" stroke="#555" stroke-width="0.3"/>
<line x1="505.23" y1="505.4" x2="505.23" y2="506.09999999999997" stroke="#555" stroke-width="0.3"/>
<line x1="506.09" y1="505.4" x2="506.09" y2="506.09999999999997" stroke="#555" stroke-width="0.3"/>
<line x1="506.79" y1="505.4" x2="506.79" y2="506.09999999999997" stroke="#555" stroke-width="0.3"/>
<line x1="507.38" y1="505.4" x2="507.38" y2="506.09999999999997" stroke="#555" stroke-width="0.3"/>
<line x1="507.89" y1="505.4" x2="507.89" y2="506.09999999999997" stroke="#555" stroke-width="0.3"/>
<line x1="508.35" y1="505.4" x2="508.35" y2="506.09999999999997" stroke="#555" stroke-width="0.3"/>
<path d="M425.3,568.9 L425.8,568.9 L426.3,568.9 L426.8,568.8 L427.3,568.3 L427.8,567.1 L428.3,564.6 L428.8,560.3 L429.3,553.9 L429.8,545.9 L430.3,538.0 L430.8,532.4 L431.3,530.9 L431.8,532.4 L432.3,535.8 L432.8,540.5 L433.3,545.8 L433.8,551.0 L434.3,555.6 L434.8,559.3 L435.3,562.1 L435.8,564.1 L436.3,565.4 L436.8,566.3 L437.3,566.9 L437.8,567.2 L438.3,567.5 L438.8,567.8 L439.3,568.0 L439.8,568.1 L440.3,568.3 L440.8,568.4 L441.3,568.5 L441.8,568.6 L442.3,568.7 L442.8,568.8 L443.3,568.8 L443.8,568.9 L444.3,568.9 L444.8,568.9 L445.3,568.9 L445.8,568.9 L446.3,568.9 L446.8,568.9 L447.3,568.9 L447.8,568.9 L448.3,568.9 L448.8,568.9 L449.3,568.9 L449.8,568.9 L450.3,568.9 L450.8,568.9 L451.3,568.9 L451.8,568.9 L452.3,568.9 L452.8,568.9 L453.3,568.9 L453.8,568.9 L454.3,568.9 L454.8,568.9 L455.3,568.9 L455.8,568.9 L456.3,568.9 L456.8,568.9 L457.3,568.9 L457.8,568.9 L458.3,568.9 L458.8,568.9 L459.3,568.9 L459.8,568.9 L460.3,568.9 L460.8,568.9 L461.3,568.9 L461.8,568.9 L462.3,568.9 L462.8,568.9 L463.3,568.9" fill="none" stroke="#b855c8" stroke-width="0.55"/>
<path d="M425.3,568.9 L425.8,568.9 L426.3,568.9 L426.8,568.8 L427.3,568.2 L427.8,567.0 L428.3,564.6 L428.8,560.6 L429.3,554.8 L429.8,547.5 L430.3,539.9 L430.8,533.8 L431.3,531.0 L431.8,531.4 L432.3,533.5 L432.8,536.8 L433.3,541.0 L433.8,545.6 L434.3,550.2 L434.8,554.3 L435.3,557.8 L435.8,560.7 L436.3,562.8 L436.8,564.4 L437.3,565.5 L437.8,566.2 L438.3,566.8 L438.8,567.1 L439.3,567.4 L439.8,567.6 L440.3,567.8 L440.8,568.0 L441.3,568.1 L441.8,568.3 L442.3,568.4 L442.8,568.5 L443.3,568.6 L443.8,568.7 L444.3,568.7 L444.8,568.8 L445.3,568.8 L445.8,568.9 L446.3,568.9 L446.8,568.9 L447.3,568.9 L447.8,568.9 L448.3,568.9 L448.8,568.9 L449.3,568.9 L449.8,568.9 L450.3,568.9 L450.8,568.9 L451.3,568.9 L451.8,568.9 L452.3,568.9 L452.8,568.9 L453.3,568.9 L453.8,568.9 L454.3,568.9 L454.8,568.9 L455.3,568.9 L455.8,568.9 L456.3,568.9 L456.8,568.9 L457.3,568.9 L457.8,568.9 L458.3,568.9 L458.8,568.9 L459.3,568.9 L459.8,568.9 L460.3,568.9 L460.8,568.9 L461.3,568.9 L461.8,568.9 L462.3,568.9 L462.8,568.9 L463.3,568.9" fill="none" stroke="#80d2d0" stroke-width="0.55"/>
<path d="M425.3,568.9 L425.8,568.9 L426.3,568.9 L426.8,568.8 L427.3,568.3 L427.8,567.3 L428.3,565.2 L428.8,561.5 L429.3,556.1 L429.8,549.0 L430.3,541.4 L430.8,534.8 L431.3,531.2 L431.8,531.2 L432.3,532.8 L432.8,535.7 L433.3,539.5 L433.8,543.8 L434.3,548.2 L434.8,552.4 L435.3,556.1 L435.8,559.2 L436.3,561.6 L436.8,563.4 L437.3,564.8 L437.8,565.7 L438.3,566.4 L438.8,566.8 L439.3,567.2 L439.8,567.4 L440.3,567.6 L440.8,567.8 L441.3,568.0 L441.8,568.1 L442.3,568.2 L442.8,568.4 L443.3,568.5 L443.8,568.6 L444.3,568.6 L444.8,568.7 L445.3,568.8 L445.8,568.8 L446.3,568.9 L446.8,568.9 L447.3,568.9 L447.8,568.9 L448.3,568.9 L448.8,568.9 L449.3,568.9 L449.8,568.9 L450.3,568.9 L450.8,568.9 L451.3,568.9 L451.8,568.9 L452.3,568.9 L452.8,568.9 L453.3,568.9 L453.8,568.9 L454.3,568.9 L454.8,568.9 L455.3,568.9 L455.8,568.9 L456.3,568.9 L456.8,568.9 L457.3,568.9 L457.8,568.9 L458.3,568.9 L458.8,568.9 L459.3,568.9 L459.8,568.9 L460.3,568.9 L460.8,568.9 L461.3,568.9 L461.8,568.9 L462.3,568.9 L462.8,568.9 L463.3,568.9" fill="none" stroke="#7cc65a" stroke-width="0.55"/>
<path d="M425.3,568.9 L425.8,568.9 L426.3,568.9 L426.8,568.7 L427.3,568.0 L427.8,566.6 L428.3,563.9 L428.8,559.6 L429.3,553.4 L429.8,545.9 L430.3,538.5 L430.8,533.0 L431.3,530.9 L431.8,531.6 L432.3,533.8 L432.8,537.1 L433.3,541.2 L433.8,545.6 L434.3,550.0 L434.8,554.0 L435.3,557.4 L435.8,560.2 L436.3,562.4 L436.8,564.0 L437.3,565.2 L437.8,566.0 L438.3,566.6 L438.8,567.0 L439.3,567.3 L439.8,567.5 L440.3,567.7 L440.8,567.9 L441.3,568.0 L441.8,568.2 L442.3,568.3 L442.8,568.4 L443.3,568.5 L443.8,568.6 L444.3,568.7 L444.8,568.7 L445.3,568.8 L445.8,568.8 L446.3,568.9 L446.8,568.9 L447.3,568.9 L447.8,568.9 L448.3,568.9 L448.8,568.9 L449.3,568.9 L449.8,568.9 L450.3,568.9 L450.8,568.9 L451.3,568.9 L451.8,568.9 L452.3,568.9 L452.8,568.9 L453.3,568.9 L453.8,568.9 L454.3,568.9 L454.8,568.9 L455.3,568.9 L455.8,568.9 L456.3,568.9 L456.8,568.9 L457.3,568.9 L457.8,568.9 L458.3,568.9 L458.8,568.9 L459.3,568.9 L459.8,568.9 L460.3,568.9 L460.8,568.9 L461.3,568.9 L461.8,568.9 L462.3,568.9 L462.8,568.9 L463.3,568.9" fill="none" stroke="#6a50c0" stroke-width="0.55"/>
<path d="M425.3,568.9 L425.8,568.9 L426.3,568.9 L426.8,568.9 L427.3,568.6 L427.8,567.8 L428.3,566.2 L428.8,563.2 L429.3,558.5 L429.8,552.0 L430.3,544.4 L430.8,537.2 L431.3,532.2 L431.8,530.9 L432.3,532.0 L432.8,534.4 L433.3,537.9 L433.8,542.0 L434.3,546.5 L434.8,550.8 L435.3,554.7 L435.8,558.0 L436.3,560.7 L436.8,562.8 L437.3,564.3 L437.8,565.4 L438.3,566.1 L438.8,566.7 L439.3,567.1 L439.8,567.3 L440.3,567.6 L440.8,567.8 L441.3,567.9 L441.8,568.1 L442.3,568.2 L442.8,568.3 L443.3,568.4 L443.8,568.5 L444.3,568.6 L444.8,568.7 L445.3,568.7 L445.8,568.8 L446.3,568.9 L446.8,568.9 L447.3,568.9 L447.8,568.9 L448.3,568.9 L448.8,568.9 L449.3,568.9 L449.8,568.9 L450.3,568.9 L450.8,568.9 L451.3,568.9 L451.8,568.9 L452.3,568.9 L452.8,568.9 L453.3,568.9 L453.8,568.9 L454.3,568.9 L454.8,568.9 L455.3,568.9 L455.8,568.9 L456.3,568.9 L456.8,568.9 L457.3,568.9 L457.8,568.9 L458.3,568.9 L458.8,568.9 L459.3,568.9 L459.8,568.9 L460.3,568.9 L460.8,568.9 L461.3,568.9 L461.8,568.9 L462.3,568.9 L462.8,568.9 L463.3,568.9" fill="none" stroke="#f59a45" stroke-width="0.55"/>
<path d="M425.3,568.9 L425.8,568.9 L426.3,568.9 L426.8,568.9 L427.3,568.5 L427.8,567.6 L428.3,565.7 L428.8,562.2 L429.3,556.8 L429.8,549.5 L430.3,541.4 L430.8,534.4 L431.3,530.5 L431.8,530.4 L432.3,532.4 L432.8,535.8 L433.3,540.3 L433.8,545.2 L434.3,550.0 L434.8,554.4 L435.3,558.1 L435.8,561.0 L436.3,563.1 L436.8,564.6 L437.3,565.7 L437.8,566.4 L438.3,566.9 L438.8,567.2 L439.3,567.5 L439.8,567.7 L440.3,567.9 L440.8,568.1 L441.3,568.2 L441.8,568.3 L442.3,568.4 L442.8,568.5 L443.3,568.6 L443.8,568.7 L444.3,568.8 L444.8,568.8 L445.3,568.9 L445.8,568.9 L446.3,568.9 L446.8,568.9 L447.3,568.9 L447.8,568.9 L448.3,568.9 L448.8,568.9 L449.3,568.9 L449.8,568.9 L450.3,568.9 L450.8,568.9 L451.3,568.9 L451.8,568.9 L452.3,568.9 L452.8,568.9 L453.3,568.9 L453.8,568.9 L454.3,568.9 L454.8,568.9 L455.3,568.9 L455.8,568.9 L456.3,568.9 L456.8,568.9 L457.3,568.9 L457.8,568.9 L458.3,568.9 L458.8,568.9 L459.3,568.9 L459.8,568.9 L460.3,568.9 L460.8,568.9 L461.3,568.9 L461.8,568.9 L462.3,568.9 L462.8,568.9 L463.3,568.9" fill="none" stroke="#e2505e" stroke-width="0.55"/>
<rect x="424.3" y="527.5" width="40.0" height="42.0" fill="none" stroke="#6a6a6a" stroke-width="0.7"/>
<line x1="423.0" y1="569.10" x2="424.3" y2="569.10" stroke="#444" stroke-width="0.5"/>
<text x="422.70" y="570.40" font-size="3.7" text-anchor="end" fill="#333">0</text>
<line x1="423.0" y1="561.14" x2="424.3" y2="561.14" stroke="#444" stroke-width="0.5"/>
<text x="422.70" y="562.44" font-size="3.7" text-anchor="end" fill="#333">20</text>
<line x1="423.0" y1="553.18" x2="424.3" y2="553.18" stroke="#444" stroke-width="0.5"/>
<text x="422.70" y="554.48" font-size="3.7" text-anchor="end" fill="#333">40</text>
<line x1="423.0" y1="545.22" x2="424.3" y2="545.22" stroke="#444" stroke-width="0.5"/>
<text x="422.70" y="546.52" font-size="3.7" text-anchor="end" fill="#333">60</text>
<line x1="423.0" y1="537.26" x2="424.3" y2="537.26" stroke="#444" stroke-width="0.5"/>
<text x="422.70" y="538.56" font-size="3.7" text-anchor="end" fill="#333">80</text>
<line x1="423.0" y1="529.30" x2="424.3" y2="529.30" stroke="#444" stroke-width="0.5"/>
<text x="422.70" y="530.60" font-size="3.7" text-anchor="end" fill="#333">100</text>
<text x="428.00" y="574.70" font-size="3.7" text-anchor="middle" fill="#333">0</text>
<text x="433.20" y="574.70" font-size="3.7" text-anchor="middle" fill="#333">10<tspan font-size="2.6" dy="-1.4">2</tspan></text>
<line x1="432.70" y1="569.5" x2="432.70" y2="570.6" stroke="#444" stroke-width="0.45"/>
<text x="442.05" y="574.70" font-size="3.7" text-anchor="middle" fill="#333">10<tspan font-size="2.6" dy="-1.4">3</tspan></text>
<line x1="441.55" y1="569.5" x2="441.55" y2="570.6" stroke="#444" stroke-width="0.45"/>
<text x="450.90" y="574.70" font-size="3.7" text-anchor="middle" fill="#333">10<tspan font-size="2.6" dy="-1.4">4</tspan></text>
<line x1="450.40" y1="569.5" x2="450.40" y2="570.6" stroke="#444" stroke-width="0.45"/>
<text x="459.75" y="574.70" font-size="3.7" text-anchor="middle" fill="#333">10<tspan font-size="2.6" dy="-1.4">5</tspan></text>
<line x1="459.25" y1="569.5" x2="459.25" y2="570.6" stroke="#444" stroke-width="0.45"/>
<line x1="435.36" y1="569.5" x2="435.36" y2="570.2" stroke="#555" stroke-width="0.3"/>
<line x1="436.92" y1="569.5" x2="436.92" y2="570.2" stroke="#555" stroke-width="0.3"/>
<line x1="438.03" y1="569.5" x2="438.03" y2="570.2" stroke="#555" stroke-width="0.3"/>
<line x1="438.89" y1="569.5" x2="438.89" y2="570.2" stroke="#555" stroke-width="0.3"/>
<line x1="439.59" y1="569.5" x2="439.59" y2="570.2" stroke="#555" stroke-width="0.3"/>
<line x1="440.18" y1="569.5" x2="440.18" y2="570.2" stroke="#555" stroke-width="0.3"/>
<line x1="440.69" y1="569.5" x2="440.69" y2="570.2" stroke="#555" stroke-width="0.3"/>
<line x1="441.15" y1="569.5" x2="441.15" y2="570.2" stroke="#555" stroke-width="0.3"/>
<line x1="444.21" y1="569.5" x2="444.21" y2="570.2" stroke="#555" stroke-width="0.3"/>
<line x1="445.77" y1="569.5" x2="445.77" y2="570.2" stroke="#555" stroke-width="0.3"/>
<line x1="446.88" y1="569.5" x2="446.88" y2="570.2" stroke="#555" stroke-width="0.3"/>
<line x1="447.74" y1="569.5" x2="447.74" y2="570.2" stroke="#555" stroke-width="0.3"/>
<line x1="448.44" y1="569.5" x2="448.44" y2="570.2" stroke="#555" stroke-width="0.3"/>
<line x1="449.03" y1="569.5" x2="449.03" y2="570.2" stroke="#555" stroke-width="0.3"/>
<line x1="449.54" y1="569.5" x2="449.54" y2="570.2" stroke="#555" stroke-width="0.3"/>
<line x1="450.00" y1="569.5" x2="450.00" y2="570.2" stroke="#555" stroke-width="0.3"/>
<line x1="453.06" y1="569.5" x2="453.06" y2="570.2" stroke="#555" stroke-width="0.3"/>
<line x1="454.62" y1="569.5" x2="454.62" y2="570.2" stroke="#555" stroke-width="0.3"/>
<line x1="455.73" y1="569.5" x2="455.73" y2="570.2" stroke="#555" stroke-width="0.3"/>
<line x1="456.59" y1="569.5" x2="456.59" y2="570.2" stroke="#555" stroke-width="0.3"/>
<line x1="457.29" y1="569.5" x2="457.29" y2="570.2" stroke="#555" stroke-width="0.3"/>
<line x1="457.88" y1="569.5" x2="457.88" y2="570.2" stroke="#555" stroke-width="0.3"/>
<line x1="458.39" y1="569.5" x2="458.39" y2="570.2" stroke="#555" stroke-width="0.3"/>
<line x1="458.85" y1="569.5" x2="458.85" y2="570.2" stroke="#555" stroke-width="0.3"/>
<path d="M474.8,568.9 L475.3,568.9 L475.8,568.9 L476.3,568.9 L476.8,568.5 L477.3,567.4 L477.8,565.3 L478.3,561.3 L478.8,555.3 L479.3,547.6 L479.8,539.5 L480.3,533.3 L480.8,530.9 L481.3,532.0 L481.8,535.0 L482.3,539.5 L482.8,544.7 L483.3,550.0 L483.8,554.7 L484.3,558.6 L484.8,561.6 L485.3,563.7 L485.8,565.2 L486.3,566.1 L486.8,566.8 L487.3,567.2 L487.8,567.5 L488.3,567.7 L488.8,567.9 L489.3,568.1 L489.8,568.2 L490.3,568.4 L490.8,568.5 L491.3,568.6 L491.8,568.7 L492.3,568.8 L492.8,568.8 L493.3,568.9 L493.8,568.9 L494.3,568.9 L494.8,568.9 L495.3,568.9 L495.8,568.9 L496.3,568.9 L496.8,568.9 L497.3,568.9 L497.8,568.9 L498.3,568.9 L498.8,568.9 L499.3,568.9 L499.8,568.9 L500.3,568.9 L500.8,568.9 L501.3,568.9 L501.8,568.9 L502.3,568.9 L502.8,568.9 L503.3,568.9 L503.8,568.9 L504.3,568.9 L504.8,568.9 L505.3,568.9 L505.8,568.9 L506.3,568.9 L506.8,568.9 L507.3,568.9 L507.8,568.9 L508.3,568.9 L508.8,568.9 L509.3,568.9 L509.8,568.9 L510.3,568.9 L510.8,568.9 L511.3,568.9 L511.8,568.9 L512.3,568.9 L512.8,568.9" fill="none" stroke="#b855c8" stroke-width="0.55"/>
<path d="M474.8,568.9 L475.3,568.9 L475.8,568.9 L476.3,568.8 L476.8,568.3 L477.3,567.3 L477.8,565.2 L478.3,561.5 L478.8,556.1 L479.3,549.0 L479.8,541.4 L480.3,534.8 L480.8,531.2 L481.3,531.2 L481.8,532.9 L482.3,536.1 L482.8,540.1 L483.3,544.7 L483.8,549.3 L484.3,553.5 L484.8,557.2 L485.3,560.2 L485.8,562.4 L486.3,564.1 L486.8,565.3 L487.3,566.1 L487.8,566.7 L488.3,567.1 L488.8,567.4 L489.3,567.6 L489.8,567.8 L490.3,568.0 L490.8,568.1 L491.3,568.2 L491.8,568.4 L492.3,568.5 L492.8,568.6 L493.3,568.6 L493.8,568.7 L494.3,568.8 L494.8,568.8 L495.3,568.9 L495.8,568.9 L496.3,568.9 L496.8,568.9 L497.3,568.9 L497.8,568.9 L498.3,568.9 L498.8,568.9 L499.3,568.9 L499.8,568.9 L500.3,568.9 L500.8,568.9 L501.3,568.9 L501.8,568.9 L502.3,568.9 L502.8,568.9 L503.3,568.9 L503.8,568.9 L504.3,568.9 L504.8,568.9 L505.3,568.9 L505.8,568.9 L506.3,568.9 L506.8,568.9 L507.3,568.9 L507.8,568.9 L508.3,568.9 L508.8,568.9 L509.3,568.9 L509.8,568.9 L510.3,568.9 L510.8,568.9 L511.3,568.9 L511.8,568.9 L512.3,568.9 L512.8,568.9" fill="none" stroke="#80d2d0" stroke-width="0.55"/>
<path d="M474.8,568.9 L475.3,568.9 L475.8,568.9 L476.3,568.9 L476.8,568.5 L477.3,567.6 L477.8,565.7 L478.3,562.4 L478.8,557.3 L479.3,550.5 L479.8,542.9 L480.3,536.0 L480.8,531.6 L481.3,531.0 L481.8,532.3 L482.3,535.0 L482.8,538.7 L483.3,542.9 L483.8,547.4 L484.3,551.6 L484.8,555.4 L485.3,558.6 L485.8,561.2 L486.3,563.1 L486.8,564.5 L487.3,565.5 L487.8,566.3 L488.3,566.8 L488.8,567.1 L489.3,567.4 L489.8,567.6 L490.3,567.8 L490.8,567.9 L491.3,568.1 L491.8,568.2 L492.3,568.3 L492.8,568.4 L493.3,568.5 L493.8,568.6 L494.3,568.7 L494.8,568.8 L495.3,568.8 L495.8,568.9 L496.3,568.9 L496.8,568.9 L497.3,568.9 L497.8,568.9 L498.3,568.9 L498.8,568.9 L499.3,568.9 L499.8,568.9 L500.3,568.9 L500.8,568.9 L501.3,568.9 L501.8,568.9 L502.3,568.9 L502.8,568.9 L503.3,568.9 L503.8,568.9 L504.3,568.9 L504.8,568.9 L505.3,568.9 L505.8,568.9 L506.3,568.9 L506.8,568.9 L507.3,568.9 L507.8,568.9 L508.3,568.9 L508.8,568.9 L509.3,568.9 L509.8,568.9 L510.3,568.9 L510.8,568.9 L511.3,568.9 L511.8,568.9 L512.3,568.9 L512.8,568.9" fill="none" stroke="#7cc65a" stroke-width="0.55"/>
<path d="M474.8,568.9 L475.3,568.9 L475.8,568.9 L476.3,568.8 L476.8,568.2 L477.3,567.0 L477.8,564.6 L478.3,560.6 L478.8,554.8 L479.3,547.5 L479.8,539.9 L480.3,533.8 L480.8,531.0 L481.3,531.4 L481.8,533.3 L482.3,536.4 L482.8,540.3 L483.3,544.7 L483.8,549.1 L484.3,553.2 L484.8,556.8 L485.3,559.7 L485.8,562.0 L486.3,563.7 L486.8,565.0 L487.3,565.9 L487.8,566.5 L488.3,566.9 L488.8,567.2 L489.3,567.5 L489.8,567.7 L490.3,567.9 L490.8,568.0 L491.3,568.1 L491.8,568.3 L492.3,568.4 L492.8,568.5 L493.3,568.6 L493.8,568.6 L494.3,568.7 L494.8,568.8 L495.3,568.8 L495.8,568.9 L496.3,568.9 L496.8,568.9 L497.3,568.9 L497.8,568.9 L498.3,568.9 L498.8,568.9 L499.3,568.9 L499.8,568.9 L500.3,568.9 L500.8,568.9 L501.3,568.9 L501.8,568.9 L502.3,568.9 L502.8,568.9 L503.3,568.9 L503.8,568.9 L504.3,568.9 L504.8,568.9 L505.3,568.9 L505.8,568.9 L506.3,568.9 L506.8,568.9 L507.3,568.9 L507.8,568.9 L508.3,568.9 L508.8,568.9 L509.3,568.9 L509.8,568.9 L510.3,568.9 L510.8,568.9 L511.3,568.9 L511.8,568.9 L512.3,568.9 L512.8,568.9" fill="none" stroke="#6a50c0" stroke-width="0.55"/>
<path d="M474.8,568.9 L475.3,568.9 L475.8,568.9 L476.3,568.9 L476.8,568.7 L477.3,568.0 L477.8,566.6 L478.3,563.9 L478.8,559.6 L479.3,553.4 L479.8,545.9 L480.3,538.5 L480.8,533.0 L481.3,530.9 L481.8,531.6 L482.3,533.8 L482.8,537.1 L483.3,541.2 L483.8,545.6 L484.3,550.0 L484.8,554.0 L485.3,557.4 L485.8,560.2 L486.3,562.4 L486.8,564.0 L487.3,565.2 L487.8,566.0 L488.3,566.6 L488.8,567.0 L489.3,567.3 L489.8,567.5 L490.3,567.7 L490.8,567.9 L491.3,568.0 L491.8,568.2 L492.3,568.3 L492.8,568.4 L493.3,568.5 L493.8,568.6 L494.3,568.7 L494.8,568.7 L495.3,568.8 L495.8,568.8 L496.3,568.9 L496.8,568.9 L497.3,568.9 L497.8,568.9 L498.3,568.9 L498.8,568.9 L499.3,568.9 L499.8,568.9 L500.3,568.9 L500.8,568.9 L501.3,568.9 L501.8,568.9 L502.3,568.9 L502.8,568.9 L503.3,568.9 L503.8,568.9 L504.3,568.9 L504.8,568.9 L505.3,568.9 L505.8,568.9 L506.3,568.9 L506.8,568.9 L507.3,568.9 L507.8,568.9 L508.3,568.9 L508.8,568.9 L509.3,568.9 L509.8,568.9 L510.3,568.9 L510.8,568.9 L511.3,568.9 L511.8,568.9 L512.3,568.9 L512.8,568.9" fill="none" stroke="#f59a45" stroke-width="0.55"/>
<path d="M474.8,568.9 L475.3,568.9 L475.8,568.9 L476.3,568.9 L476.8,568.6 L477.3,567.8 L477.8,566.2 L478.3,563.1 L478.8,558.0 L479.3,551.0 L479.8,543.0 L480.3,535.6 L480.8,530.9 L481.3,530.2 L481.8,531.9 L482.3,535.0 L482.8,539.3 L483.3,544.2 L483.8,549.1 L484.3,553.6 L484.8,557.4 L485.3,560.4 L485.8,562.7 L486.3,564.4 L486.8,565.5 L487.3,566.3 L487.8,566.8 L488.3,567.2 L488.8,567.4 L489.3,567.7 L489.8,567.9 L490.3,568.0 L490.8,568.2 L491.3,568.3 L491.8,568.4 L492.3,568.5 L492.8,568.6 L493.3,568.7 L493.8,568.8 L494.3,568.8 L494.8,568.9 L495.3,568.9 L495.8,568.9 L496.3,568.9 L496.8,568.9 L497.3,568.9 L497.8,568.9 L498.3,568.9 L498.8,568.9 L499.3,568.9 L499.8,568.9 L500.3,568.9 L500.8,568.9 L501.3,568.9 L501.8,568.9 L502.3,568.9 L502.8,568.9 L503.3,568.9 L503.8,568.9 L504.3,568.9 L504.8,568.9 L505.3,568.9 L505.8,568.9 L506.3,568.9 L506.8,568.9 L507.3,568.9 L507.8,568.9 L508.3,568.9 L508.8,568.9 L509.3,568.9 L509.8,568.9 L510.3,568.9 L510.8,568.9 L511.3,568.9 L511.8,568.9 L512.3,568.9 L512.8,568.9" fill="none" stroke="#e2505e" stroke-width="0.55"/>
<rect x="473.8" y="527.5" width="40.0" height="42.0" fill="none" stroke="#6a6a6a" stroke-width="0.7"/>
<line x1="472.5" y1="569.10" x2="473.8" y2="569.10" stroke="#444" stroke-width="0.5"/>
<text x="472.20" y="570.40" font-size="3.7" text-anchor="end" fill="#333">0</text>
<line x1="472.5" y1="561.14" x2="473.8" y2="561.14" stroke="#444" stroke-width="0.5"/>
<text x="472.20" y="562.44" font-size="3.7" text-anchor="end" fill="#333">20</text>
<line x1="472.5" y1="553.18" x2="473.8" y2="553.18" stroke="#444" stroke-width="0.5"/>
<text x="472.20" y="554.48" font-size="3.7" text-anchor="end" fill="#333">40</text>
<line x1="472.5" y1="545.22" x2="473.8" y2="545.22" stroke="#444" stroke-width="0.5"/>
<text x="472.20" y="546.52" font-size="3.7" text-anchor="end" fill="#333">60</text>
<line x1="472.5" y1="537.26" x2="473.8" y2="537.26" stroke="#444" stroke-width="0.5"/>
<text x="472.20" y="538.56" font-size="3.7" text-anchor="end" fill="#333">80</text>
<line x1="472.5" y1="529.30" x2="473.8" y2="529.30" stroke="#444" stroke-width="0.5"/>
<text x="472.20" y="530.60" font-size="3.7" text-anchor="end" fill="#333">100</text>
<text x="477.50" y="574.70" font-size="3.7" text-anchor="middle" fill="#333">0</text>
<text x="482.70" y="574.70" font-size="3.7" text-anchor="middle" fill="#333">10<tspan font-size="2.6" dy="-1.4">2</tspan></text>
<line x1="482.20" y1="569.5" x2="482.20" y2="570.6" stroke="#444" stroke-width="0.45"/>
<text x="491.55" y="574.70" font-size="3.7" text-anchor="middle" fill="#333">10<tspan font-size="2.6" dy="-1.4">3</tspan></text>
<line x1="491.05" y1="569.5" x2="491.05" y2="570.6" stroke="#444" stroke-width="0.45"/>
<text x="500.40" y="574.70" font-size="3.7" text-anchor="middle" fill="#333">10<tspan font-size="2.6" dy="-1.4">4</tspan></text>
<line x1="499.90" y1="569.5" x2="499.90" y2="570.6" stroke="#444" stroke-width="0.45"/>
<text x="509.25" y="574.70" font-size="3.7" text-anchor="middle" fill="#333">10<tspan font-size="2.6" dy="-1.4">5</tspan></text>
<line x1="508.75" y1="569.5" x2="508.75" y2="570.6" stroke="#444" stroke-width="0.45"/>
<line x1="484.86" y1="569.5" x2="484.86" y2="570.2" stroke="#555" stroke-width="0.3"/>
<line x1="486.42" y1="569.5" x2="486.42" y2="570.2" stroke="#555" stroke-width="0.3"/>
<line x1="487.53" y1="569.5" x2="487.53" y2="570.2" stroke="#555" stroke-width="0.3"/>
<line x1="488.39" y1="569.5" x2="488.39" y2="570.2" stroke="#555" stroke-width="0.3"/>
<line x1="489.09" y1="569.5" x2="489.09" y2="570.2" stroke="#555" stroke-width="0.3"/>
<line x1="489.68" y1="569.5" x2="489.68" y2="570.2" stroke="#555" stroke-width="0.3"/>
<line x1="490.19" y1="569.5" x2="490.19" y2="570.2" stroke="#555" stroke-width="0.3"/>
<line x1="490.65" y1="569.5" x2="490.65" y2="570.2" stroke="#555" stroke-width="0.3"/>
<line x1="493.71" y1="569.5" x2="493.71" y2="570.2" stroke="#555" stroke-width="0.3"/>
<line x1="495.27" y1="569.5" x2="495.27" y2="570.2" stroke="#555" stroke-width="0.3"/>
<line x1="496.38" y1="569.5" x2="496.38" y2="570.2" stroke="#555" stroke-width="0.3"/>
<line x1="497.24" y1="569.5" x2="497.24" y2="570.2" stroke="#555" stroke-width="0.3"/>
<line x1="497.94" y1="569.5" x2="497.94" y2="570.2" stroke="#555" stroke-width="0.3"/>
<line x1="498.53" y1="569.5" x2="498.53" y2="570.2" stroke="#555" stroke-width="0.3"/>
<line x1="499.04" y1="569.5" x2="499.04" y2="570.2" stroke="#555" stroke-width="0.3"/>
<line x1="499.50" y1="569.5" x2="499.50" y2="570.2" stroke="#555" stroke-width="0.3"/>
<line x1="502.56" y1="569.5" x2="502.56" y2="570.2" stroke="#555" stroke-width="0.3"/>
<line x1="504.12" y1="569.5" x2="504.12" y2="570.2" stroke="#555" stroke-width="0.3"/>
<line x1="505.23" y1="569.5" x2="505.23" y2="570.2" stroke="#555" stroke-width="0.3"/>
<line x1="506.09" y1="569.5" x2="506.09" y2="570.2" stroke="#555" stroke-width="0.3"/>
<line x1="506.79" y1="569.5" x2="506.79" y2="570.2" stroke="#555" stroke-width="0.3"/>
<line x1="507.38" y1="569.5" x2="507.38" y2="570.2" stroke="#555" stroke-width="0.3"/>
<line x1="507.89" y1="569.5" x2="507.89" y2="570.2" stroke="#555" stroke-width="0.3"/>
<line x1="508.35" y1="569.5" x2="508.35" y2="570.2" stroke="#555" stroke-width="0.3"/>
<path d="M425.3,631.9 L425.8,631.9 L426.3,631.9 L426.8,631.9 L427.3,631.9 L427.8,631.9 L428.3,631.9 L428.8,631.5 L429.3,630.8 L429.8,629.4 L430.3,627.0 L430.8,623.4 L431.3,618.3 L431.8,612.1 L432.3,605.4 L432.8,599.6 L433.3,595.7 L433.8,594.7 L434.3,595.6 L434.8,597.6 L435.3,600.6 L435.8,604.2 L436.3,608.2 L436.8,612.2 L437.3,615.9 L437.8,619.3 L438.3,622.1 L438.8,624.4 L439.3,626.1 L439.8,627.5 L440.3,628.4 L440.8,629.1 L441.3,629.6 L441.8,630.0 L442.3,630.3 L442.8,630.5 L443.3,630.7 L443.8,630.9 L444.3,631.0 L444.8,631.1 L445.3,631.2 L445.8,631.3 L446.3,631.4 L446.8,631.5 L447.3,631.6 L447.8,631.7 L448.3,631.7 L448.8,631.8 L449.3,631.8 L449.8,631.9 L450.3,631.9 L450.8,631.9 L451.3,631.9 L451.8,631.9 L452.3,631.9 L452.8,631.9 L453.3,631.9 L453.8,631.9 L454.3,631.9 L454.8,631.9 L455.3,631.9 L455.8,631.9 L456.3,631.9 L456.8,631.9 L457.3,631.9 L457.8,631.9 L458.3,631.9 L458.8,631.9 L459.3,631.9 L459.8,631.9 L460.3,631.9 L460.8,631.9 L461.3,631.9 L461.8,631.9 L462.3,631.9 L462.8,631.9 L463.3,631.9" fill="none" stroke="#80d2d0" stroke-width="0.55"/>
<path d="M425.3,631.9 L425.8,631.9 L426.3,631.9 L426.8,631.9 L427.3,631.9 L427.8,631.9 L428.3,631.9 L428.8,631.8 L429.3,631.4 L429.8,630.6 L430.3,629.0 L430.8,626.4 L431.3,622.5 L431.8,617.1 L432.3,610.7 L432.8,604.2 L433.3,598.6 L433.8,595.3 L434.3,594.8 L434.8,595.7 L435.3,597.5 L435.8,600.1 L436.3,603.3 L436.8,606.8 L437.3,610.4 L437.8,613.9 L438.3,617.1 L438.8,620.0 L439.3,622.4 L439.8,624.4 L440.3,626.0 L440.8,627.2 L441.3,628.2 L441.8,628.9 L442.3,629.4 L442.8,629.8 L443.3,630.1 L443.8,630.3 L444.3,630.5 L444.8,630.7 L445.3,630.8 L445.8,631.0 L446.3,631.1 L446.8,631.2 L447.3,631.3 L447.8,631.4 L448.3,631.5 L448.8,631.5 L449.3,631.6 L449.8,631.7 L450.3,631.7 L450.8,631.8 L451.3,631.8 L451.8,631.9 L452.3,631.9 L452.8,631.9 L453.3,631.9 L453.8,631.9 L454.3,631.9 L454.8,631.9 L455.3,631.9 L455.8,631.9 L456.3,631.9 L456.8,631.9 L457.3,631.9 L457.8,631.9 L458.3,631.9 L458.8,631.9 L459.3,631.9 L459.8,631.9 L460.3,631.9 L460.8,631.9 L461.3,631.9 L461.8,631.9 L462.3,631.9 L462.8,631.9 L463.3,631.9" fill="none" stroke="#7cc65a" stroke-width="0.55"/>
<path d="M425.3,631.9 L425.8,631.9 L426.3,631.9 L426.8,631.9 L427.3,631.9 L427.8,631.9 L428.3,631.6 L428.8,631.0 L429.3,629.9 L429.8,627.9 L430.3,624.7 L430.8,620.2 L431.3,614.6 L431.8,608.4 L432.3,602.6 L432.8,598.6 L433.3,597.1 L433.8,597.8 L434.3,599.7 L434.8,602.8 L435.3,606.5 L435.8,610.5 L436.3,614.5 L436.8,618.2 L437.3,621.4 L437.8,624.0 L438.3,626.0 L438.8,627.4 L439.3,628.5 L439.8,629.3 L440.3,629.8 L440.8,630.2 L441.3,630.4 L441.8,630.7 L442.3,630.8 L442.8,631.0 L443.3,631.1 L443.8,631.2 L444.3,631.4 L444.8,631.5 L445.3,631.5 L445.8,631.6 L446.3,631.7 L446.8,631.8 L447.3,631.8 L447.8,631.9 L448.3,631.9 L448.8,631.9 L449.3,631.9 L449.8,631.9 L450.3,631.9 L450.8,631.9 L451.3,631.9 L451.8,631.9 L452.3,631.9 L452.8,631.9 L453.3,631.9 L453.8,631.9 L454.3,631.9 L454.8,631.9 L455.3,631.9 L455.8,631.9 L456.3,631.9 L456.8,631.9 L457.3,631.9 L457.8,631.9 L458.3,631.9 L458.8,631.9 L459.3,631.9 L459.8,631.9 L460.3,631.9 L460.8,631.9 L461.3,631.9 L461.8,631.9 L462.3,631.9 L462.8,631.9 L463.3,631.9" fill="none" stroke="#e2505e" stroke-width="0.55"/>
<path d="M425.3,631.9 L425.8,631.9 L426.3,631.9 L426.8,631.9 L427.3,631.9 L427.8,631.9 L428.3,631.9 L428.8,631.9 L429.3,631.8 L429.8,631.4 L430.3,630.6 L430.8,629.2 L431.3,626.9 L431.8,623.3 L432.3,618.5 L432.8,612.6 L433.3,606.1 L433.8,600.1 L434.3,595.6 L434.8,593.6 L435.3,593.7 L435.8,594.7 L436.3,596.4 L436.8,598.6 L437.3,601.3 L437.8,604.3 L438.3,607.4 L438.8,610.6 L439.3,613.6 L439.8,616.5 L440.3,619.1 L440.8,621.3 L441.3,623.2 L441.8,624.8 L442.3,626.1 L442.8,627.2 L443.3,628.0 L443.8,628.6 L444.3,629.1 L444.8,629.5 L445.3,629.8 L445.8,630.1 L446.3,630.3 L446.8,630.5 L447.3,630.6 L447.8,630.7 L448.3,630.9 L448.8,631.0 L449.3,631.1 L449.8,631.2 L450.3,631.3 L450.8,631.3 L451.3,631.4 L451.8,631.5 L452.3,631.5 L452.8,631.6 L453.3,631.7 L453.8,631.7 L454.3,631.8 L454.8,631.8 L455.3,631.8 L455.8,631.9 L456.3,631.9 L456.8,631.9 L457.3,631.9 L457.8,631.9 L458.3,631.9 L458.8,631.9 L459.3,631.9 L459.8,631.9 L460.3,631.9 L460.8,631.9 L461.3,631.9 L461.8,631.9 L462.3,631.9 L462.8,631.9 L463.3,631.9" fill="none" stroke="#f59a45" stroke-width="0.55"/>
<path d="M425.3,631.9 L425.8,631.9 L426.3,631.9 L426.8,631.9 L427.3,631.9 L427.8,631.9 L428.3,631.5 L428.8,630.7 L429.3,629.2 L429.8,626.5 L430.3,622.3 L430.8,616.6 L431.3,609.9 L431.8,603.2 L432.3,598.0 L432.8,595.6 L433.3,596.1 L433.8,598.7 L434.3,602.8 L434.8,607.7 L435.3,612.8 L435.8,617.4 L436.3,621.4 L436.8,624.4 L437.3,626.6 L437.8,628.1 L438.3,629.1 L438.8,629.8 L439.3,630.2 L439.8,630.5 L440.3,630.7 L440.8,630.9 L441.3,631.1 L441.8,631.3 L442.3,631.4 L442.8,631.5 L443.3,631.6 L443.8,631.7 L444.3,631.8 L444.8,631.8 L445.3,631.9 L445.8,631.9 L446.3,631.9 L446.8,631.9 L447.3,631.9 L447.8,631.9 L448.3,631.9 L448.8,631.9 L449.3,631.9 L449.8,631.9 L450.3,631.9 L450.8,631.9 L451.3,631.9 L451.8,631.9 L452.3,631.9 L452.8,631.9 L453.3,631.9 L453.8,631.9 L454.3,631.9 L454.8,631.9 L455.3,631.9 L455.8,631.9 L456.3,631.9 L456.8,631.9 L457.3,631.9 L457.8,631.9 L458.3,631.9 L458.8,631.9 L459.3,631.9 L459.8,631.9 L460.3,631.9 L460.8,631.9 L461.3,631.9 L461.8,631.9 L462.3,631.9 L462.8,631.9 L463.3,631.9" fill="none" stroke="#b855c8" stroke-width="0.55"/>
<path d="M425.3,631.9 L425.8,631.9 L426.3,631.9 L426.8,631.9 L427.3,631.6 L427.8,631.0 L428.3,629.7 L428.8,627.5 L429.3,624.0 L429.8,619.1 L430.3,613.0 L430.8,606.2 L431.3,600.0 L431.8,595.5 L432.3,593.9 L432.8,594.8 L433.3,597.3 L433.8,601.2 L434.3,605.8 L434.8,610.6 L435.3,615.2 L435.8,619.2 L436.3,622.5 L436.8,625.1 L437.3,626.9 L437.8,628.2 L438.3,629.1 L438.8,629.7 L439.3,630.1 L439.8,630.4 L440.3,630.6 L440.8,630.8 L441.3,631.0 L441.8,631.1 L442.3,631.3 L442.8,631.4 L443.3,631.5 L443.8,631.6 L444.3,631.7 L444.8,631.7 L445.3,631.8 L445.8,631.9 L446.3,631.9 L446.8,631.9 L447.3,631.9 L447.8,631.9 L448.3,631.9 L448.8,631.9 L449.3,631.9 L449.8,631.9 L450.3,631.9 L450.8,631.9 L451.3,631.9 L451.8,631.9 L452.3,631.9 L452.8,631.9 L453.3,631.9 L453.8,631.9 L454.3,631.9 L454.8,631.9 L455.3,631.9 L455.8,631.9 L456.3,631.9 L456.8,631.9 L457.3,631.9 L457.8,631.9 L458.3,631.9 L458.8,631.9 L459.3,631.9 L459.8,631.9 L460.3,631.9 L460.8,631.9 L461.3,631.9 L461.8,631.9 L462.3,631.9 L462.8,631.9 L463.3,631.9" fill="none" stroke="#6a50c0" stroke-width="0.55"/>
<rect x="424.3" y="590.5" width="40.0" height="42.0" fill="none" stroke="#6a6a6a" stroke-width="0.7"/>
<line x1="423.0" y1="632.10" x2="424.3" y2="632.10" stroke="#444" stroke-width="0.5"/>
<text x="422.70" y="633.40" font-size="3.7" text-anchor="end" fill="#333">0</text>
<line x1="423.0" y1="624.14" x2="424.3" y2="624.14" stroke="#444" stroke-width="0.5"/>
<text x="422.70" y="625.44" font-size="3.7" text-anchor="end" fill="#333">20</text>
<line x1="423.0" y1="616.18" x2="424.3" y2="616.18" stroke="#444" stroke-width="0.5"/>
<text x="422.70" y="617.48" font-size="3.7" text-anchor="end" fill="#333">40</text>
<line x1="423.0" y1="608.22" x2="424.3" y2="608.22" stroke="#444" stroke-width="0.5"/>
<text x="422.70" y="609.52" font-size="3.7" text-anchor="end" fill="#333">60</text>
<line x1="423.0" y1="600.26" x2="424.3" y2="600.26" stroke="#444" stroke-width="0.5"/>
<text x="422.70" y="601.56" font-size="3.7" text-anchor="end" fill="#333">80</text>
<line x1="423.0" y1="592.30" x2="424.3" y2="592.30" stroke="#444" stroke-width="0.5"/>
<text x="422.70" y="593.60" font-size="3.7" text-anchor="end" fill="#333">100</text>
<text x="428.00" y="637.70" font-size="3.7" text-anchor="middle" fill="#333">0</text>
<text x="433.20" y="637.70" font-size="3.7" text-anchor="middle" fill="#333">10<tspan font-size="2.6" dy="-1.4">2</tspan></text>
<line x1="432.70" y1="632.5" x2="432.70" y2="633.6" stroke="#444" stroke-width="0.45"/>
<text x="442.05" y="637.70" font-size="3.7" text-anchor="middle" fill="#333">10<tspan font-size="2.6" dy="-1.4">3</tspan></text>
<line x1="441.55" y1="632.5" x2="441.55" y2="633.6" stroke="#444" stroke-width="0.45"/>
<text x="450.90" y="637.70" font-size="3.7" text-anchor="middle" fill="#333">10<tspan font-size="2.6" dy="-1.4">4</tspan></text>
<line x1="450.40" y1="632.5" x2="450.40" y2="633.6" stroke="#444" stroke-width="0.45"/>
<text x="459.75" y="637.70" font-size="3.7" text-anchor="middle" fill="#333">10<tspan font-size="2.6" dy="-1.4">5</tspan></text>
<line x1="459.25" y1="632.5" x2="459.25" y2="633.6" stroke="#444" stroke-width="0.45"/>
<line x1="435.36" y1="632.5" x2="435.36" y2="633.2" stroke="#555" stroke-width="0.3"/>
<line x1="436.92" y1="632.5" x2="436.92" y2="633.2" stroke="#555" stroke-width="0.3"/>
<line x1="438.03" y1="632.5" x2="438.03" y2="633.2" stroke="#555" stroke-width="0.3"/>
<line x1="438.89" y1="632.5" x2="438.89" y2="633.2" stroke="#555" stroke-width="0.3"/>
<line x1="439.59" y1="632.5" x2="439.59" y2="633.2" stroke="#555" stroke-width="0.3"/>
<line x1="440.18" y1="632.5" x2="440.18" y2="633.2" stroke="#555" stroke-width="0.3"/>
<line x1="440.69" y1="632.5" x2="440.69" y2="633.2" stroke="#555" stroke-width="0.3"/>
<line x1="441.15" y1="632.5" x2="441.15" y2="633.2" stroke="#555" stroke-width="0.3"/>
<line x1="444.21" y1="632.5" x2="444.21" y2="633.2" stroke="#555" stroke-width="0.3"/>
<line x1="445.77" y1="632.5" x2="445.77" y2="633.2" stroke="#555" stroke-width="0.3"/>
<line x1="446.88" y1="632.5" x2="446.88" y2="633.2" stroke="#555" stroke-width="0.3"/>
<line x1="447.74" y1="632.5" x2="447.74" y2="633.2" stroke="#555" stroke-width="0.3"/>
<line x1="448.44" y1="632.5" x2="448.44" y2="633.2" stroke="#555" stroke-width="0.3"/>
<line x1="449.03" y1="632.5" x2="449.03" y2="633.2" stroke="#555" stroke-width="0.3"/>
<line x1="449.54" y1="632.5" x2="449.54" y2="633.2" stroke="#555" stroke-width="0.3"/>
<line x1="450.00" y1="632.5" x2="450.00" y2="633.2" stroke="#555" stroke-width="0.3"/>
<line x1="453.06" y1="632.5" x2="453.06" y2="633.2" stroke="#555" stroke-width="0.3"/>
<line x1="454.62" y1="632.5" x2="454.62" y2="633.2" stroke="#555" stroke-width="0.3"/>
<line x1="455.73" y1="632.5" x2="455.73" y2="633.2" stroke="#555" stroke-width="0.3"/>
<line x1="456.59" y1="632.5" x2="456.59" y2="633.2" stroke="#555" stroke-width="0.3"/>
<line x1="457.29" y1="632.5" x2="457.29" y2="633.2" stroke="#555" stroke-width="0.3"/>
<line x1="457.88" y1="632.5" x2="457.88" y2="633.2" stroke="#555" stroke-width="0.3"/>
<line x1="458.39" y1="632.5" x2="458.39" y2="633.2" stroke="#555" stroke-width="0.3"/>
<line x1="458.85" y1="632.5" x2="458.85" y2="633.2" stroke="#555" stroke-width="0.3"/>
<path d="M474.8,631.9 L475.3,631.9 L475.8,631.9 L476.3,631.9 L476.8,631.9 L477.3,631.9 L477.8,631.8 L478.3,631.4 L478.8,630.5 L479.3,628.7 L479.8,625.6 L480.3,621.1 L480.8,615.0 L481.3,608.0 L481.8,601.3 L482.3,596.5 L482.8,594.7 L483.3,595.4 L483.8,597.5 L484.3,600.8 L484.8,604.8 L485.3,609.1 L485.8,613.4 L486.3,617.3 L486.8,620.7 L487.3,623.4 L487.8,625.5 L488.3,627.1 L488.8,628.3 L489.3,629.1 L489.8,629.6 L490.3,630.0 L490.8,630.3 L491.3,630.6 L491.8,630.7 L492.3,630.9 L492.8,631.1 L493.3,631.2 L493.8,631.3 L494.3,631.4 L494.8,631.5 L495.3,631.6 L495.8,631.7 L496.3,631.7 L496.8,631.8 L497.3,631.8 L497.8,631.9 L498.3,631.9 L498.8,631.9 L499.3,631.9 L499.8,631.9 L500.3,631.9 L500.8,631.9 L501.3,631.9 L501.8,631.9 L502.3,631.9 L502.8,631.9 L503.3,631.9 L503.8,631.9 L504.3,631.9 L504.8,631.9 L505.3,631.9 L505.8,631.9 L506.3,631.9 L506.8,631.9 L507.3,631.9 L507.8,631.9 L508.3,631.9 L508.8,631.9 L509.3,631.9 L509.8,631.9 L510.3,631.9 L510.8,631.9 L511.3,631.9 L511.8,631.9 L512.3,631.9 L512.8,631.9" fill="none" stroke="#80d2d0" stroke-width="0.55"/>
<path d="M474.8,631.9 L475.3,631.9 L475.8,631.9 L476.3,631.9 L476.8,631.9 L477.3,631.9 L477.8,631.9 L478.3,631.7 L478.8,631.1 L479.3,629.8 L479.8,627.6 L480.3,623.9 L480.8,618.6 L481.3,612.0 L481.8,604.9 L482.3,598.7 L482.8,594.9 L483.3,594.4 L483.8,595.5 L484.3,597.8 L484.8,601.0 L485.3,604.7 L485.8,608.8 L486.3,612.8 L486.8,616.5 L487.3,619.8 L487.8,622.5 L488.3,624.7 L488.8,626.4 L489.3,627.6 L489.8,628.6 L490.3,629.2 L490.8,629.7 L491.3,630.1 L491.8,630.3 L492.3,630.5 L492.8,630.7 L493.3,630.9 L493.8,631.0 L494.3,631.1 L494.8,631.3 L495.3,631.4 L495.8,631.5 L496.3,631.5 L496.8,631.6 L497.3,631.7 L497.8,631.7 L498.3,631.8 L498.8,631.8 L499.3,631.9 L499.8,631.9 L500.3,631.9 L500.8,631.9 L501.3,631.9 L501.8,631.9 L502.3,631.9 L502.8,631.9 L503.3,631.9 L503.8,631.9 L504.3,631.9 L504.8,631.9 L505.3,631.9 L505.8,631.9 L506.3,631.9 L506.8,631.9 L507.3,631.9 L507.8,631.9 L508.3,631.9 L508.8,631.9 L509.3,631.9 L509.8,631.9 L510.3,631.9 L510.8,631.9 L511.3,631.9 L511.8,631.9 L512.3,631.9 L512.8,631.9" fill="none" stroke="#7cc65a" stroke-width="0.55"/>
<path d="M474.8,631.9 L475.3,631.9 L475.8,631.9 L476.3,631.9 L476.8,631.9 L477.3,631.9 L477.8,631.6 L478.3,631.0 L478.8,629.7 L479.3,627.4 L479.8,623.7 L480.3,618.5 L480.8,612.2 L481.3,605.7 L481.8,600.3 L482.3,597.3 L482.8,597.4 L483.3,599.1 L483.8,602.2 L484.3,606.2 L484.8,610.6 L485.3,615.0 L485.8,618.9 L486.3,622.2 L486.8,624.8 L487.3,626.7 L487.8,628.1 L488.3,629.0 L488.8,629.7 L489.3,630.1 L489.8,630.4 L490.3,630.7 L490.8,630.9 L491.3,631.0 L491.8,631.2 L492.3,631.3 L492.8,631.4 L493.3,631.5 L493.8,631.6 L494.3,631.7 L494.8,631.8 L495.3,631.8 L495.8,631.9 L496.3,631.9 L496.8,631.9 L497.3,631.9 L497.8,631.9 L498.3,631.9 L498.8,631.9 L499.3,631.9 L499.8,631.9 L500.3,631.9 L500.8,631.9 L501.3,631.9 L501.8,631.9 L502.3,631.9 L502.8,631.9 L503.3,631.9 L503.8,631.9 L504.3,631.9 L504.8,631.9 L505.3,631.9 L505.8,631.9 L506.3,631.9 L506.8,631.9 L507.3,631.9 L507.8,631.9 L508.3,631.9 L508.8,631.9 L509.3,631.9 L509.8,631.9 L510.3,631.9 L510.8,631.9 L511.3,631.9 L511.8,631.9 L512.3,631.9 L512.8,631.9" fill="none" stroke="#e2505e" stroke-width="0.55"/>
<path d="M474.8,631.9 L475.3,631.9 L475.8,631.9 L476.3,631.9 L476.8,631.9 L477.3,631.9 L477.8,631.9 L478.3,631.8 L478.8,631.4 L479.3,630.5 L479.8,628.9 L480.3,626.2 L480.8,622.2 L481.3,616.6 L481.8,610.1 L482.3,603.3 L482.8,597.5 L483.3,594.1 L483.8,593.6 L484.3,594.6 L484.8,596.6 L485.3,599.4 L485.8,602.9 L486.3,606.7 L486.8,610.5 L487.3,614.2 L487.8,617.6 L488.3,620.5 L488.8,622.9 L489.3,624.9 L489.8,626.4 L490.3,627.6 L490.8,628.5 L491.3,629.1 L491.8,629.6 L492.3,629.9 L492.8,630.2 L493.3,630.4 L493.8,630.6 L494.3,630.8 L494.8,630.9 L495.3,631.0 L495.8,631.1 L496.3,631.3 L496.8,631.4 L497.3,631.4 L497.8,631.5 L498.3,631.6 L498.8,631.7 L499.3,631.7 L499.8,631.8 L500.3,631.8 L500.8,631.9 L501.3,631.9 L501.8,631.9 L502.3,631.9 L502.8,631.9 L503.3,631.9 L503.8,631.9 L504.3,631.9 L504.8,631.9 L505.3,631.9 L505.8,631.9 L506.3,631.9 L506.8,631.9 L507.3,631.9 L507.8,631.9 L508.3,631.9 L508.8,631.9 L509.3,631.9 L509.8,631.9 L510.3,631.9 L510.8,631.9 L511.3,631.9 L511.8,631.9 L512.3,631.9 L512.8,631.9" fill="none" stroke="#f59a45" stroke-width="0.55"/>
<path d="M474.8,631.9 L475.3,631.9 L475.8,631.9 L476.3,631.9 L476.8,631.9 L477.3,631.9 L477.8,631.5 L478.3,630.7 L478.8,628.9 L479.3,625.8 L479.8,621.0 L480.3,614.7 L480.8,607.5 L481.3,601.0 L481.8,597.0 L482.3,596.5 L482.8,598.4 L483.3,602.2 L483.8,607.1 L484.3,612.4 L484.8,617.3 L485.3,621.4 L485.8,624.6 L486.3,626.8 L486.8,628.3 L487.3,629.3 L487.8,629.9 L488.3,630.3 L488.8,630.6 L489.3,630.8 L489.8,631.0 L490.3,631.2 L490.8,631.3 L491.3,631.5 L491.8,631.6 L492.3,631.7 L492.8,631.8 L493.3,631.8 L493.8,631.9 L494.3,631.9 L494.8,631.9 L495.3,631.9 L495.8,631.9 L496.3,631.9 L496.8,631.9 L497.3,631.9 L497.8,631.9 L498.3,631.9 L498.8,631.9 L499.3,631.9 L499.8,631.9 L500.3,631.9 L500.8,631.9 L501.3,631.9 L501.8,631.9 L502.3,631.9 L502.8,631.9 L503.3,631.9 L503.8,631.9 L504.3,631.9 L504.8,631.9 L505.3,631.9 L505.8,631.9 L506.3,631.9 L506.8,631.9 L507.3,631.9 L507.8,631.9 L508.3,631.9 L508.8,631.9 L509.3,631.9 L509.8,631.9 L510.3,631.9 L510.8,631.9 L511.3,631.9 L511.8,631.9 L512.3,631.9 L512.8,631.9" fill="none" stroke="#b855c8" stroke-width="0.55"/>
<path d="M474.8,631.9 L475.3,631.9 L475.8,631.9 L476.3,631.9 L476.8,631.7 L477.3,631.1 L477.8,629.8 L478.3,627.5 L478.8,623.8 L479.3,618.5 L479.8,611.8 L480.3,604.6 L480.8,598.4 L481.3,594.6 L481.8,594.1 L482.3,596.0 L482.8,599.7 L483.3,604.5 L483.8,609.8 L484.3,614.9 L484.8,619.4 L485.3,622.9 L485.8,625.6 L486.3,627.4 L486.8,628.6 L487.3,629.4 L487.8,629.9 L488.3,630.3 L488.8,630.6 L489.3,630.8 L489.8,631.0 L490.3,631.2 L490.8,631.3 L491.3,631.4 L491.8,631.5 L492.3,631.6 L492.8,631.7 L493.3,631.8 L493.8,631.9 L494.3,631.9 L494.8,631.9 L495.3,631.9 L495.8,631.9 L496.3,631.9 L496.8,631.9 L497.3,631.9 L497.8,631.9 L498.3,631.9 L498.8,631.9 L499.3,631.9 L499.8,631.9 L500.3,631.9 L500.8,631.9 L501.3,631.9 L501.8,631.9 L502.3,631.9 L502.8,631.9 L503.3,631.9 L503.8,631.9 L504.3,631.9 L504.8,631.9 L505.3,631.9 L505.8,631.9 L506.3,631.9 L506.8,631.9 L507.3,631.9 L507.8,631.9 L508.3,631.9 L508.8,631.9 L509.3,631.9 L509.8,631.9 L510.3,631.9 L510.8,631.9 L511.3,631.9 L511.8,631.9 L512.3,631.9 L512.8,631.9" fill="none" stroke="#6a50c0" stroke-width="0.55"/>
<rect x="473.8" y="590.5" width="40.0" height="42.0" fill="none" stroke="#6a6a6a" stroke-width="0.7"/>
<line x1="472.5" y1="632.10" x2="473.8" y2="632.10" stroke="#444" stroke-width="0.5"/>
<text x="472.20" y="633.40" font-size="3.7" text-anchor="end" fill="#333">0</text>
<line x1="472.5" y1="624.14" x2="473.8" y2="624.14" stroke="#444" stroke-width="0.5"/>
<text x="472.20" y="625.44" font-size="3.7" text-anchor="end" fill="#333">20</text>
<line x1="472.5" y1="616.18" x2="473.8" y2="616.18" stroke="#444" stroke-width="0.5"/>
<text x="472.20" y="617.48" font-size="3.7" text-anchor="end" fill="#333">40</text>
<line x1="472.5" y1="608.22" x2="473.8" y2="608.22" stroke="#444" stroke-width="0.5"/>
<text x="472.20" y="609.52" font-size="3.7" text-anchor="end" fill="#333">60</text>
<line x1="472.5" y1="600.26" x2="473.8" y2="600.26" stroke="#444" stroke-width="0.5"/>
<text x="472.20" y="601.56" font-size="3.7" text-anchor="end" fill="#333">80</text>
<line x1="472.5" y1="592.30" x2="473.8" y2="592.30" stroke="#444" stroke-width="0.5"/>
<text x="472.20" y="593.60" font-size="3.7" text-anchor="end" fill="#333">100</text>
<text x="477.50" y="637.70" font-size="3.7" text-anchor="middle" fill="#333">0</text>
<text x="482.70" y="637.70" font-size="3.7" text-anchor="middle" fill="#333">10<tspan font-size="2.6" dy="-1.4">2</tspan></text>
<line x1="482.20" y1="632.5" x2="482.20" y2="633.6" stroke="#444" stroke-width="0.45"/>
<text x="491.55" y="637.70" font-size="3.7" text-anchor="middle" fill="#333">10<tspan font-size="2.6" dy="-1.4">3</tspan></text>
<line x1="491.05" y1="632.5" x2="491.05" y2="633.6" stroke="#444" stroke-width="0.45"/>
<text x="500.40" y="637.70" font-size="3.7" text-anchor="middle" fill="#333">10<tspan font-size="2.6" dy="-1.4">4</tspan></text>
<line x1="499.90" y1="632.5" x2="499.90" y2="633.6" stroke="#444" stroke-width="0.45"/>
<text x="509.25" y="637.70" font-size="3.7" text-anchor="middle" fill="#333">10<tspan font-size="2.6" dy="-1.4">5</tspan></text>
<line x1="508.75" y1="632.5" x2="508.75" y2="633.6" stroke="#444" stroke-width="0.45"/>
<line x1="484.86" y1="632.5" x2="484.86" y2="633.2" stroke="#555" stroke-width="0.3"/>
<line x1="486.42" y1="632.5" x2="486.42" y2="633.2" stroke="#555" stroke-width="0.3"/>
<line x1="487.53" y1="632.5" x2="487.53" y2="633.2" stroke="#555" stroke-width="0.3"/>
<line x1="488.39" y1="632.5" x2="488.39" y2="633.2" stroke="#555" stroke-width="0.3"/>
<line x1="489.09" y1="632.5" x2="489.09" y2="633.2" stroke="#555" stroke-width="0.3"/>
<line x1="489.68" y1="632.5" x2="489.68" y2="633.2" stroke="#555" stroke-width="0.3"/>
<line x1="490.19" y1="632.5" x2="490.19" y2="633.2" stroke="#555" stroke-width="0.3"/>
<line x1="490.65" y1="632.5" x2="490.65" y2="633.2" stroke="#555" stroke-width="0.3"/>
<line x1="493.71" y1="632.5" x2="493.71" y2="633.2" stroke="#555" stroke-width="0.3"/>
<line x1="495.27" y1="632.5" x2="495.27" y2="633.2" stroke="#555" stroke-width="0.3"/>
<line x1="496.38" y1="632.5" x2="496.38" y2="633.2" stroke="#555" stroke-width="0.3"/>
<line x1="497.24" y1="632.5" x2="497.24" y2="633.2" stroke="#555" stroke-width="0.3"/>
<line x1="497.94" y1="632.5" x2="497.94" y2="633.2" stroke="#555" stroke-width="0.3"/>
<line x1="498.53" y1="632.5" x2="498.53" y2="633.2" stroke="#555" stroke-width="0.3"/>
<line x1="499.04" y1="632.5" x2="499.04" y2="633.2" stroke="#555" stroke-width="0.3"/>
<line x1="499.50" y1="632.5" x2="499.50" y2="633.2" stroke="#555" stroke-width="0.3"/>
<line x1="502.56" y1="632.5" x2="502.56" y2="633.2" stroke="#555" stroke-width="0.3"/>
<line x1="504.12" y1="632.5" x2="504.12" y2="633.2" stroke="#555" stroke-width="0.3"/>
<line x1="505.23" y1="632.5" x2="505.23" y2="633.2" stroke="#555" stroke-width="0.3"/>
<line x1="506.09" y1="632.5" x2="506.09" y2="633.2" stroke="#555" stroke-width="0.3"/>
<line x1="506.79" y1="632.5" x2="506.79" y2="633.2" stroke="#555" stroke-width="0.3"/>
<line x1="507.38" y1="632.5" x2="507.38" y2="633.2" stroke="#555" stroke-width="0.3"/>
<line x1="507.89" y1="632.5" x2="507.89" y2="633.2" stroke="#555" stroke-width="0.3"/>
<line x1="508.35" y1="632.5" x2="508.35" y2="633.2" stroke="#555" stroke-width="0.3"/>
<line x1="413.3" y1="402.5" x2="413.3" y2="604.2" stroke="#111" stroke-width="1.6"/>
<polygon points="409.8,404 416.8,404 413.3,398.6" fill="#111"/>
<text font-size="10" font-weight="bold" text-anchor="middle" fill="#111" transform="translate(415.6,621.6) rotate(-90) scale(0.7,1)">% of max</text>
<text x="444.1" y="647.5" font-size="9.4" font-weight="bold" text-anchor="middle" fill="#111" transform="translate(444.1,0) scale(0.66,1) translate(-444.1,0)">1:20</text>
<text x="494.0" y="647.5" font-size="9.4" font-weight="bold" text-anchor="middle" fill="#111" transform="translate(494.0,0) scale(0.66,1) translate(-494.0,0)">1:40</text>
<rect x="432.6" y="654.3" width="5.5" height="5.5" fill="#ee3a2a"/>
<text x="440.40" y="659.50" font-size="7.4" text-anchor="start" fill="#231f20" font-weight="normal" >d0</text>
<rect x="454.8" y="654.3" width="5.5" height="5.5" fill="#6cbf45"/>
<text x="462.60" y="659.50" font-size="7.4" text-anchor="start" fill="#231f20" font-weight="normal" >d14</text>
<rect x="482.4" y="654.3" width="5.5" height="5.5" fill="#80d2d0"/>
<text x="490.20" y="659.50" font-size="7.4" text-anchor="start" fill="#231f20" font-weight="normal" >d60</text>
<rect x="432.6" y="665.8" width="5.5" height="5.5" fill="#3d3a9a"/>
<text x="440.40" y="671.00" font-size="7.4" text-anchor="start" fill="#231f20" font-weight="normal" >d7</text>
<rect x="454.8" y="665.8" width="5.5" height="5.5" fill="#f7861f"/>
<text x="462.60" y="671.00" font-size="7.4" text-anchor="start" fill="#231f20" font-weight="normal" >d21</text>
<rect x="482.4" y="665.8" width="5.5" height="5.5" fill="#c23c9e"/>
<text x="490.20" y="671.00" font-size="7.4" text-anchor="start" fill="#231f20" font-weight="normal" >d120</text>
<rect x="0.5" y="0.5" width="519" height="677" fill="none" stroke="#000" stroke-width="1.2"/>
</svg>
</body></html>
